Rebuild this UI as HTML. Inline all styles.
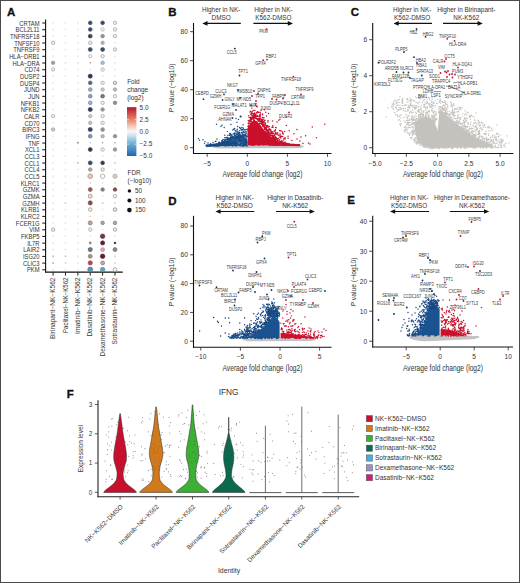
<!DOCTYPE html>
<html><head><meta charset="utf-8"><style>
html,body{margin:0;padding:0;background:#fff;}
body{width:520px;height:583px;overflow:hidden;}
svg{display:block;font-family:"Liberation Sans",sans-serif;}
</style></head><body>
<svg width="520" height="583" viewBox="0 0 520 583">
<rect x="0" y="0" width="520" height="583" fill="#fff"/>
<text x="7" y="16.3" font-size="11.5" fill="#111" font-weight="bold" stroke="#111" stroke-width="0.3">A</text>
<text x="39.6" y="25.65" font-size="6.3" text-anchor="end" fill="#333" textLength="20.29" lengthAdjust="spacingAndGlyphs">CRTAM</text>
<line x1="42.3" y1="23" x2="45.6" y2="23" stroke="#222" stroke-width="1.1"/>
<text x="39.6" y="32.32" font-size="6.3" text-anchor="end" fill="#333" textLength="24" lengthAdjust="spacingAndGlyphs">BCL2L11</text>
<line x1="42.3" y1="29.67" x2="45.6" y2="29.67" stroke="#222" stroke-width="1.1"/>
<text x="39.6" y="38.99" font-size="6.3" text-anchor="end" fill="#333" textLength="29.62" lengthAdjust="spacingAndGlyphs">TNFRSF18</text>
<line x1="42.3" y1="36.34" x2="45.6" y2="36.34" stroke="#222" stroke-width="1.1"/>
<text x="39.6" y="45.66" font-size="6.3" text-anchor="end" fill="#333" textLength="25.39" lengthAdjust="spacingAndGlyphs">TNFSF10</text>
<line x1="42.3" y1="43.01" x2="45.6" y2="43.01" stroke="#222" stroke-width="1.1"/>
<text x="39.6" y="52.33" font-size="6.3" text-anchor="end" fill="#333" textLength="26.36" lengthAdjust="spacingAndGlyphs">TNFRSF9</text>
<line x1="42.3" y1="49.68" x2="45.6" y2="49.68" stroke="#222" stroke-width="1.1"/>
<text x="39.6" y="59" font-size="6.3" text-anchor="end" fill="#333" textLength="30.45" lengthAdjust="spacingAndGlyphs">HLA−DRB1</text>
<line x1="42.3" y1="56.35" x2="45.6" y2="56.35" stroke="#222" stroke-width="1.1"/>
<text x="39.6" y="65.67" font-size="6.3" text-anchor="end" fill="#333" textLength="27.19" lengthAdjust="spacingAndGlyphs">HLA−DRA</text>
<line x1="42.3" y1="63.02" x2="45.6" y2="63.02" stroke="#222" stroke-width="1.1"/>
<text x="39.6" y="72.34" font-size="6.3" text-anchor="end" fill="#333" textLength="14.98" lengthAdjust="spacingAndGlyphs">CD74</text>
<line x1="42.3" y1="69.69" x2="45.6" y2="69.69" stroke="#222" stroke-width="1.1"/>
<text x="39.6" y="79.01" font-size="6.3" text-anchor="end" fill="#333" textLength="19.54" lengthAdjust="spacingAndGlyphs">DUSP2</text>
<line x1="42.3" y1="76.36" x2="45.6" y2="76.36" stroke="#222" stroke-width="1.1"/>
<text x="39.6" y="85.68" font-size="6.3" text-anchor="end" fill="#333" textLength="19.54" lengthAdjust="spacingAndGlyphs">DUSP4</text>
<line x1="42.3" y1="83.03" x2="45.6" y2="83.03" stroke="#222" stroke-width="1.1"/>
<text x="39.6" y="92.35" font-size="6.3" text-anchor="end" fill="#333" textLength="15.62" lengthAdjust="spacingAndGlyphs">JUND</text>
<line x1="42.3" y1="89.7" x2="45.6" y2="89.7" stroke="#222" stroke-width="1.1"/>
<text x="39.6" y="99.02" font-size="6.3" text-anchor="end" fill="#333" textLength="11.39" lengthAdjust="spacingAndGlyphs">JUN</text>
<line x1="42.3" y1="96.37" x2="45.6" y2="96.37" stroke="#222" stroke-width="1.1"/>
<text x="39.6" y="105.69" font-size="6.3" text-anchor="end" fill="#333" textLength="18.88" lengthAdjust="spacingAndGlyphs">NFKB1</text>
<line x1="42.3" y1="103.04" x2="45.6" y2="103.04" stroke="#222" stroke-width="1.1"/>
<text x="39.6" y="112.36" font-size="6.3" text-anchor="end" fill="#333" textLength="18.88" lengthAdjust="spacingAndGlyphs">NFKB2</text>
<line x1="42.3" y1="109.71" x2="45.6" y2="109.71" stroke="#222" stroke-width="1.1"/>
<text x="39.6" y="119.03" font-size="6.3" text-anchor="end" fill="#333" textLength="15.63" lengthAdjust="spacingAndGlyphs">CALR</text>
<line x1="42.3" y1="116.38" x2="45.6" y2="116.38" stroke="#222" stroke-width="1.1"/>
<text x="39.6" y="125.7" font-size="6.3" text-anchor="end" fill="#333" textLength="14.98" lengthAdjust="spacingAndGlyphs">CD70</text>
<line x1="42.3" y1="123.05" x2="45.6" y2="123.05" stroke="#222" stroke-width="1.1"/>
<text x="39.6" y="132.37" font-size="6.3" text-anchor="end" fill="#333" textLength="17.26" lengthAdjust="spacingAndGlyphs">BIRC3</text>
<line x1="42.3" y1="129.72" x2="45.6" y2="129.72" stroke="#222" stroke-width="1.1"/>
<text x="39.6" y="139.04" font-size="6.3" text-anchor="end" fill="#333" textLength="13.99" lengthAdjust="spacingAndGlyphs">IFNG</text>
<line x1="42.3" y1="136.39" x2="45.6" y2="136.39" stroke="#222" stroke-width="1.1"/>
<text x="39.6" y="145.71" font-size="6.3" text-anchor="end" fill="#333" textLength="11.39" lengthAdjust="spacingAndGlyphs">TNF</text>
<line x1="42.3" y1="143.06" x2="45.6" y2="143.06" stroke="#222" stroke-width="1.1"/>
<text x="39.6" y="152.38" font-size="6.3" text-anchor="end" fill="#333" textLength="14.66" lengthAdjust="spacingAndGlyphs">XCL1</text>
<line x1="42.3" y1="149.73" x2="45.6" y2="149.73" stroke="#222" stroke-width="1.1"/>
<text x="39.6" y="159.05" font-size="6.3" text-anchor="end" fill="#333" textLength="14.98" lengthAdjust="spacingAndGlyphs">CCL3</text>
<line x1="42.3" y1="156.4" x2="45.6" y2="156.4" stroke="#222" stroke-width="1.1"/>
<text x="39.6" y="165.72" font-size="6.3" text-anchor="end" fill="#333" textLength="14.98" lengthAdjust="spacingAndGlyphs">CCL1</text>
<line x1="42.3" y1="163.07" x2="45.6" y2="163.07" stroke="#222" stroke-width="1.1"/>
<text x="39.6" y="172.39" font-size="6.3" text-anchor="end" fill="#333" textLength="14.98" lengthAdjust="spacingAndGlyphs">CCL4</text>
<line x1="42.3" y1="169.74" x2="45.6" y2="169.74" stroke="#222" stroke-width="1.1"/>
<text x="39.6" y="179.06" font-size="6.3" text-anchor="end" fill="#333" textLength="14.98" lengthAdjust="spacingAndGlyphs">CCL5</text>
<line x1="42.3" y1="176.41" x2="45.6" y2="176.41" stroke="#222" stroke-width="1.1"/>
<text x="39.6" y="185.73" font-size="6.3" text-anchor="end" fill="#333" textLength="18.89" lengthAdjust="spacingAndGlyphs">KLRC1</text>
<line x1="42.3" y1="183.08" x2="45.6" y2="183.08" stroke="#222" stroke-width="1.1"/>
<text x="39.6" y="192.4" font-size="6.3" text-anchor="end" fill="#333" textLength="16.92" lengthAdjust="spacingAndGlyphs">GZMK</text>
<line x1="42.3" y1="189.75" x2="45.6" y2="189.75" stroke="#222" stroke-width="1.1"/>
<text x="39.6" y="199.07" font-size="6.3" text-anchor="end" fill="#333" textLength="16.92" lengthAdjust="spacingAndGlyphs">GZMA</text>
<line x1="42.3" y1="196.42" x2="45.6" y2="196.42" stroke="#222" stroke-width="1.1"/>
<text x="39.6" y="205.74" font-size="6.3" text-anchor="end" fill="#333" textLength="17.25" lengthAdjust="spacingAndGlyphs">GZMH</text>
<line x1="42.3" y1="203.09" x2="45.6" y2="203.09" stroke="#222" stroke-width="1.1"/>
<text x="39.6" y="212.41" font-size="6.3" text-anchor="end" fill="#333" textLength="18.56" lengthAdjust="spacingAndGlyphs">KLRB1</text>
<line x1="42.3" y1="209.76" x2="45.6" y2="209.76" stroke="#222" stroke-width="1.1"/>
<text x="39.6" y="219.08" font-size="6.3" text-anchor="end" fill="#333" textLength="18.89" lengthAdjust="spacingAndGlyphs">KLRC2</text>
<line x1="42.3" y1="216.43" x2="45.6" y2="216.43" stroke="#222" stroke-width="1.1"/>
<text x="39.6" y="225.75" font-size="6.3" text-anchor="end" fill="#333" textLength="23.76" lengthAdjust="spacingAndGlyphs">FCER1G</text>
<line x1="42.3" y1="223.1" x2="45.6" y2="223.1" stroke="#222" stroke-width="1.1"/>
<text x="39.6" y="232.42" font-size="6.3" text-anchor="end" fill="#333" textLength="10.42" lengthAdjust="spacingAndGlyphs">VIM</text>
<line x1="42.3" y1="229.77" x2="45.6" y2="229.77" stroke="#222" stroke-width="1.1"/>
<text x="39.6" y="239.09" font-size="6.3" text-anchor="end" fill="#333" textLength="18.56" lengthAdjust="spacingAndGlyphs">FKBP5</text>
<line x1="42.3" y1="236.44" x2="45.6" y2="236.44" stroke="#222" stroke-width="1.1"/>
<text x="39.6" y="245.76" font-size="6.3" text-anchor="end" fill="#333" textLength="12.38" lengthAdjust="spacingAndGlyphs">IL7R</text>
<line x1="42.3" y1="243.11" x2="45.6" y2="243.11" stroke="#222" stroke-width="1.1"/>
<text x="39.6" y="252.43" font-size="6.3" text-anchor="end" fill="#333" textLength="16.28" lengthAdjust="spacingAndGlyphs">LAIR2</text>
<line x1="42.3" y1="249.78" x2="45.6" y2="249.78" stroke="#222" stroke-width="1.1"/>
<text x="39.6" y="259.1" font-size="6.3" text-anchor="end" fill="#333" textLength="16.61" lengthAdjust="spacingAndGlyphs">ISG20</text>
<line x1="42.3" y1="256.45" x2="45.6" y2="256.45" stroke="#222" stroke-width="1.1"/>
<text x="39.6" y="265.77" font-size="6.3" text-anchor="end" fill="#333" textLength="16.61" lengthAdjust="spacingAndGlyphs">CLIC3</text>
<line x1="42.3" y1="263.12" x2="45.6" y2="263.12" stroke="#222" stroke-width="1.1"/>
<text x="39.6" y="272.44" font-size="6.3" text-anchor="end" fill="#333" textLength="12.7" lengthAdjust="spacingAndGlyphs">PKM</text>
<line x1="42.3" y1="269.79" x2="45.6" y2="269.79" stroke="#222" stroke-width="1.1"/>
<line x1="45.6" y1="19.5" x2="45.6" y2="272.6" stroke="#111" stroke-width="1.1"/>
<line x1="45.1" y1="272.1" x2="122.8" y2="272.1" stroke="#111" stroke-width="1.1"/>
<line x1="53.1" y1="272.1" x2="53.1" y2="275.6" stroke="#222" stroke-width="1"/>
<text x="0" y="0" font-size="6.3" fill="#333" text-anchor="end" textLength="61.4" lengthAdjust="spacingAndGlyphs" transform="translate(55.3 277.6) rotate(-90)">Birinapant−NK−K562</text>
<line x1="65.48" y1="272.1" x2="65.48" y2="275.6" stroke="#222" stroke-width="1"/>
<text x="0" y="0" font-size="6.3" fill="#333" text-anchor="end" textLength="55.4" lengthAdjust="spacingAndGlyphs" transform="translate(67.68 277.6) rotate(-90)">Paclitaxel−NK−K562</text>
<line x1="77.86" y1="272.1" x2="77.86" y2="275.6" stroke="#222" stroke-width="1"/>
<text x="0" y="0" font-size="6.3" fill="#333" text-anchor="end" textLength="56.4" lengthAdjust="spacingAndGlyphs" transform="translate(80.06 277.6) rotate(-90)">Imatinib−NK−K562</text>
<line x1="90.24" y1="272.1" x2="90.24" y2="275.6" stroke="#222" stroke-width="1"/>
<text x="0" y="0" font-size="6.3" fill="#333" text-anchor="end" textLength="59" lengthAdjust="spacingAndGlyphs" transform="translate(92.44 277.6) rotate(-90)">Dasatinib−NK−K562</text>
<line x1="102.62" y1="272.1" x2="102.62" y2="275.6" stroke="#222" stroke-width="1"/>
<text x="0" y="0" font-size="6.3" fill="#333" text-anchor="end" textLength="78.9" lengthAdjust="spacingAndGlyphs" transform="translate(104.82 277.6) rotate(-90)">Dexamethasone−NK−K562</text>
<line x1="115" y1="272.1" x2="115" y2="275.6" stroke="#222" stroke-width="1"/>
<text x="0" y="0" font-size="6.3" fill="#333" text-anchor="end" textLength="66.8" lengthAdjust="spacingAndGlyphs" transform="translate(117.2 277.6) rotate(-90)">Sotrastaurin−NK−K562</text>
<circle cx="53.1" cy="22.8" r="1" fill="#e9e9e9"/>
<circle cx="65.48" cy="22.8" r="1" fill="#e9e9e9"/>
<circle cx="77.86" cy="22.8" r="1" fill="#e9e9e9"/>
<circle cx="90.24" cy="22.8" r="1.87" fill="#34506f" stroke="#556" stroke-width="0.7"/>
<circle cx="102.62" cy="22.8" r="1.87" fill="#30496a" stroke="#556" stroke-width="0.7"/>
<circle cx="115" cy="22.8" r="1.69" fill="#f2f2f2" stroke="#999" stroke-width="0.7"/>
<circle cx="53.1" cy="29.47" r="1" fill="#e9e9e9"/>
<circle cx="65.48" cy="29.47" r="1" fill="#e9e9e9"/>
<circle cx="77.86" cy="29.47" r="1" fill="#e9e9e9"/>
<circle cx="90.24" cy="29.47" r="1.87" fill="#34506f" stroke="#556" stroke-width="0.7"/>
<circle cx="102.62" cy="29.47" r="1.69" fill="#f4eeee" stroke="#aaa" stroke-width="0.7"/>
<circle cx="115" cy="29.47" r="1.69" fill="#f2f2f2" stroke="#999" stroke-width="0.7"/>
<circle cx="53.1" cy="36.14" r="1" fill="#e9e9e9"/>
<circle cx="65.48" cy="36.14" r="1" fill="#e9e9e9"/>
<circle cx="77.86" cy="36.14" r="1" fill="#e9e9e9"/>
<circle cx="90.24" cy="36.14" r="1.96" fill="#2f4560" stroke="#555" stroke-width="0.7"/>
<circle cx="102.62" cy="36.14" r="1.78" fill="#8f959c" stroke="#888" stroke-width="0.7"/>
<circle cx="115" cy="36.14" r="1.69" fill="#f2f2f2" stroke="#999" stroke-width="0.7"/>
<circle cx="53.1" cy="42.81" r="1.69" fill="#f2f2f2" stroke="#999" stroke-width="0.7"/>
<circle cx="65.48" cy="42.81" r="1" fill="#e9e9e9"/>
<circle cx="77.86" cy="42.81" r="1" fill="#e9e9e9"/>
<circle cx="90.24" cy="42.81" r="1.69" fill="#f2f2f2" stroke="#8a94a0" stroke-width="0.7"/>
<circle cx="102.62" cy="42.81" r="1.69" fill="#b0b4b8" stroke="#999" stroke-width="0.7"/>
<circle cx="115" cy="42.81" r="1" fill="#e9e9e9"/>
<circle cx="53.1" cy="49.48" r="1" fill="#e9e9e9"/>
<circle cx="65.48" cy="49.48" r="1" fill="#e9e9e9"/>
<circle cx="77.86" cy="49.48" r="1" fill="#e9e9e9"/>
<circle cx="90.24" cy="49.48" r="1.96" fill="#34506f" stroke="#556" stroke-width="0.7"/>
<circle cx="102.62" cy="49.48" r="1.96" fill="#2f4b6e" stroke="#556" stroke-width="0.7"/>
<circle cx="115" cy="49.48" r="1.69" fill="#f2f2f2" stroke="#8a9aa8" stroke-width="0.7"/>
<circle cx="53.1" cy="56.15" r="0.9" fill="#f0dcd8"/>
<circle cx="65.48" cy="56.15" r="1" fill="#e9e9e9"/>
<circle cx="77.86" cy="56.15" r="1" fill="#e9e9e9"/>
<circle cx="90.24" cy="56.15" r="1.69" fill="#f2f2f2" stroke="#aab0b8" stroke-width="0.7"/>
<circle cx="102.62" cy="56.15" r="1.69" fill="#f2f2f2" stroke="#999" stroke-width="0.7"/>
<circle cx="115" cy="56.15" r="1" fill="#e9e9e9"/>
<circle cx="53.1" cy="62.82" r="1.78" fill="#a69a92" stroke="#999" stroke-width="0.7"/>
<circle cx="65.48" cy="62.82" r="0.9" fill="#f0d8d8"/>
<circle cx="77.86" cy="62.82" r="0.9" fill="#f0d8d8"/>
<circle cx="90.24" cy="62.82" r="0.7" fill="#d06060"/>
<circle cx="102.62" cy="62.82" r="1.78" fill="#a8c0d6" stroke="#8a9aaa" stroke-width="0.7"/>
<circle cx="115" cy="62.82" r="0.9" fill="#f0dcd8"/>
<circle cx="53.1" cy="69.49" r="1.6" fill="#f2f2f2" stroke="#999" stroke-width="0.7"/>
<circle cx="65.48" cy="69.49" r="1" fill="#e9e9e9"/>
<circle cx="77.86" cy="69.49" r="1" fill="#e9e9e9"/>
<circle cx="90.24" cy="69.49" r="0.9" fill="#e4e4f0"/>
<circle cx="102.62" cy="69.49" r="1.69" fill="#f2f2f2" stroke="#999" stroke-width="0.7"/>
<circle cx="115" cy="69.49" r="1" fill="#e9e9e9"/>
<circle cx="53.1" cy="76.16" r="1" fill="#e9e9e9"/>
<circle cx="65.48" cy="76.16" r="1" fill="#e9e9e9"/>
<circle cx="77.86" cy="76.16" r="1" fill="#e9e9e9"/>
<circle cx="90.24" cy="76.16" r="2.05" fill="#26395a" stroke="#445" stroke-width="0.7"/>
<circle cx="102.62" cy="76.16" r="1" fill="#e9e9e9"/>
<circle cx="115" cy="76.16" r="1" fill="#e9e9e9"/>
<circle cx="53.1" cy="82.83" r="1" fill="#e9e9e9"/>
<circle cx="65.48" cy="82.83" r="1" fill="#e9e9e9"/>
<circle cx="77.86" cy="82.83" r="1" fill="#e9e9e9"/>
<circle cx="90.24" cy="82.83" r="1.87" fill="#4f6886" stroke="#667" stroke-width="0.7"/>
<circle cx="102.62" cy="82.83" r="1.69" fill="#f2f2f2" stroke="#999" stroke-width="0.7"/>
<circle cx="115" cy="82.83" r="1.69" fill="#dcdcdc" stroke="#888" stroke-width="0.7"/>
<circle cx="53.1" cy="89.5" r="1" fill="#e9e9e9"/>
<circle cx="65.48" cy="89.5" r="1" fill="#e9e9e9"/>
<circle cx="77.86" cy="89.5" r="1" fill="#e9e9e9"/>
<circle cx="90.24" cy="89.5" r="1.87" fill="#9aabbd" stroke="#7a8a9a" stroke-width="0.7"/>
<circle cx="102.62" cy="89.5" r="1.69" fill="#c8ccd0" stroke="#999" stroke-width="0.7"/>
<circle cx="115" cy="89.5" r="1.69" fill="#c0c4c8" stroke="#8a8a8a" stroke-width="0.7"/>
<circle cx="53.1" cy="96.17" r="1" fill="#e9e9e9"/>
<circle cx="65.48" cy="96.17" r="1" fill="#e9e9e9"/>
<circle cx="77.86" cy="96.17" r="1" fill="#e9e9e9"/>
<circle cx="90.24" cy="96.17" r="1.87" fill="#8ea1b5" stroke="#778" stroke-width="0.7"/>
<circle cx="102.62" cy="96.17" r="1.87" fill="#6f7a86" stroke="#666" stroke-width="0.7"/>
<circle cx="115" cy="96.17" r="1.69" fill="#f2f2f2" stroke="#999" stroke-width="0.7"/>
<circle cx="53.1" cy="102.84" r="1" fill="#e9e9e9"/>
<circle cx="65.48" cy="102.84" r="1" fill="#e9e9e9"/>
<circle cx="77.86" cy="102.84" r="1" fill="#e9e9e9"/>
<circle cx="90.24" cy="102.84" r="1.87" fill="#a0b0c0" stroke="#7a8a9a" stroke-width="0.7"/>
<circle cx="102.62" cy="102.84" r="1.69" fill="#f2f2f2" stroke="#999" stroke-width="0.7"/>
<circle cx="115" cy="102.84" r="1.78" fill="#8495a8" stroke="#778" stroke-width="0.7"/>
<circle cx="53.1" cy="109.51" r="1" fill="#e9e9e9"/>
<circle cx="65.48" cy="109.51" r="1" fill="#e9e9e9"/>
<circle cx="77.86" cy="109.51" r="1" fill="#e9e9e9"/>
<circle cx="90.24" cy="109.51" r="2.05" fill="#2a3f60" stroke="#445" stroke-width="0.7"/>
<circle cx="102.62" cy="109.51" r="1.78" fill="#8b9aab" stroke="#889" stroke-width="0.7"/>
<circle cx="115" cy="109.51" r="1" fill="#e9e9e9"/>
<circle cx="53.1" cy="116.18" r="1.6" fill="#f2f2f2" stroke="#999" stroke-width="0.7"/>
<circle cx="65.48" cy="116.18" r="1" fill="#e9e9e9"/>
<circle cx="77.86" cy="116.18" r="1" fill="#e9e9e9"/>
<circle cx="90.24" cy="116.18" r="1.69" fill="#c8ccd0" stroke="#999" stroke-width="0.7"/>
<circle cx="102.62" cy="116.18" r="1.69" fill="#f2f2f2" stroke="#999" stroke-width="0.7"/>
<circle cx="115" cy="116.18" r="0.9" fill="#f3e2da"/>
<circle cx="53.1" cy="122.85" r="1" fill="#e9e9e9"/>
<circle cx="65.48" cy="122.85" r="1" fill="#e9e9e9"/>
<circle cx="77.86" cy="122.85" r="1" fill="#e9e9e9"/>
<circle cx="90.24" cy="122.85" r="1.69" fill="#c4c8cc" stroke="#999" stroke-width="0.7"/>
<circle cx="102.62" cy="122.85" r="1.69" fill="#f2f2f2" stroke="#999" stroke-width="0.7"/>
<circle cx="115" cy="122.85" r="0.9" fill="#f3e2da"/>
<circle cx="53.1" cy="129.52" r="1.69" fill="#d8cfcc" stroke="#9a8a84" stroke-width="0.7"/>
<circle cx="65.48" cy="129.52" r="0.9" fill="#f3dcdc"/>
<circle cx="77.86" cy="129.52" r="0.9" fill="#e2eee2"/>
<circle cx="90.24" cy="129.52" r="2.05" fill="#2c4a6c" stroke="#445" stroke-width="0.7"/>
<circle cx="102.62" cy="129.52" r="1.87" fill="#8e949a" stroke="#888" stroke-width="0.7"/>
<circle cx="115" cy="129.52" r="1" fill="#e9e9e9"/>
<circle cx="53.1" cy="136.19" r="1" fill="#e9e9e9"/>
<circle cx="65.48" cy="136.19" r="1" fill="#e9e9e9"/>
<circle cx="77.86" cy="136.19" r="1" fill="#e9e9e9"/>
<circle cx="90.24" cy="136.19" r="1.87" fill="#7f95ad" stroke="#778" stroke-width="0.7"/>
<circle cx="102.62" cy="136.19" r="1.69" fill="#b4b8bc" stroke="#999" stroke-width="0.7"/>
<circle cx="115" cy="136.19" r="1.78" fill="#8696a8" stroke="#889" stroke-width="0.7"/>
<circle cx="53.1" cy="142.86" r="1" fill="#e9e9e9"/>
<circle cx="65.48" cy="142.86" r="0.9" fill="#f0dcdc"/>
<circle cx="77.86" cy="142.86" r="1" fill="#7a96a8"/>
<circle cx="90.24" cy="142.86" r="0.8" fill="#b0c0e0"/>
<circle cx="102.62" cy="142.86" r="0.8" fill="#9aa4b0"/>
<circle cx="115" cy="142.86" r="0.8" fill="#9aa4b0"/>
<circle cx="53.1" cy="149.53" r="1" fill="#e9e9e9"/>
<circle cx="65.48" cy="149.53" r="1" fill="#e9e9e9"/>
<circle cx="77.86" cy="149.53" r="1" fill="#e9e9e9"/>
<circle cx="90.24" cy="149.53" r="1.96" fill="#2e3b58" stroke="#445" stroke-width="0.7"/>
<circle cx="102.62" cy="149.53" r="1.69" fill="#f2f2f2" stroke="#999" stroke-width="0.7"/>
<circle cx="115" cy="149.53" r="1.78" fill="#9aa0a6" stroke="#888" stroke-width="0.7"/>
<circle cx="53.1" cy="156.2" r="1" fill="#e9e9e9"/>
<circle cx="65.48" cy="156.2" r="1" fill="#e9e9e9"/>
<circle cx="77.86" cy="156.2" r="1" fill="#e9e9e9"/>
<circle cx="90.24" cy="156.2" r="0.9" fill="#e4e8f4"/>
<circle cx="102.62" cy="156.2" r="1" fill="#e9e9e9"/>
<circle cx="115" cy="156.2" r="1" fill="#e9e9e9"/>
<circle cx="53.1" cy="162.87" r="1" fill="#e9e9e9"/>
<circle cx="65.48" cy="162.87" r="1" fill="#e9e9e9"/>
<circle cx="77.86" cy="162.87" r="1.1" fill="#c4c4c4"/>
<circle cx="90.24" cy="162.87" r="1.96" fill="#2d4c70" stroke="#445" stroke-width="0.7"/>
<circle cx="102.62" cy="162.87" r="1.87" fill="#2a3c58" stroke="#445" stroke-width="0.7"/>
<circle cx="115" cy="162.87" r="1.1" fill="#d4d8dc"/>
<circle cx="53.1" cy="169.54" r="1" fill="#e9e9e9"/>
<circle cx="65.48" cy="169.54" r="1" fill="#e9e9e9"/>
<circle cx="77.86" cy="169.54" r="1" fill="#e9e9e9"/>
<circle cx="90.24" cy="169.54" r="1.78" fill="#b0a6a2" stroke="#8a8480" stroke-width="0.7"/>
<circle cx="102.62" cy="169.54" r="1.69" fill="#f2f2f2" stroke="#888" stroke-width="0.7"/>
<circle cx="115" cy="169.54" r="1" fill="#e9e9e9"/>
<circle cx="53.1" cy="176.21" r="1" fill="#e9e9e9"/>
<circle cx="65.48" cy="176.21" r="1" fill="#e9e9e9"/>
<circle cx="77.86" cy="176.21" r="1" fill="#e9e9e9"/>
<circle cx="90.24" cy="176.21" r="2.4" fill="#e8c4bc" stroke="#a8908a" stroke-width="0.7"/>
<circle cx="102.62" cy="176.21" r="2.23" fill="#fafafa" stroke="#999" stroke-width="0.7"/>
<circle cx="115" cy="176.21" r="2.05" fill="#e6cac4" stroke="#a8948e" stroke-width="0.7"/>
<circle cx="53.1" cy="182.88" r="1" fill="#e9e9e9"/>
<circle cx="65.48" cy="182.88" r="1" fill="#e9e9e9"/>
<circle cx="77.86" cy="182.88" r="1" fill="#e9e9e9"/>
<circle cx="90.24" cy="182.88" r="0.8" fill="#e8c8b8"/>
<circle cx="102.62" cy="182.88" r="0.8" fill="#ddd"/>
<circle cx="115" cy="182.88" r="1" fill="#e9e9e9"/>
<circle cx="53.1" cy="189.55" r="1" fill="#e9e9e9"/>
<circle cx="65.48" cy="189.55" r="1" fill="#e9e9e9"/>
<circle cx="77.86" cy="189.55" r="1" fill="#e9e9e9"/>
<circle cx="90.24" cy="189.55" r="1.96" fill="#9c5a50" stroke="#7a5a56" stroke-width="0.7"/>
<circle cx="102.62" cy="189.55" r="1.78" fill="#8c7c7a" stroke="#777" stroke-width="0.7"/>
<circle cx="115" cy="189.55" r="1.78" fill="#8c4a48" stroke="#6a4a48" stroke-width="0.7"/>
<circle cx="53.1" cy="196.22" r="1" fill="#e9e9e9"/>
<circle cx="65.48" cy="196.22" r="1" fill="#e9e9e9"/>
<circle cx="77.86" cy="196.22" r="1" fill="#e9e9e9"/>
<circle cx="90.24" cy="196.22" r="1.96" fill="#f2e2dc" stroke="#9a7a72" stroke-width="0.7"/>
<circle cx="102.62" cy="196.22" r="0.9" fill="#f4e4e4"/>
<circle cx="115" cy="196.22" r="1.78" fill="#f4f2f2" stroke="#999" stroke-width="0.7"/>
<circle cx="53.1" cy="202.89" r="1" fill="#e9e9e9"/>
<circle cx="65.48" cy="202.89" r="0.9" fill="#ccc"/>
<circle cx="77.86" cy="202.89" r="1" fill="#e9e9e9"/>
<circle cx="90.24" cy="202.89" r="2.05" fill="#8a5048" stroke="#6a4a48" stroke-width="0.7"/>
<circle cx="102.62" cy="202.89" r="1" fill="#ccc"/>
<circle cx="115" cy="202.89" r="1" fill="#ddd"/>
<circle cx="53.1" cy="209.56" r="1" fill="#e9e9e9"/>
<circle cx="65.48" cy="209.56" r="1" fill="#e9e9e9"/>
<circle cx="77.86" cy="209.56" r="1" fill="#e9e9e9"/>
<circle cx="90.24" cy="209.56" r="1.78" fill="#f4ece8" stroke="#9a8a84" stroke-width="0.7"/>
<circle cx="102.62" cy="209.56" r="1" fill="#e9e9e9"/>
<circle cx="115" cy="209.56" r="1.78" fill="#f0e8e4" stroke="#8a7a74" stroke-width="0.7"/>
<circle cx="53.1" cy="216.23" r="1" fill="#e9e9e9"/>
<circle cx="65.48" cy="216.23" r="1" fill="#e9e9e9"/>
<circle cx="77.86" cy="216.23" r="1" fill="#e9e9e9"/>
<circle cx="90.24" cy="216.23" r="0.8" fill="#e8b8a8"/>
<circle cx="102.62" cy="216.23" r="0.9" fill="#e4ecec"/>
<circle cx="115" cy="216.23" r="0.8" fill="#e4ecf4"/>
<circle cx="53.1" cy="222.9" r="1" fill="#e9e9e9"/>
<circle cx="65.48" cy="222.9" r="1" fill="#e9e9e9"/>
<circle cx="77.86" cy="222.9" r="1" fill="#e9e9e9"/>
<circle cx="90.24" cy="222.9" r="2.05" fill="#c8a090" stroke="#9a7a70" stroke-width="0.7"/>
<circle cx="102.62" cy="222.9" r="1.78" fill="#b0a09a" stroke="#8a7a74" stroke-width="0.7"/>
<circle cx="115" cy="222.9" r="1.78" fill="#b4a49e" stroke="#8a7a74" stroke-width="0.7"/>
<circle cx="53.1" cy="229.57" r="1.69" fill="#f2f2f2" stroke="#888" stroke-width="0.7"/>
<circle cx="65.48" cy="229.57" r="1" fill="#e9e9e9"/>
<circle cx="77.86" cy="229.57" r="1" fill="#e9e9e9"/>
<circle cx="90.24" cy="229.57" r="1.69" fill="#f2f2f2" stroke="#999" stroke-width="0.7"/>
<circle cx="102.62" cy="229.57" r="1" fill="#e9e9e9"/>
<circle cx="115" cy="229.57" r="1.69" fill="#f2f2f2" stroke="#888" stroke-width="0.7"/>
<circle cx="53.1" cy="236.24" r="1" fill="#e9e9e9"/>
<circle cx="65.48" cy="236.24" r="1" fill="#e9e9e9"/>
<circle cx="77.86" cy="236.24" r="1" fill="#e9e9e9"/>
<circle cx="90.24" cy="236.24" r="1" fill="#e9e9e9"/>
<circle cx="102.62" cy="236.24" r="2.23" fill="#7c3444" stroke="#5a3a40" stroke-width="0.7"/>
<circle cx="115" cy="236.24" r="1" fill="#e9e9e9"/>
<circle cx="53.1" cy="242.91" r="1" fill="#e9e9e9"/>
<circle cx="65.48" cy="242.91" r="1" fill="#e9e9e9"/>
<circle cx="77.86" cy="242.91" r="1" fill="#e9e9e9"/>
<circle cx="90.24" cy="242.91" r="1.3" fill="#a87a68"/>
<circle cx="102.62" cy="242.91" r="2.05" fill="#6c1a30" stroke="#4a2a30" stroke-width="0.7"/>
<circle cx="115" cy="242.91" r="1.2" fill="#5a3030"/>
<circle cx="53.1" cy="249.58" r="1" fill="#e9e9e9"/>
<circle cx="65.48" cy="249.58" r="1" fill="#e9e9e9"/>
<circle cx="77.86" cy="249.58" r="1" fill="#e9e9e9"/>
<circle cx="90.24" cy="249.58" r="2.05" fill="#5f7f9f" stroke="#556" stroke-width="0.7"/>
<circle cx="102.62" cy="249.58" r="1.87" fill="#e8aab0" stroke="#a88088" stroke-width="0.7"/>
<circle cx="115" cy="249.58" r="1.96" fill="#7890a8" stroke="#667" stroke-width="0.7"/>
<circle cx="53.1" cy="256.25" r="1" fill="#b0c4d4"/>
<circle cx="65.48" cy="256.25" r="1" fill="#e8b8b8"/>
<circle cx="77.86" cy="256.25" r="0.9" fill="#f4dcdc"/>
<circle cx="90.24" cy="256.25" r="1.96" fill="#b0907e" stroke="#8a7a70" stroke-width="0.7"/>
<circle cx="102.62" cy="256.25" r="2.23" fill="#6a1a2c" stroke="#4a2a30" stroke-width="0.7"/>
<circle cx="115" cy="256.25" r="1.1" fill="#ead4c4"/>
<circle cx="53.1" cy="262.92" r="1" fill="#c8b0a0"/>
<circle cx="65.48" cy="262.92" r="0.9" fill="#c4d4e4"/>
<circle cx="77.86" cy="262.92" r="0.9" fill="#f4dcdc"/>
<circle cx="90.24" cy="262.92" r="2.14" fill="#b04a5a" stroke="#8a4a54" stroke-width="0.7"/>
<circle cx="102.62" cy="262.92" r="1.96" fill="#c4a4a4" stroke="#8a7a7a" stroke-width="0.7"/>
<circle cx="115" cy="262.92" r="1" fill="#ead4c4"/>
<circle cx="53.1" cy="269.59" r="1" fill="#e9e9e9"/>
<circle cx="65.48" cy="269.59" r="1" fill="#e9e9e9"/>
<circle cx="77.86" cy="269.59" r="1" fill="#e9e9e9"/>
<circle cx="90.24" cy="269.59" r="2.49" fill="#5a92b2" stroke="#557a90" stroke-width="0.7"/>
<circle cx="102.62" cy="269.59" r="2.23" fill="#64a4b4" stroke="#5a8a98" stroke-width="0.7"/>
<circle cx="115" cy="269.59" r="1.96" fill="#f4f6f8" stroke="#8a96a0" stroke-width="0.7"/>
<text x="127.2" y="83.9" font-size="6.4" fill="#333">Fold</text>
<text x="127.2" y="92.1" font-size="6.4" fill="#333">change</text>
<text x="127.2" y="100.1" font-size="6.4" fill="#333">(log2)</text>
<defs><linearGradient id="rdbu" x1="0" y1="0" x2="0" y2="1">
<stop offset="0" stop-color="#b2182b"/><stop offset="0.25" stop-color="#e7826a"/>
<stop offset="0.42" stop-color="#f7d8c8"/><stop offset="0.5" stop-color="#f7f7f7"/>
<stop offset="0.58" stop-color="#cfe3ef"/><stop offset="0.75" stop-color="#6aaed6"/>
<stop offset="1" stop-color="#2166ac"/></linearGradient></defs>
<rect x="127" y="107.2" width="9.4" height="48.8" fill="url(#rdbu)"/>
<text x="139.6" y="109.7" font-size="6.4" fill="#333">5.0</text>
<line x1="127" y1="119.7" x2="129" y2="119.7" stroke="#fff" stroke-width="0.6"/>
<line x1="134.4" y1="119.7" x2="136.4" y2="119.7" stroke="#fff" stroke-width="0.6"/>
<text x="139.6" y="121.9" font-size="6.4" fill="#333">2.5</text>
<text x="139.6" y="133.9" font-size="6.4" fill="#333">0.0</text>
<line x1="127" y1="144.2" x2="129" y2="144.2" stroke="#fff" stroke-width="0.6"/>
<line x1="134.4" y1="144.2" x2="136.4" y2="144.2" stroke="#fff" stroke-width="0.6"/>
<text x="139.6" y="146.4" font-size="6.4" fill="#333">−2.5</text>
<text x="139.6" y="158" font-size="6.4" fill="#333">−5.0</text>
<text x="127.6" y="175.1" font-size="6.4" fill="#333">FDR</text>
<text x="127.6" y="182.9" font-size="6.4" fill="#333">(−log10)</text>
<circle cx="129.4" cy="190.9" r="1.7" fill="#111"/>
<text x="135" y="193.1" font-size="6.4" fill="#333">50</text>
<circle cx="129.4" cy="200.5" r="2" fill="#111"/>
<text x="135" y="202.7" font-size="6.4" fill="#333">100</text>
<circle cx="129.4" cy="210.1" r="2.3" fill="#111"/>
<text x="135" y="212.3" font-size="6.4" fill="#333">150</text>
<text x="168.3" y="15.6" font-size="11.5" fill="#111" font-weight="bold" stroke="#111" stroke-width="0.3">B</text>
<text x="221.2" y="11.9" font-size="6.4" text-anchor="middle" fill="#333">Higher in NK-</text>
<text x="221.2" y="20" font-size="6.4" text-anchor="middle" fill="#333">DMSO</text>
<text x="273.4" y="11.9" font-size="6.4" text-anchor="middle" fill="#333">Higher in NK-</text>
<text x="273.4" y="20" font-size="6.4" text-anchor="middle" fill="#333">K562-DMSO</text>
<path d="M240.8 23.4H206.3" stroke="#111" stroke-width="1.1"/>
<path d="M202.3 23.4L207.5 21.1L207.5 25.7Z" fill="#111"/>
<path d="M253.4 23.4H289" stroke="#111" stroke-width="1.1"/>
<path d="M293 23.4L287.8 21.1L287.8 25.7Z" fill="#111"/>
<line x1="193.5" y1="23" x2="193.5" y2="154" stroke="#111" stroke-width="1.1"/>
<line x1="193" y1="153.5" x2="331.5" y2="153.5" stroke="#111" stroke-width="1.1"/>
<line x1="190" y1="147.7" x2="193.5" y2="147.7" stroke="#222" stroke-width="0.8"/>
<text x="187.9" y="150.1" font-size="6.6" text-anchor="end" fill="#333">0</text>
<line x1="190" y1="118.7" x2="193.5" y2="118.7" stroke="#222" stroke-width="0.8"/>
<text x="187.9" y="121.1" font-size="6.6" text-anchor="end" fill="#333">20</text>
<line x1="190" y1="89.7" x2="193.5" y2="89.7" stroke="#222" stroke-width="0.8"/>
<text x="187.9" y="92.1" font-size="6.6" text-anchor="end" fill="#333">40</text>
<line x1="190" y1="60.7" x2="193.5" y2="60.7" stroke="#222" stroke-width="0.8"/>
<text x="187.9" y="63.1" font-size="6.6" text-anchor="end" fill="#333">60</text>
<line x1="190" y1="31.7" x2="193.5" y2="31.7" stroke="#222" stroke-width="0.8"/>
<text x="187.9" y="34.1" font-size="6.6" text-anchor="end" fill="#333">80</text>
<line x1="207.2" y1="153.5" x2="207.2" y2="156.8" stroke="#222" stroke-width="0.8"/>
<text x="207.2" y="165.5" font-size="6.6" text-anchor="middle" fill="#333">−5</text>
<line x1="247.3" y1="153.5" x2="247.3" y2="156.8" stroke="#222" stroke-width="0.8"/>
<text x="247.3" y="165.5" font-size="6.6" text-anchor="middle" fill="#333">0</text>
<line x1="287.4" y1="153.5" x2="287.4" y2="156.8" stroke="#222" stroke-width="0.8"/>
<text x="287.4" y="165.5" font-size="6.6" text-anchor="middle" fill="#333">5</text>
<line x1="327.5" y1="153.5" x2="327.5" y2="156.8" stroke="#222" stroke-width="0.8"/>
<text x="327.5" y="165.5" font-size="6.6" text-anchor="middle" fill="#333">10</text>
<text x="262.5" y="177.3" font-size="8.7" text-anchor="middle" fill="#333" textLength="80" lengthAdjust="spacingAndGlyphs">Average fold change (log2)</text>
<text font-size="7.6" fill="#333" text-anchor="middle" transform="translate(174.3 88) rotate(-90)" textLength="49" lengthAdjust="spacingAndGlyphs"><tspan font-style="italic">P</tspan> value (−log10)</text>
<text x="350.8" y="16.3" font-size="11.5" fill="#111" font-weight="bold" stroke="#111" stroke-width="0.3">C</text>
<text x="412.2" y="11.9" font-size="6.4" text-anchor="middle" fill="#333">Higher in NK-</text>
<text x="412.2" y="20" font-size="6.4" text-anchor="middle" fill="#333">K562-DMSO</text>
<text x="466.3" y="11.9" font-size="6.4" text-anchor="middle" fill="#333">Higher in Birinapant-</text>
<text x="466.3" y="20" font-size="6.4" text-anchor="middle" fill="#333">NK-K562</text>
<path d="M432 23.4H397.5" stroke="#111" stroke-width="1.1"/>
<path d="M393.5 23.4L398.7 21.1L398.7 25.7Z" fill="#111"/>
<path d="M443 23.4H478.8" stroke="#111" stroke-width="1.1"/>
<path d="M482.8 23.4L477.6 21.1L477.6 25.7Z" fill="#111"/>
<line x1="372.7" y1="23" x2="372.7" y2="154" stroke="#111" stroke-width="1.1"/>
<line x1="372.2" y1="153.5" x2="513.3" y2="153.5" stroke="#111" stroke-width="1.1"/>
<line x1="369.2" y1="147.7" x2="372.7" y2="147.7" stroke="#222" stroke-width="0.8"/>
<text x="367.1" y="150.1" font-size="6.6" text-anchor="end" fill="#333">0</text>
<line x1="369.2" y1="111.7" x2="372.7" y2="111.7" stroke="#222" stroke-width="0.8"/>
<text x="367.1" y="114.1" font-size="6.6" text-anchor="end" fill="#333">2</text>
<line x1="369.2" y1="75.7" x2="372.7" y2="75.7" stroke="#222" stroke-width="0.8"/>
<text x="367.1" y="78.1" font-size="6.6" text-anchor="end" fill="#333">4</text>
<line x1="369.2" y1="39.7" x2="372.7" y2="39.7" stroke="#222" stroke-width="0.8"/>
<text x="367.1" y="42.1" font-size="6.6" text-anchor="end" fill="#333">6</text>
<line x1="375.1" y1="153.5" x2="375.1" y2="156.8" stroke="#222" stroke-width="0.8"/>
<text x="375.1" y="165.5" font-size="6.6" text-anchor="middle" fill="#333">−5.0</text>
<line x1="406.35" y1="153.5" x2="406.35" y2="156.8" stroke="#222" stroke-width="0.8"/>
<text x="406.35" y="165.5" font-size="6.6" text-anchor="middle" fill="#333">−2.5</text>
<line x1="437.6" y1="153.5" x2="437.6" y2="156.8" stroke="#222" stroke-width="0.8"/>
<text x="437.6" y="165.5" font-size="6.6" text-anchor="middle" fill="#333">0.0</text>
<line x1="468.85" y1="153.5" x2="468.85" y2="156.8" stroke="#222" stroke-width="0.8"/>
<text x="468.85" y="165.5" font-size="6.6" text-anchor="middle" fill="#333">2.5</text>
<line x1="500.1" y1="153.5" x2="500.1" y2="156.8" stroke="#222" stroke-width="0.8"/>
<text x="500.1" y="165.5" font-size="6.6" text-anchor="middle" fill="#333">5.0</text>
<text x="443" y="177.3" font-size="8.7" text-anchor="middle" fill="#333" textLength="80" lengthAdjust="spacingAndGlyphs">Average fold change (log2)</text>
<text font-size="7.6" fill="#333" text-anchor="middle" transform="translate(356.1 88) rotate(-90)" textLength="49" lengthAdjust="spacingAndGlyphs"><tspan font-style="italic">P</tspan> value (−log10)</text>
<text x="168.2" y="204.5" font-size="11.5" fill="#111" font-weight="bold" stroke="#111" stroke-width="0.3">D</text>
<text x="234.6" y="200.3" font-size="6.4" text-anchor="middle" fill="#333">Higher in NK-</text>
<text x="234.6" y="208.4" font-size="6.4" text-anchor="middle" fill="#333">K562-DMSO</text>
<text x="295.2" y="200.3" font-size="6.4" text-anchor="middle" fill="#333">Higher in Dasatinib-</text>
<text x="295.2" y="208.4" font-size="6.4" text-anchor="middle" fill="#333">NK-K562</text>
<path d="M254.3 211.5H219.4" stroke="#111" stroke-width="1.1"/>
<path d="M215.4 211.5L220.6 209.2L220.6 213.8Z" fill="#111"/>
<path d="M276 211.5H310.9" stroke="#111" stroke-width="1.1"/>
<path d="M314.9 211.5L309.7 209.2L309.7 213.8Z" fill="#111"/>
<line x1="193.5" y1="215.8" x2="193.5" y2="347.8" stroke="#111" stroke-width="1.1"/>
<line x1="193" y1="347.3" x2="331.5" y2="347.3" stroke="#111" stroke-width="1.1"/>
<line x1="190" y1="341.2" x2="193.5" y2="341.2" stroke="#222" stroke-width="0.8"/>
<text x="187.9" y="343.6" font-size="6.6" text-anchor="end" fill="#333">0</text>
<line x1="190" y1="312.4" x2="193.5" y2="312.4" stroke="#222" stroke-width="0.8"/>
<text x="187.9" y="314.8" font-size="6.6" text-anchor="end" fill="#333">20</text>
<line x1="190" y1="283.6" x2="193.5" y2="283.6" stroke="#222" stroke-width="0.8"/>
<text x="187.9" y="286" font-size="6.6" text-anchor="end" fill="#333">40</text>
<line x1="190" y1="254.8" x2="193.5" y2="254.8" stroke="#222" stroke-width="0.8"/>
<text x="187.9" y="257.2" font-size="6.6" text-anchor="end" fill="#333">60</text>
<line x1="190" y1="226" x2="193.5" y2="226" stroke="#222" stroke-width="0.8"/>
<text x="187.9" y="228.4" font-size="6.6" text-anchor="end" fill="#333">80</text>
<line x1="200.8" y1="347.3" x2="200.8" y2="350.6" stroke="#222" stroke-width="0.8"/>
<text x="200.8" y="359.3" font-size="6.6" text-anchor="middle" fill="#333">−10</text>
<line x1="240.4" y1="347.3" x2="240.4" y2="350.6" stroke="#222" stroke-width="0.8"/>
<text x="240.4" y="359.3" font-size="6.6" text-anchor="middle" fill="#333">−5</text>
<line x1="280" y1="347.3" x2="280" y2="350.6" stroke="#222" stroke-width="0.8"/>
<text x="280" y="359.3" font-size="6.6" text-anchor="middle" fill="#333">0</text>
<line x1="319.6" y1="347.3" x2="319.6" y2="350.6" stroke="#222" stroke-width="0.8"/>
<text x="319.6" y="359.3" font-size="6.6" text-anchor="middle" fill="#333">5</text>
<text x="262.5" y="371" font-size="8.7" text-anchor="middle" fill="#333" textLength="80" lengthAdjust="spacingAndGlyphs">Average fold change (log2)</text>
<text font-size="7.6" fill="#333" text-anchor="middle" transform="translate(174.3 282) rotate(-90)" textLength="49" lengthAdjust="spacingAndGlyphs"><tspan font-style="italic">P</tspan> value (−log10)</text>
<text x="347.2" y="204.3" font-size="11.5" fill="#111" font-weight="bold" stroke="#111" stroke-width="0.3">E</text>
<text x="409.2" y="200.3" font-size="6.4" text-anchor="middle" fill="#333">Higher in NK-</text>
<text x="409.2" y="208.4" font-size="6.4" text-anchor="middle" fill="#333">K562-DMSO</text>
<text x="472" y="200.3" font-size="6.4" text-anchor="middle" fill="#333">Higher in Dexamethasone-</text>
<text x="472" y="208.4" font-size="6.4" text-anchor="middle" fill="#333">NK-K562</text>
<path d="M429 211.5H394" stroke="#111" stroke-width="1.1"/>
<path d="M390 211.5L395.2 209.2L395.2 213.8Z" fill="#111"/>
<path d="M449.8 211.5H485.2" stroke="#111" stroke-width="1.1"/>
<path d="M489.2 211.5L484 209.2L484 213.8Z" fill="#111"/>
<line x1="372.7" y1="215.8" x2="372.7" y2="347.5" stroke="#111" stroke-width="1.1"/>
<line x1="372.2" y1="347" x2="513" y2="347" stroke="#111" stroke-width="1.1"/>
<line x1="369.2" y1="341.2" x2="372.7" y2="341.2" stroke="#222" stroke-width="0.8"/>
<text x="367.1" y="343.6" font-size="6.6" text-anchor="end" fill="#333">0</text>
<line x1="369.2" y1="311.2" x2="372.7" y2="311.2" stroke="#222" stroke-width="0.8"/>
<text x="367.1" y="313.6" font-size="6.6" text-anchor="end" fill="#333">10</text>
<line x1="369.2" y1="281.2" x2="372.7" y2="281.2" stroke="#222" stroke-width="0.8"/>
<text x="367.1" y="283.6" font-size="6.6" text-anchor="end" fill="#333">20</text>
<line x1="369.2" y1="251.2" x2="372.7" y2="251.2" stroke="#222" stroke-width="0.8"/>
<text x="367.1" y="253.6" font-size="6.6" text-anchor="end" fill="#333">30</text>
<line x1="369.2" y1="221.2" x2="372.7" y2="221.2" stroke="#222" stroke-width="0.8"/>
<text x="367.1" y="223.6" font-size="6.6" text-anchor="end" fill="#333">40</text>
<line x1="406.2" y1="347" x2="406.2" y2="350.3" stroke="#222" stroke-width="0.8"/>
<text x="406.2" y="359" font-size="6.6" text-anchor="middle" fill="#333">−5</text>
<line x1="440.2" y1="347" x2="440.2" y2="350.3" stroke="#222" stroke-width="0.8"/>
<text x="440.2" y="359" font-size="6.6" text-anchor="middle" fill="#333">0</text>
<line x1="474.2" y1="347" x2="474.2" y2="350.3" stroke="#222" stroke-width="0.8"/>
<text x="474.2" y="359" font-size="6.6" text-anchor="middle" fill="#333">5</text>
<line x1="508.2" y1="347" x2="508.2" y2="350.3" stroke="#222" stroke-width="0.8"/>
<text x="508.2" y="359" font-size="6.6" text-anchor="middle" fill="#333">10</text>
<text x="443" y="371" font-size="8.7" text-anchor="middle" fill="#333" textLength="80" lengthAdjust="spacingAndGlyphs">Average fold change (log2)</text>
<text font-size="7.6" fill="#333" text-anchor="middle" transform="translate(356.1 282) rotate(-90)" textLength="49" lengthAdjust="spacingAndGlyphs"><tspan font-style="italic">P</tspan> value (−log10)</text>
<path d="M212 146.2 C230 145.4 280 145.2 302 145.6 C306 146.2 304 147.8 298 148.2 L222 148.4 C214 148.2 210 147 212 146.2Z" fill="#c3c5c8"/>
<path d="M207 146 L206 147.2 L212 146.5 L218 145.5 L222 144 L226 141.5 L230 139 L234 137 L238 135.5 L241 134.5 L244 135.5 L246.5 138 L247.2 139 L247.2 146 Z" fill="#1b5290" opacity="0.8"/>
<path d="M224.64 143.51h0M244.08 139.36h0M226.92 143.08h0M213.61 145.14h0M231.95 143.93h0M209.88 145.13h0M209.74 145.76h0M234.57 135.26h0M246.47 145.65h0M232.94 141.97h0M212.49 144.44h0M227.77 138.85h0M213.84 144.63h0M207.24 145.49h0M224.15 145.16h0M227.39 143.35h0M226.59 143.68h0M224.84 141.83h0M247.1 145.96h0M240.62 142.09h0M218.99 143.79h0M217.91 143.69h0M237.57 138.6h0M240.88 137.74h0M245.47 144.32h0M206.02 145.37h0M243.5 139.29h0M246.39 139.91h0M209.01 145.57h0M238.07 136.85h0M209.59 145.19h0M245.72 143.39h0M210.86 144.97h0M210.16 144.79h0M238.84 135.49h0M229.04 141.36h0M213.86 145.51h0M211.4 145.49h0M210.8 145.21h0M214.77 144.57h0M246 143.94h0M218.53 145.69h0M214.68 144.82h0M241.2 141.19h0M210.13 145.99h0M214.79 144.54h0M237.83 137.65h0M218.21 143.61h0M209.71 145.49h0M216.01 145.14h0M221.31 143.95h0M245.52 140.33h0M229.67 144.83h0M213.53 144.52h0M243.43 143.69h0M216.28 144.21h0M236.46 145.29h0M214.1 145.91h0M242.35 140.83h0M223.36 141.65h0M207.59 145.96h0M215.82 145.37h0M216.59 145.6h0M230.57 139.44h0M213.23 145.52h0M208.83 145.13h0M229.05 144.76h0M231.31 139.05h0M243.8 136h0M206.68 145.36h0M224.36 140.85h0M213.26 144.92h0M229.57 138.42h0M220.92 145.61h0M246.4 142.53h0M234.48 141.35h0M211.78 144.58h0M206.74 145.92h0M234.88 145.58h0M206.88 145.67h0M225.87 144.27h0M219.14 146h0M209.1 145.47h0M236.36 144.81h0M236.37 142.48h0M238.68 144.92h0M220.5 144.92h0M243.11 144.35h0M223.19 145.01h0M241.58 140.31h0M231.75 139.9h0M230.01 142.48h0M209.3 145.57h0M246.92 144.87h0M236 138.81h0M236.28 141.03h0M224.15 145.14h0M209.45 145.7h0M207.23 145.62h0M225.82 141.09h0M234.77 140.32h0M231.32 145.23h0M216.54 143.77h0M218.4 145.15h0M214.35 144.43h0M243.32 141.67h0M224.21 145.42h0M219.47 144.98h0M214.18 144.94h0M239.21 144.89h0M242.27 137.95h0M230.02 139.84h0M211.61 145.27h0M240.49 143.98h0M235.3 145.43h0M217.4 144.01h0M224.57 141.94h0M214.82 144.85h0M231.78 140.99h0M218.99 145.54h0M246.46 140.5h0M209.08 144.88h0M241.96 133.37h0M235.2 141.08h0M218.73 145.42h0M206.79 145.23h0M224.74 140.43h0M240.18 135.91h0M211.8 144.59h0M231.92 140.49h0M231.95 142.56h0M239.26 145.46h0M234.2 137.13h0M225.58 140.88h0M206.44 145.55h0M235.42 136.53h0M217.22 144.45h0M234.73 140.59h0M231.32 143.65h0M222.21 145.14h0M243.34 134.39h0M244.42 142.65h0M211.35 145.22h0M231.77 145.11h0M221.52 144.35h0M242.23 143.34h0M244.9 139.78h0M232.83 137.72h0M235.74 143.88h0M232.43 143.12h0M214.79 145.8h0M246.4 145.77h0M228.12 144.36h0M219.2 145.73h0M241.26 137.26h0M209.41 145.33h0M228.67 144.11h0M226.08 139.63h0M239.34 133.88h0M238.95 135.4h0M219.8 145.33h0M211.79 144.74h0M227.28 143.98h0M240.61 141.85h0M244.96 140.15h0M245.11 135.59h0M215.12 145.04h0M217.95 145.32h0M232.32 141.15h0M240.76 140.1h0M218.84 144.26h0M240.82 144.66h0M214.58 145.71h0M245.9 140.96h0M229.61 139h0M228.08 142.12h0M230.94 136.8h0M245.94 140.89h0M222.5 145.14h0M229.19 141.68h0M234.47 135.56h0M228.2 141.39h0M245.42 145.15h0M217.09 144.76h0M211.23 145.2h0M239.61 144.7h0M225.63 141.72h0M213.89 145.31h0M244.12 135.22h0M238.11 133.75h0M214 144.58h0M234.31 138.47h0M220.64 144.67h0M210.32 145.65h0M211.06 145.32h0M216.32 144.22h0M227.85 141.69h0M221.48 143.77h0M227.81 139.59h0M214.42 145.3h0M232.3 141.22h0M241.07 140.77h0M241.3 135.72h0M236.52 143.74h0M243.19 137.26h0M218.98 145.78h0M214.99 146h0M242.57 134.76h0M215.86 145.41h0M216.69 143.94h0M240.29 138.33h0M238.55 134.92h0M222.59 144.62h0M206.73 145.29h0M234.11 145.02h0M245.9 136.62h0M226.83 144.3h0M226.71 143.82h0M213.79 144.33h0M210.37 144.74h0M228.73 142.02h0M229.43 138.62h0M213.6 144.59h0M240.62 145.87h0M244.19 134.86h0M208.55 145.95h0M225.04 144.61h0M219.47 144.37h0M227.23 141.86h0M230.76 136.75h0M234.88 144.24h0M213.47 145.05h0M236.46 138.91h0M214.04 144.46h0M227.12 138.91h0M242.8 143.44h0M235.03 144.41h0M231.93 140.07h0M230.7 141.36h0M246.49 144.05h0M216.64 145.8h0M236.67 143.34h0M239.56 138.26h0M242.94 144.46h0M234.63 143.39h0M237.53 138.68h0M235.77 135.16h0M220.08 144.26h0M206.44 145.45h0M232.31 142.18h0M215.56 145.88h0M233.44 138.9h0M233.18 141.44h0M227.96 141.28h0M247.2 142.78h0M234.89 143.3h0M246.38 136.11h0M231.35 143.47h0M216.57 144.65h0M208.08 145.16h0M221.48 142.57h0M216.34 145.79h0M228.66 141.98h0M245.85 141.4h0M247 142.64h0M239.35 134.04h0M230.62 143.76h0M207.86 145.93h0M212.59 145.16h0M212.97 145.16h0M231.18 136.97h0M244.95 139.31h0M227.7 142.96h0M221.06 143.39h0M232.99 141.39h0M217.68 145.31h0M218.2 143.46h0M216.09 143.91h0M212.45 145.61h0M222.07 145.59h0M236.83 134.54h0M246.74 145.46h0M209.03 145.89h0M223.7 143.36h0M246.09 138.13h0M227.56 145.53h0M235.78 139.8h0M246.33 144.14h0M230.87 137.65h0M231.72 140.63h0M214.39 144.2h0M227.76 139.35h0M224.25 144.21h0M224.77 141.77h0M229.99 140.78h0M238.05 140.13h0M247.1 145.57h0M236.25 136.98h0M210.69 145.86h0M238.31 141.27h0M220.8 143.41h0M234.22 141.18h0M230.38 142.63h0M237.04 136.16h0M216.26 145.96h0M243.73 144.47h0M207.63 145.07h0M217.16 144.64h0M231.68 137.17h0M228.32 138.63h0M209.56 145.61h0M228.69 142.98h0M221.38 144.04h0M214.68 144.72h0M236.69 144.06h0M209.06 144.98h0M239.34 141.13h0M237.67 136.26h0M223.48 142.34h0M239.37 137.82h0M232.93 145.89h0M219.41 144.63h0M236.74 145.05h0M223.62 142.84h0M210 145.84h0M209.23 144.92h0M229.25 141.61h0M234.24 138.23h0M237.95 134.47h0M214.79 145.34h0M209.37 145.17h0M235.87 142.42h0M217.66 143.91h0M220.74 145.03h0M221.1 142.77h0M235.22 141.06h0M243.84 145.25h0M243.63 138.91h0M239.09 137.06h0M219.09 144.25h0M244.51 144.74h0M216.23 144.59h0M221.06 143.68h0M222.3 143.44h0M214.03 145.2h0M238.84 140.13h0M240.46 140.18h0M213.28 145.59h0M242.29 136.61h0M206.92 145.56h0M228.42 142.53h0M245.82 142.27h0M239.14 133.95h0M228.53 144.29h0M209.46 144.89h0M236.37 144.8h0M209.49 145.56h0M211.93 145.62h0M232.74 138.18h0M215.08 145.53h0M227.49 144.25h0M222.25 143.25h0M245.89 142.52h0M226.34 142.89h0M235.7 142.6h0M243.7 138.57h0M240.04 141.61h0M241.16 143.39h0M240.35 144.52h0M245.46 142.03h0M227.58 143.83h0M239.05 138.57h0M223.32 141.88h0M236.54 145.89h0M221.47 142.84h0M214.42 144.91h0M218.03 145.92h0M208.44 145.25h0M210.73 145.52h0M237.97 135.75h0M208.57 145.4h0M230.06 145.18h0M207.5 145.13h0M213.6 144.62h0M215.7 145.4h0M230.51 138.82h0M213.62 144.73h0M213.11 145.59h0M218.84 144.73h0M239.67 139.2h0M216.73 145.74h0M243.67 137.7h0M228.55 145.65h0M225.88 140.99h0M208.05 145.95h0M239.02 138.1h0M227.74 142.33h0M217.31 145.98h0M233.09 137.96h0M206.45 145.55h0M221.31 145.24h0M235.39 141.46h0M212.48 144.67h0M219.26 143.8h0M241.81 139.6h0M232.24 145.93h0M216.98 144.92h0M212.21 145.65h0M206.06 145.86h0M240.86 143.61h0M209.4 145.13h0M235.52 135.55h0M225.78 142.62h0M245.37 141.4h0M241.32 136.67h0M238.52 138.61h0M243.77 134.57h0M240.04 135.57h0M228.39 142.21h0M212.49 145.73h0M218.83 144.06h0M209.13 145.19h0M225.25 144.28h0M220.82 144.89h0M210.36 145.21h0M225.02 145.81h0M240.19 141.42h0M206.51 145.46h0M235.25 137.25h0M229.24 141.38h0M206.43 145.99h0M238.94 135.84h0M231.38 139.12h0M221.49 144.25h0M218.29 144.27h0M222.16 144.63h0M216.57 144.19h0M236.14 138.09h0M244.94 140.94h0M235.82 138.19h0M240.07 134.03h0M211.8 144.66h0M233.92 142.8h0M213.41 144.96h0M240.48 140.57h0M209.71 145.05h0M212.47 144.62h0M222.76 141.85h0M243.93 138.82h0M227.08 143.47h0M237.59 143.79h0M221.9 143.35h0M222.98 141.46h0M222.51 144.7h0M246.46 143.89h0M233.2 141.85h0M206.76 145.41h0M220.1 144.85h0M210.38 145.18h0M226.99 144.5h0M240 140.88h0M212.52 145.63h0M243.2 140.23h0M220.53 144.28h0M211.84 145.58h0M246.66 141.27h0M235.47 144.1h0M214.12 145.9h0M231.84 138.04h0M209.43 145.09h0M229.75 143.32h0M219.56 145.78h0M220.88 144.08h0M211.11 145.96h0M211.59 145.86h0M228.39 142.49h0M229.09 139.8h0M243.46 145.9h0M239.68 140.8h0M211.05 145.76h0M217.89 145.74h0M215.92 145.08h0M240.23 135.22h0M228.57 138.51h0M207.32 145.22h0M246.66 145.41h0M233.12 138.69h0M233.65 143.16h0M221.72 144.41h0M239.12 133.34h0M214.22 145.01h0M211.89 145.09h0M229.46 138.84h0M227.41 140.56h0M229.4 140.24h0M232.44 136.17h0M233.64 136.74h0M245.52 141.61h0M225.36 142.41h0M231.7 142.94h0M237.23 142.97h0M226.01 145.96h0M240.54 144.07h0M222.85 143.43h0M229.32 145.19h0M227.67 142.42h0M223.81 145.51h0M219.21 143.21h0M235.89 144.83h0M236.16 141.25h0M236.98 137.58h0M230.45 137.42h0M211.13 145.23h0M226.71 141.81h0M208.14 145.68h0M227.68 140.26h0M218.62 144.35h0M215.72 144.03h0M243.55 145.58h0M233.43 144.57h0M223.36 145.06h0M215.14 145.49h0M229.35 145.17h0M210.06 145.74h0M211.1 145.35h0M245.18 134.69h0M216.05 144.48h0M219.38 143.17h0M242.88 143.62h0M222.37 143.28h0M230.12 137.35h0M207.28 145.9h0M218.68 144.62h0M244.48 145.73h0M225.47 141.1h0M218.17 145.8h0M242.95 135.66h0M240.52 137.38h0M225.47 140.89h0M242.24 145.94h0M214.32 145.31h0M213.89 145.78h0M208.06 145.07h0M235.9 137.95h0M243.09 144.33h0M235.38 136.04h0M234.67 145.3h0M224.34 140.97h0M215.2 144.59h0M235.27 136.78h0M213.46 144.67h0M233.38 143.76h0M221.35 144.73h0M242.44 140.66h0M215.43 144.55h0M244.18 141.9h0M217.41 145.14h0M209.71 145.98h0M224.14 143.48h0M227.87 138.68h0M230.71 139.31h0M216.34 145.56h0M209.59 145.13h0M237.13 136.82h0M217.5 144.91h0M213.68 145.82h0M246.69 136.6h0M230.5 133.91h0M235.28 130.76h0M239.84 130.42h0M241.9 130.23h0M245.4 129.61h0M239.51 127.52h0M230.47 133.59h0M237.59 126.44h0M219.94 142.71h0M230.37 134.77h0M232.77 130.12h0M221.85 140.75h0M234.5 133.74h0M233.43 129.27h0M241.42 132.42h0M227.55 137.68h0M246.03 133.17h0M238.58 132.34h0M243.37 131.54h0M216.52 124.31h0M239.19 132.19h0M244.77 132.83h0M246.38 135.74h0M236.92 130.78h0M243.25 131.5h0M241.82 127.45h0M219.41 142.13h0M229.43 135.28h0M246.78 129.45h0M225.97 139.45h0M237.6 132.08h0M237.87 133.48h0M224.63 140.05h0M243.12 128.05h0M231.14 134.68h0M221.86 141.48h0M233.65 133.87h0M227.99 137.74h0M237.32 129.23h0M235.98 133.45h0M227.38 131.61h0M225.38 139.74h0M246.19 131.81h0M244.33 129.74h0M242.66 129.55h0M226.95 137.21h0M223.23 139.43h0M229.68 133.37h0M221.91 140.57h0M227.94 135.23h0M237.15 129.6h0M226.02 137.67h0M233.33 133.95h0M222.36 140.28h0M243.43 132.25h0M236.05 132.02h0M245.1 131.14h0M234.49 132.94h0M243.03 124.76h0M215.26 141.48h0M224.18 127.44h0M218.95 142.24h0M236.45 134.08h0M231.95 135.07h0M230.29 134.08h0M234.6 128.55h0M245.97 133.98h0M243.25 128.84h0M236.95 122.27h0M241.2 129.17h0M230.19 135.29h0M231.62 135.19h0M224.72 137.77h0M218.16 143.19h0M239.48 132.39h0M242.59 132.84h0M240.28 128.33h0M224.79 135.27h0M241.81 129.84h0M234.56 129.14h0M198.5 138.6h0M199.5 140.2h0M203 139.8h0M205 141.8h0M208 143h0M210.5 143.8h0M204.5 143.6h0M213 142.5h0M216 141.2h0M217 139h0M221 126.5h0M222 125.2h0M231 124.4h0M241 116.5h0M238.5 119.5h0M236 118.5h0" stroke="#174a84" stroke-width="1.45" stroke-linecap="round"/>
<path d="M247.6 145.6 L247.6 130 L249 126 L251 122.5 L254 120 L257 121.5 L260.4 125 L264.2 130.5 L270 136 L277.7 141.5 L287.3 144.3 L297 145.3 L297 145.6 Z" fill="#d0112b"/>
<path d="M254.16 128.07h0M282.67 142.64h0M257.28 119.66h0M278.28 145.09h0M298.45 145.18h0M283.63 143.52h0M280.69 142.8h0M296.51 145.39h0M250.15 138.69h0M253.8 118.87h0M262.59 140.2h0M299.67 145.28h0M264.9 129.61h0M276.03 141.96h0M267.17 135.74h0M289.55 145.15h0M262.47 133.51h0M279.97 144.33h0M299 145.28h0M283.97 143.99h0M289.53 144.07h0M256.77 121.73h0M296.52 145.04h0M273.19 137.66h0M264.56 129.17h0M277.25 140.49h0M280.37 142.19h0M259.52 133.15h0M266.77 134.76h0M250.28 123.27h0M294.37 144.84h0M251.71 124.46h0M272.93 145.37h0M258.2 142.07h0M272.97 140.16h0M289.89 144.49h0M250.62 134.51h0M282.02 143.96h0M262.12 144.17h0M292.9 145.39h0M270.82 143.64h0M285.59 143.32h0M249 127.61h0M253.82 119.75h0M266.41 141.77h0M263.84 136.93h0M248.15 130.42h0M297.87 145.09h0M275.23 144.02h0M289.12 144.97h0M268.52 142.91h0M290.97 145.09h0M299.26 145.24h0M297.4 145.18h0M284.56 143.23h0M295.27 144.75h0M277.82 141.26h0M267.95 137.07h0M282.03 144.68h0M266.71 140.18h0M266.15 134.6h0M295.03 144.92h0M252.53 127.82h0M286.46 143.66h0M286.54 144.41h0M283.24 142.62h0M253.15 122.22h0M265.96 136.76h0M248.09 136.04h0M268.74 136.96h0M275.75 145.07h0M258.33 142.42h0M264.41 141.3h0M253.28 145.06h0M270.14 144.99h0M259.11 131.13h0M284.6 143.03h0M261.92 138.82h0M297.26 145.15h0M257.21 128.58h0M299.45 145.27h0M280.86 142.76h0M281.34 142.19h0M279.89 144.88h0M292.47 144.99h0M274.05 141.88h0M253.58 140.93h0M283.75 143.65h0M282.47 143.27h0M267.76 135.08h0M279.07 143.31h0M274.6 137.91h0M280.47 142.97h0M278.69 143.36h0M296.42 144.98h0M272.16 145.33h0M286.27 143.84h0M286.21 145.38h0M268.67 143.74h0M254.24 145.12h0M273.33 138.74h0M291.63 144.97h0M296.74 145.32h0M289.4 144.63h0M299.67 145.28h0M293.19 145.11h0M260.74 141.12h0M271.39 140.69h0M292.95 144.58h0M262.25 138.32h0M251.45 134.12h0M288.85 144.55h0M260.27 140.83h0M292.4 145.15h0M276.38 144.8h0M289.35 144.06h0M266.77 132.47h0M249.53 130.79h0M292.92 145.23h0M253.75 122.77h0M267.96 143.41h0M279.93 144.95h0M251.37 145.09h0M258.43 136.19h0M293.53 145.15h0M257.93 136.98h0M270.17 134.5h0M265.39 134.63h0M280.6 142.27h0M279.2 143.92h0M257.07 122.44h0M283.95 143.74h0M254.37 120.9h0M296.91 145.24h0M266.34 133.5h0M299.73 145.36h0M286.18 143.92h0M263.86 135.09h0M255.26 135.34h0M269.86 143.36h0M269.03 138.8h0M274.14 144.93h0M265.75 140.84h0M259.92 135.63h0M262.53 142.92h0M262.61 142.59h0M283.06 143.52h0M296.53 145.11h0M286.55 144.53h0M271.1 135.69h0M269.56 137.04h0M270.7 144.91h0M262.95 139.66h0M282.82 142.73h0M269.16 134.97h0M294.52 144.81h0M269.64 137.79h0M290.6 145.19h0M278.55 143.09h0M252.81 142.64h0M252.23 128.77h0M267.22 141.54h0M282.67 143.04h0M294.65 145.36h0M248.82 137.74h0M272.19 139.3h0M271.96 138.75h0M282.75 144h0M298.45 145.39h0M299.61 145.32h0M291.02 144.94h0M284.33 145.39h0M251.09 131.96h0M268.63 141.08h0M259.03 145.15h0M258.57 129.84h0M255.09 128.84h0M286.47 143.38h0M256.34 136.02h0M280.25 144.25h0M260.88 141.25h0M285.9 144.86h0M253.87 130.64h0M248.43 142.63h0M297.09 145.36h0M248.87 131.76h0M275.68 142.17h0M253.43 139.64h0M263.4 136.47h0M254.13 133.37h0M254.4 120.15h0M274.44 139.85h0M288.34 144.09h0M269.29 134.15h0M259 132.12h0M276.85 142.13h0M292.18 144.37h0M292.15 144.43h0M298.44 145.28h0M268.9 140.64h0M292.87 145.36h0M269.26 133.6h0M255.66 140.48h0M286.08 144.73h0M255.8 132.74h0M249.1 126.21h0M263.36 144.79h0M281.3 144.78h0M250.01 131.87h0M251.71 126.47h0M253.46 143.18h0M264.83 137.08h0M281.87 144.96h0M297.19 145.24h0M273.85 144.6h0M268.27 136.36h0M286.34 143.73h0M266.88 137.26h0M272.59 139.47h0M270.16 139.31h0M250.2 141.54h0M250.83 133.78h0M276.29 141.52h0M259.27 123.84h0M267.09 135.76h0M272.96 138.5h0M286.87 144.35h0M248.07 134.28h0M298.23 145.13h0M278.69 145.2h0M266.76 139.62h0M266.93 135.46h0M279.52 143.46h0M264.11 136.84h0M274.65 143.5h0M250.38 123.8h0M260.8 129.28h0M289.29 144.49h0M292.67 144.76h0M262.57 139.2h0M252.08 144.99h0M291.17 144.53h0M264.23 142.35h0M288.91 144.81h0M250.57 139.69h0M250.11 136.64h0M276.53 144.94h0M281.07 141.32h0M296.56 145.28h0M277.98 140.13h0M286.21 144.06h0M283.21 145.34h0M295.64 144.84h0M288.55 144.44h0M286.98 144.15h0M271.06 139.54h0M253.78 126.57h0M286.1 143.23h0M253.67 140.82h0M282.51 143.75h0M253.53 121.21h0M263.85 144.6h0M276.95 144.94h0M258.66 131.01h0M275.7 144.29h0M254.06 141.88h0M272.35 136.27h0M270.23 138.54h0M282.94 145.15h0M273.47 142.73h0M267.93 142.47h0M253.11 138.44h0M256.33 134.33h0M258.19 128.99h0M256.19 127.97h0M278.59 142.96h0M267.96 139.78h0M291.74 144.62h0M278.19 142.69h0M298.98 145.26h0M284.15 143.06h0M261.29 139.65h0M277.73 141.4h0M250.96 141.05h0M267.38 141.5h0M270.28 141.2h0M276.92 145.25h0M295.26 145.04h0M273.11 138.59h0M287.06 143.62h0M263.66 142.7h0M249.44 138.72h0M277.37 142.87h0M265.05 131.77h0M297.42 145.32h0M289.82 144.04h0M288.69 144.08h0M258.04 133.65h0M279.56 141.25h0M287.68 144.63h0M294.73 145.34h0M283.72 143.36h0M297.43 145.3h0M262.84 142.7h0M285.69 143.57h0M260.66 123.55h0M275.75 140.27h0M262.96 131.35h0M254.49 131.15h0M261.89 130.79h0M262.15 135.57h0M293.39 144.59h0M292.64 145.24h0M279.53 143.24h0M286.06 144.3h0M282.18 145.1h0M288.22 144.1h0M250.45 143.88h0M266.6 142.31h0M259.83 132.64h0M267.01 141.57h0M297.05 145.2h0M277.26 141.67h0M259.77 144.23h0M253.38 143.78h0M282.03 141.85h0M294.85 144.74h0M277.23 140.33h0M299.41 145.29h0M293.3 144.49h0M282.52 142h0M249.15 136.1h0M299.1 145.34h0M292.42 145.16h0M274.91 138.48h0M275.21 139.47h0M275.2 140.7h0M273.75 138.68h0M284.54 143.71h0M273.06 137.21h0M273.12 141.48h0M298.56 145.29h0M254.67 126.11h0M265.19 140.65h0M296.8 145.39h0M297.38 145.37h0M292.59 145.33h0M248.66 134.98h0M278.55 143.8h0M279.71 143.59h0M296.5 144.96h0M274.81 145.09h0M249.27 125.97h0M293.14 145.36h0M248.86 125.07h0M291.08 144.99h0M274.84 142.23h0M287.29 145.03h0M247.64 129.09h0M289.21 145.36h0M291.27 144.64h0M265.18 134.99h0M248.38 140.89h0M261.34 136.59h0M275.17 140.54h0M282.96 143.5h0M259.88 142.65h0M256.81 122.88h0M260.88 133.95h0M288.66 144.27h0M260.08 137.44h0M261.24 135.18h0M260.96 142.71h0M257.27 125.36h0M263.4 133.25h0M285.67 144.59h0M289.01 144.65h0M251.72 139.34h0M260.41 127.66h0M269.31 145.28h0M267.03 136.31h0M295.34 145.39h0M267.89 133.92h0M288.98 145.04h0M265.32 142.09h0M267.48 135.65h0M278.69 144.1h0M272.53 143.71h0M248.33 135.64h0M267.53 132.66h0M295.52 144.86h0M258.37 142.36h0M297.93 145.38h0M265.52 144.32h0M255.03 137.58h0M297.15 145.09h0M254.71 136.54h0M293.84 145.16h0M297.34 145.2h0M267.11 133.05h0M261.91 144.15h0M251.35 124.81h0M265.81 130.84h0M263.68 130.95h0M254.03 132.21h0M275.91 142.48h0M287.54 144.52h0M297.23 145.05h0M259.28 123.32h0M263.81 141.21h0M296.03 145.13h0M256 127.39h0M277.39 141.42h0M289.14 145.36h0M271.69 141.46h0M291.93 144.77h0M257.6 143.96h0M298.84 145.19h0M287.57 144.29h0M250.32 125.55h0M256.67 138.4h0M258.69 121.32h0M259.11 140.56h0M273.76 142.49h0M271.97 137.46h0M248.4 131.71h0M249.78 128.57h0M280.02 142.53h0M272.38 141.86h0M264.22 134.54h0M293.92 145.03h0M269.45 140h0M271.72 138.79h0M295.48 144.91h0M296.64 145.33h0M293.82 144.65h0M274.26 145.28h0M262.73 129.52h0M285.51 143.45h0M278.18 141h0M297.25 145.13h0M252.68 137.09h0M265.79 138.64h0M273.65 144.75h0M274.54 140.57h0M247.69 136.51h0M261.7 136.58h0M280.71 143.09h0M252.31 132.23h0M272.85 142.15h0M298.43 145.22h0M270.8 135.7h0M289.52 144.21h0M291.04 145.13h0M260.94 143.27h0M274.01 140.71h0M276.69 145.07h0M273.27 140.88h0M262.83 142.38h0M273.96 140h0M257.9 125.45h0M291.31 145.15h0M298.88 145.38h0M283.5 144.73h0M284.89 144.87h0M289.59 144.13h0M290.29 144.4h0M260.39 143.57h0M248.8 135.23h0M265.58 142.16h0M279.59 144.98h0M296.46 145.23h0M250.98 137.13h0M253.33 144.91h0M293.26 144.73h0M257.34 137.44h0M287.32 145.37h0M280.24 141.49h0M285.68 143.06h0M293.07 145.17h0M288.75 145.19h0M277.42 145.08h0M281.09 143.28h0M267.75 136.73h0M248.8 127.93h0M289.29 144.17h0M281.85 144.53h0M283.99 143.9h0M264.16 133.06h0M257.42 136.26h0M283.56 145.21h0M264.92 144.22h0M295.36 144.94h0M297.49 145.27h0M298.04 145.33h0M265.06 133.83h0M274.98 141.59h0M249.45 142.35h0M275.66 141.74h0M286.62 143.79h0M258.04 134.81h0M260.25 130.02h0M251.27 121.55h0M266.22 138.34h0M297.32 145.27h0M269.31 138.36h0M259.93 133.19h0M297.85 145.12h0M270.29 141.95h0M287.55 144.57h0M281.2 145.15h0M294.89 144.86h0M275.96 145.38h0M275.25 139.53h0M287.74 143.67h0M255.48 133.21h0M261.88 139.67h0M285.68 143.71h0M287.79 144.76h0M284.59 143.83h0M270.26 135.57h0M272.48 144.98h0M294.15 144.61h0M251.32 126.97h0M283.99 143.65h0M254.3 129.46h0M250.32 121.14h0M250.74 120.89h0M251.64 117.33h0M253.28 110.57h0M254 116.51h0M268.56 126.86h0M259.3 118.4h0M283.58 139.99h0M250.99 113.63h0M254.82 116.34h0M261.72 121.71h0M272.76 132.35h0M269 129.49h0M267.01 129.48h0M274.87 135.99h0M256.9 118.59h0M261.22 119.2h0M258.92 119.58h0M259.14 120.67h0M266.21 125.41h0M250.36 121.37h0M277.16 139.41h0M251.13 120.28h0M261.63 119.83h0M264.12 127.01h0M266 128.89h0M261.05 122.2h0M253.65 115.32h0M259.2 119.96h0M257.56 112.38h0M251.72 105.62h0M248.67 122.97h0M279.98 137.52h0M279.58 139.69h0M251.64 118.24h0M253.07 117.22h0M255.03 117.89h0M256.18 105.9h0M264.07 121.25h0M257.22 115.42h0M260 112.28h0M281.72 140.64h0M259.86 114.66h0M272.67 133.5h0M250.44 105.22h0M266.56 130.18h0M257.02 116.25h0M259.94 117.05h0M251.91 119.46h0M257.47 112.08h0M250.58 120.59h0M256.12 118.44h0M252.33 111.68h0M249.87 121.13h0M257.55 118.7h0M256.43 116.83h0M255.48 115.4h0M249.99 121.41h0M264.79 120.33h0M254.6 112.88h0M262.23 119.94h0M254.58 117.53h0M257.57 111.84h0M257.49 118.65h0M248.05 126.69h0M264.41 109.7h0M279.88 135.76h0M259.62 116.73h0M269.05 131.24h0M255.6 104.68h0M258.15 119.54h0M249.77 121.85h0M250.91 120.51h0M253.65 117.75h0M259.47 120.98h0M251.19 119.76h0M265.22 125.05h0M271.42 132.68h0M261.17 121.02h0M273.52 136.29h0M262.5 123.09h0M250.32 121.36h0M255.46 114.54h0M262.75 117.52h0M258.66 112.13h0M272.15 135.23h0M251.22 119.32h0M264.76 122.99h0M253.46 113.82h0M250.26 119.26h0M258.42 120.24h0M273.2 133.45h0M260.44 121.23h0M256.42 113.01h0M264.84 124.36h0M253.91 116.85h0M266.45 116.01h0M278.28 135.36h0M266.72 129.15h0M263.77 121.43h0M266.92 130.56h0M252.2 113.61h0M265.64 129.01h0M262.54 124.66h0M284.46 138.39h0M257.58 119.3h0M248.76 121.04h0M263.97 125.96h0M254.3 117.27h0M275.86 138.23h0M268.53 113.46h0M255.9 116.32h0M252.62 118.69h0M263.48 124.89h0M248.06 126.3h0M258.16 119.08h0M254.88 114.89h0M277.08 122.12h0M255.94 103.39h0M256.91 112.14h0M254.02 116.46h0M271.69 133.73h0M260.06 117.24h0M266.51 126.15h0M276.34 138.79h0M267.35 131.46h0M251.97 108.12h0M263.84 126.45h0M254.85 110.62h0M267.08 130.89h0M259.54 115.51h0M252.17 117.81h0M263.14 125.13h0M258.03 119.6h0M263.13 119.56h0M273.49 135.49h0M262.62 114.66h0M251.56 114.68h0M265.02 129.05h0M250.54 118.14h0M262.55 121.49h0M264.79 127.18h0M261.5 122.97h0M262.9 126.4h0M272.03 127.29h0M266.01 127.3h0M249.2 117.49h0M250.6 117.36h0M250.48 119.53h0M276.15 133.23h0M248.35 120.56h0M261.76 119.83h0M284.57 131.58h0M274.39 134.9h0M264.91 120.53h0M270.28 129.95h0M253.49 115.9h0M260.22 118.38h0M248.97 123.15h0M250.09 120.99h0M261.17 110.24h0M261.56 120.14h0M255.34 117.22h0M251.71 112.56h0M251.07 117.76h0M271.11 132.64h0M253.43 116.04h0M260.24 121.53h0M264.96 124.89h0M250.7 111.34h0M270.98 131.13h0M267.84 130.5h0M267.74 127.29h0M252.86 116.63h0M254.22 115.41h0M248.71 115.79h0M262.58 123.05h0M261.3 123.81h0M265.47 122.99h0M285.05 142.12h0M255.89 114.53h0M267.24 127.06h0M260.98 122.15h0M277.09 139.12h0M270.31 129.62h0M249.96 111.95h0M266.34 130.6h0M251.12 120.18h0M259.66 121.26h0M249.43 121.07h0M274.62 137.56h0M250.52 120.29h0M275.05 136.17h0M262.76 117.82h0M265.68 128.2h0M258.19 116.46h0M280.9 138.11h0M250.81 114.24h0M260.2 116.2h0M248.18 123.26h0M257.95 118.71h0M275.66 133.73h0M268.83 132.54h0M258.43 120.02h0M252.18 115.6h0M271.82 131.46h0M254.84 114.32h0M263.2 124.27h0M265.27 123.77h0M262.48 117.82h0M261.58 124.24h0M273.29 133.31h0M251.27 119.89h0M250.75 117.56h0M268.4 130.17h0M251.14 120.02h0M269.25 126.43h0M275.67 137.18h0M250.4 119.29h0M250.33 119.57h0M258.24 120.23h0M255.69 114.91h0M260.32 112.9h0M260.86 121.92h0M253.67 114.06h0M260.09 116.37h0M255.1 116.77h0M260.35 114.67h0M249.39 121.05h0M259.8 119.73h0M270.8 129.69h0M275.62 127.54h0M264.56 126.57h0M268.09 131.74h0M277.71 132.8h0M280.01 136.26h0M280.37 136.61h0M282.66 132.56h0M280.49 130.78h0M270.65 130.73h0M273.54 136.74h0M280.12 135.32h0M282.01 140.91h0M276.43 134.03h0M272.74 120.91h0M267.32 130.26h0M264.66 128.91h0M275.45 133.99h0M266.91 127.09h0M288.09 138.2h0M276.14 127.83h0M279.98 119.17h0M279.97 135.28h0M288.02 136.3h0M276.63 137.98h0M268.95 129.33h0M280.04 134.08h0M286.13 116.71h0M278.39 138.2h0M283.38 134.01h0M275.15 132.05h0M277.69 134.23h0M262.47 113.91h0M270.27 133.05h0M262.59 125.96h0M263.61 122.87h0M269.2 128.84h0M265.3 124.96h0M268.01 120.79h0M270.2 133.68h0M269.24 128.53h0M282.63 133.63h0M291.87 104.84h0M275.66 137.09h0M264.55 128.08h0M263.04 121.26h0M267.88 121.92h0M275.39 130.3h0M275.35 129.74h0M269.45 132.89h0M265.85 128.69h0M278.84 120.31h0M285.06 139.11h0M265.73 112.17h0M282.63 136.59h0M272.69 125.86h0M262.2 120.43h0M266.41 128.63h0M274.1 130.92h0M274.92 134.03h0M265.15 127.39h0M266.68 130.06h0M268.65 132.69h0M273.04 127.22h0M281.89 131.34h0M264.02 117.67h0M285.02 137.7h0M277.76 139.53h0M267.64 125.53h0M275.81 132.77h0M312.3 126.9h0M324.8 124.2h0M316.5 137.7h0M308.5 142.9h0M305.6 135.8h0M297 129.4h0M294 133.8h0M286.3 125.6h0M279.6 130.4h0M281.5 136.2h0M297 139h0M299.8 141h0M289.2 130.8h0M303 143.5h0M292 140.5h0M284 138.5h0M301 137h0M310 144h0" stroke="#c80f2c" stroke-width="1.5" stroke-linecap="round"/>
<circle cx="234.8" cy="48.6" r="0.9" fill="#222"/>
<circle cx="239.5" cy="75.5" r="0.9" fill="#222"/>
<circle cx="266.6" cy="29.1" r="0.9" fill="#c01030"/>
<circle cx="267" cy="59.6" r="0.9" fill="#c01030"/>
<circle cx="263.2" cy="60.2" r="0.9" fill="#c01030"/>
<circle cx="293.4" cy="76.6" r="0.9" fill="#c01030"/>
<circle cx="301" cy="94.5" r="0.9" fill="#c01030"/>
<circle cx="289" cy="112.5" r="0.9" fill="#c01030"/>
<circle cx="203.5" cy="99.2" r="0.9" fill="#1f3f6f"/>
<circle cx="224" cy="94.4" r="0.9" fill="#1f3f6f"/>
<circle cx="222.5" cy="100" r="0.9" fill="#1f3f6f"/>
<circle cx="238" cy="90.5" r="0.9" fill="#1f3f6f"/>
<circle cx="240" cy="98" r="0.9" fill="#1f3f6f"/>
<circle cx="233" cy="104" r="0.9" fill="#1f3f6f"/>
<circle cx="236" cy="110" r="0.9" fill="#1f3f6f"/>
<circle cx="240.5" cy="116.5" r="0.9" fill="#1f3f6f"/>
<circle cx="232.5" cy="118" r="0.9" fill="#1f3f6f"/>
<circle cx="252" cy="96" r="0.9" fill="#c01030"/>
<circle cx="256" cy="101" r="0.9" fill="#c01030"/>
<circle cx="257" cy="106.5" r="0.9" fill="#c01030"/>
<circle cx="272" cy="99" r="0.9" fill="#c01030"/>
<circle cx="283" cy="98.5" r="0.9" fill="#c01030"/>
<circle cx="285" cy="95" r="0.9" fill="#c01030"/>
<circle cx="276.5" cy="99.5" r="0.9" fill="#c01030"/>
<circle cx="258" cy="93.5" r="0.9" fill="#c01030"/>
<circle cx="254" cy="91" r="0.9" fill="#c01030"/>
<text x="231.7" y="53.6" font-size="4.5" text-anchor="middle" fill="#3a3a3a" textLength="10.12" lengthAdjust="spacingAndGlyphs">CCL5</text>
<text x="243" y="73.4" font-size="4.5" text-anchor="middle" fill="#3a3a3a" textLength="9.68" lengthAdjust="spacingAndGlyphs">TPT1</text>
<text x="263.5" y="33.4" font-size="4.5" text-anchor="middle" fill="#3a3a3a" textLength="8.58" lengthAdjust="spacingAndGlyphs">PKM</text>
<text x="270.9" y="57.9" font-size="4.5" text-anchor="middle" fill="#3a3a3a" textLength="10.12" lengthAdjust="spacingAndGlyphs">RBPJ</text>
<text x="260.5" y="64.9" font-size="4.5" text-anchor="middle" fill="#3a3a3a" textLength="10.57" lengthAdjust="spacingAndGlyphs">GPX4</text>
<text x="291" y="81.3" font-size="4.5" text-anchor="middle" fill="#3a3a3a" textLength="20.02" lengthAdjust="spacingAndGlyphs">TNFRSF18</text>
<text x="232.4" y="86.7" font-size="4.5" text-anchor="middle" fill="#3a3a3a" textLength="10.78" lengthAdjust="spacingAndGlyphs">NKG7</text>
<text x="244.5" y="92.5" font-size="4.5" text-anchor="middle" fill="#3a3a3a" textLength="15.4" lengthAdjust="spacingAndGlyphs">TMSB10</text>
<text x="264.1" y="92.1" font-size="4.5" text-anchor="middle" fill="#3a3a3a" textLength="13.42" lengthAdjust="spacingAndGlyphs">DNPH1</text>
<text x="304.5" y="91.1" font-size="4.5" text-anchor="middle" fill="#3a3a3a" textLength="17.82" lengthAdjust="spacingAndGlyphs">TNFRSF9</text>
<text x="202.1" y="94.8" font-size="4.5" text-anchor="middle" fill="#3a3a3a" textLength="13.64" lengthAdjust="spacingAndGlyphs">CEBPD</text>
<text x="220.9" y="93" font-size="4.5" text-anchor="middle" fill="#3a3a3a" textLength="11.22" lengthAdjust="spacingAndGlyphs">CLIC3</text>
<text x="215.5" y="98.1" font-size="4.5" text-anchor="middle" fill="#3a3a3a" textLength="11.66" lengthAdjust="spacingAndGlyphs">GZMH</text>
<text x="229.7" y="100.8" font-size="4.5" text-anchor="middle" fill="#3a3a3a" textLength="10.49" lengthAdjust="spacingAndGlyphs">GNLY</text>
<text x="243.8" y="100.6" font-size="4.5" text-anchor="middle" fill="#3a3a3a" textLength="14.74" lengthAdjust="spacingAndGlyphs">MT-ND5</text>
<text x="260.1" y="97.5" font-size="4.5" text-anchor="middle" fill="#3a3a3a" textLength="9.9" lengthAdjust="spacingAndGlyphs">TPP1</text>
<text x="278.3" y="97.9" font-size="4.5" text-anchor="middle" fill="#3a3a3a" textLength="12.33" lengthAdjust="spacingAndGlyphs">FABP5</text>
<text x="297.8" y="99.2" font-size="4.5" text-anchor="middle" fill="#3a3a3a" textLength="13.71" lengthAdjust="spacingAndGlyphs">CRTAM</text>
<text x="222.3" y="108.6" font-size="4.5" text-anchor="middle" fill="#3a3a3a" textLength="16.06" lengthAdjust="spacingAndGlyphs">FCER1G</text>
<text x="239.1" y="106.9" font-size="4.5" text-anchor="middle" fill="#3a3a3a" textLength="15.11" lengthAdjust="spacingAndGlyphs">MALAT1</text>
<text x="252.5" y="106.9" font-size="4.5" text-anchor="middle" fill="#3a3a3a" textLength="6.82" lengthAdjust="spacingAndGlyphs">MIF</text>
<text x="276.2" y="104.9" font-size="4.5" text-anchor="middle" fill="#3a3a3a" textLength="13.2" lengthAdjust="spacingAndGlyphs">DUSP4</text>
<text x="291.7" y="105.1" font-size="4.5" text-anchor="middle" fill="#3a3a3a" textLength="16.22" lengthAdjust="spacingAndGlyphs">BCL2L11</text>
<text x="265.5" y="109.6" font-size="4.5" text-anchor="middle" fill="#3a3a3a" textLength="10.56" lengthAdjust="spacingAndGlyphs">JUND</text>
<text x="228.3" y="115.9" font-size="4.5" text-anchor="middle" fill="#3a3a3a" textLength="11.44" lengthAdjust="spacingAndGlyphs">GZMA</text>
<text x="225" y="121" font-size="4.5" text-anchor="middle" fill="#3a3a3a" textLength="13.64" lengthAdjust="spacingAndGlyphs">AHNAK</text>
<text x="285.7" y="118.3" font-size="4.5" text-anchor="middle" fill="#3a3a3a" textLength="13.2" lengthAdjust="spacingAndGlyphs">DUSP2</text>
<path d="M431 148 L424 146.5 L419 142.5 L416 136 L414.5 128 L415 122 L418 119 L422 117.5 L426 117 L430 118 L434 120 L435.8 126 L437.3 131 L438.3 124 L439.2 111 L441 110 L445 113.8 L450 117.9 L455 121.9 L460 126 L465 130 L470 134 L475 136.7 L480 139.4 L485 141.4 L490 144 L493 147.6 Z" fill="#c5c1bd"/>
<path d="M415.08 119.57h0M466.94 111.98h0M402.49 100.32h0M452.55 148.36h0M433.49 105.44h0M401.21 123.56h0M423.84 117.12h0M413.02 131.78h0M423.41 112.26h0M424.66 146.82h0M419.15 110.02h0M421.53 114.56h0M504.19 144.24h0M427.57 102.24h0M478.48 123.89h0M466.99 118.23h0M472.64 131.1h0M408.9 127.53h0M458.39 122.78h0M460.56 123.71h0M429.97 147.81h0M423.84 146.99h0M497.67 147.36h0M463.57 122.63h0M409.78 106.74h0M448.97 114.32h0M448.09 148.11h0M407.82 124.71h0M464.04 128.55h0M429 103.3h0M428.65 111.21h0M402.76 98.33h0M478.52 138.55h0M502.58 141.75h0M423.7 105.87h0M414.04 133.9h0M400.07 105.46h0M418.25 102.54h0M435.82 125.89h0M439.05 100.95h0M420.46 115.96h0M409.75 134.39h0M490.46 137.13h0M411.63 123.97h0M412.07 123.44h0M456.49 122.14h0M478.79 132.4h0M438.72 112.18h0M405.7 114.1h0M472.16 128.77h0M421.23 107.79h0M464.32 126.93h0M478.43 134.06h0M466.2 130.73h0M431.39 115.4h0M410.75 137.33h0M424.42 99.76h0M443.74 110.46h0M452.86 112.96h0M498.86 147.47h0M466.8 126.59h0M396.77 102.03h0M421.5 145.14h0M474.55 119.97h0M433.19 148.23h0M413.97 119.26h0M404.18 130.19h0M457.86 122.5h0M423.63 114.49h0M484.34 141.01h0M426.71 112.87h0M452.64 105.3h0M391.91 106.51h0M435.58 114.04h0M406.49 130.35h0M419.01 96.7h0M408.9 125.75h0M412.18 106.8h0M434.01 112.34h0M396.85 103.4h0M429.67 111.45h0M425.64 116.61h0M457.24 121.91h0M404.14 117.48h0M479.1 136.69h0M419.05 117.55h0M449.96 113.86h0M405.32 104.96h0M432.15 99.09h0M487.41 142.52h0M406.97 131.84h0M428.76 117.07h0M485.62 147.83h0M464.5 147.99h0M417.54 111.07h0M445.56 113.99h0M450.74 117.44h0M410.93 138.68h0M445.59 103.39h0M453.06 148.28h0M415.36 120.94h0M408.33 122.54h0M462.16 126.14h0M466.12 127.44h0M454.96 115.66h0M407.76 129.21h0M478.65 137.01h0M501.11 139.17h0M470.41 119.42h0M466.81 115.07h0M454.05 105.22h0M441.74 109.12h0M466.97 130.83h0M458 111.91h0M496.18 143.53h0M428.43 97.48h0M404.88 132.08h0M469.81 128.47h0M450.5 117.51h0M478.68 121.93h0M405.66 108.53h0M407.27 122.96h0M410.08 132.72h0M491.64 128.22h0M424.1 146.8h0M423.41 96.7h0M469.16 131.77h0M393.5 103.37h0M473.51 131.52h0M426.48 101.34h0M482.55 139.13h0M434.41 121.06h0M465.97 113.71h0M430.73 107.13h0M488.2 138.8h0M406.79 99.23h0M424.02 104.53h0M418.48 109.35h0M447.83 114.62h0M449.96 116.11h0M473.29 131.54h0M416.74 141.44h0M478 138.22h0M449.75 111.59h0M397.71 115.04h0M414.63 122.54h0M433.12 103.43h0M399.21 99.49h0M440.01 99.26h0M399.31 116.58h0M501.42 140.06h0M491.55 128.23h0M412.46 135.45h0M484.39 138.6h0M444.92 105.92h0M492.41 137.19h0M406.32 125.05h0M408.21 122.23h0M432.84 106.04h0M403.53 110.68h0M453.64 116.15h0M471.42 115.32h0M452.07 119.39h0M405.21 111.26h0M428.45 115.06h0M433.78 114.09h0M498.8 136.75h0M427.73 108.36h0M396.08 107.28h0M468.9 129.56h0M484.74 133.79h0M416.81 144.03h0M473.43 131.65h0M418.29 110.57h0M429.8 117.89h0M435.03 119.39h0M414.58 139.89h0M486.82 147.75h0M475.91 133.01h0M472.52 133.38h0M408.64 116.17h0M465.24 128.79h0M406.77 120.38h0M481.08 128.02h0M411.62 118.18h0M462.79 113.62h0M406.74 123.92h0M400.7 125.47h0M484.95 124.72h0M436.69 119.68h0M442.55 148.05h0M426.85 117.15h0M452.29 114.08h0M428.52 115.73h0M405.13 122.25h0M418.62 114.68h0M452.66 114.88h0M443.5 102.4h0M401 118.04h0M499.31 141.31h0M434.81 115.09h0M442.65 110h0M479.58 131.75h0M490.36 141.89h0M412.86 129.93h0M413.18 126.75h0M422.65 116.38h0M415.97 142.91h0M453.72 115.19h0M434.09 119.96h0M462.94 126.34h0M462.22 116.07h0M410.1 105.94h0M422.79 115.86h0M428.88 147.97h0M470.15 117.15h0M426.95 116.19h0M429.44 111.91h0M454.91 118.63h0M422.52 113.65h0M415.02 108.48h0M496.46 139.36h0M498.16 136.36h0M410.12 122.64h0M419.54 143.65h0M459.56 121.26h0M411.82 119.5h0M412.57 116.72h0M433.55 118.24h0M445.92 114.17h0M404.4 127.62h0M450.01 116.92h0M432.68 116.77h0M456.76 120.74h0M449.92 114.31h0M463.65 127.94h0M412.91 133.89h0M431.57 101.24h0M429.62 97.64h0M431.86 104.38h0M453.82 114.36h0M457.81 116.86h0M454.97 112.28h0M419.61 114.72h0M434.21 115.34h0M481.89 122.67h0M402.45 105.78h0M464.36 117.73h0M405.24 130.1h0M441.59 106.87h0M422.45 102.54h0M443.78 110.09h0M483.5 139.16h0M432.7 111.2h0M485.02 133.45h0M468.39 130.25h0M479.22 130.85h0M477.1 128.97h0M415.08 117.39h0M399.32 109.36h0M435.31 122.25h0M447.5 113.49h0M409.68 107.91h0M412.07 132.94h0M418.48 98.27h0M472.04 131.96h0M498.38 140.05h0M439.58 148.45h0M481.71 136.52h0M495.92 147.23h0M400.38 109.08h0M476.81 129.38h0M397.71 109.57h0M470.96 128.2h0M412.23 133.23h0M480.04 128.39h0M479.44 126.1h0M449.67 114.52h0M416.24 107.97h0M446.43 114.74h0M445.8 102.01h0M469.63 116.99h0M416.89 142.49h0M410.71 111.9h0M440.54 106.71h0M423.88 99.38h0M473.84 134.27h0M441.23 108.66h0M431.24 107.3h0M465.5 148.09h0M466.78 129.65h0M412.29 127.04h0M479.39 122.39h0M490.89 147.94h0M450.35 116.72h0M409.55 113.02h0M501.32 146.82h0M492.4 145.37h0M498.2 134.31h0M452.71 148.02h0M487.42 139.77h0M493.16 140.38h0M451.7 106.2h0M463.83 120.72h0M479.56 133.74h0M423.98 116.71h0M497.05 140.82h0M491.88 145.72h0M405.13 126.74h0M420.79 113.03h0M492.7 135.24h0M469.63 133.42h0M491.84 141.07h0M477.09 124.07h0M465.87 121.11h0M432.4 116.4h0M470.3 116.56h0M411.53 131.15h0M428.98 115.01h0M450.94 112.69h0M402.75 98.91h0M407.07 111.16h0M437.74 148.02h0M440.39 110.17h0M463.83 128.26h0M477.34 129.75h0M482.69 137.95h0M466.88 126.4h0M419.78 98.32h0M442.95 108.25h0M438.95 148.31h0M412.71 123.84h0M412.67 118.85h0M436.57 128.22h0M475.3 129.71h0M464.64 122.96h0M461.72 123.91h0M477.87 134.45h0M501 144.04h0M400.07 115.43h0M436.49 118.64h0M418.82 143.82h0M486.14 134.23h0M415.16 108.92h0M453.64 115.84h0M497.55 142.87h0M464.3 121.62h0M480.4 127.98h0M457.82 112.12h0M495.22 138.2h0M411.25 112.6h0M406.32 104.97h0M432.4 108.44h0M416.81 143.55h0M451.5 117.33h0M398.1 104.92h0M437.47 99.48h0M465.9 118.07h0M500.63 145.13h0M452.32 109.77h0M474.02 127.99h0M457.41 116.74h0M472.46 135.25h0M486.85 142.19h0M416 142.47h0M409.72 120.32h0M458.15 121.7h0M464.66 125.67h0M417.5 140.63h0M453.57 118.06h0M407.61 122.51h0M493.97 141.73h0M408.86 110.65h0M397.7 116.29h0M491.19 147.63h0M408.25 123.48h0M429.62 106.86h0M468.21 112.7h0M411.33 137.84h0M490.84 140.88h0M456.9 111.8h0M499.73 142.77h0M482.73 129.2h0M425.66 115.04h0M422.91 146.03h0M426.12 114.85h0M408.69 107.8h0M423.98 107.2h0M473.96 122.67h0M396.26 102.5h0M483.07 123.45h0M410.06 105.79h0M467.96 131.42h0M416.33 102.5h0M489.76 127.37h0M447.41 106.44h0M401.3 108.81h0M482.23 139.83h0M474.75 147.77h0M434.86 119.46h0M418.08 106.61h0M475.69 134.68h0M451.36 103.27h0M480.62 147.92h0M457.82 118.37h0M479.63 136.24h0M398.74 110.33h0M471.77 130.7h0M460.7 108h0M440.93 107.3h0M446.08 148.32h0M453.72 112.5h0M413.67 132.79h0M404.31 130.65h0M395.91 114.63h0M451.53 104.39h0M419.37 101.84h0M401.42 109.46h0M421.29 110.46h0M457.34 108.69h0M430.22 104.03h0M407.19 101.83h0M445.82 110.53h0M419.3 112.36h0M415.17 140.3h0M418.15 141.15h0M443.71 112.32h0M417.56 139.47h0M501.31 146.09h0M442.01 108.97h0M424.98 104.58h0M434.01 103.05h0M432.8 148.51h0M415.24 120.76h0M450.89 105.84h0M436.42 118.64h0M478.51 120.68h0M416.11 115.5h0M446.21 109.96h0M420.83 107.08h0M473.3 135.77h0M471.39 128.28h0M475.5 122.5h0M474.4 117.02h0M462.6 123.42h0M470.93 133.24h0M451.83 148.32h0M474.7 134.98h0M414.16 107.69h0M399.1 102.48h0M409.44 106.81h0M414.37 100.49h0M449.5 115.15h0M408.96 107.11h0M418.14 107.17h0M479.3 125.13h0M453.93 113.56h0M486.01 134.58h0M412.57 109.87h0M425.66 112.96h0M392.91 108h0M414.32 134.15h0M415.72 137.56h0M487.87 126.69h0M467.63 127.04h0M420.45 97.77h0M446.09 112.17h0M462.5 124.1h0M462.28 127h0M493.37 142.91h0M414.48 131.92h0M453.74 104.91h0M400.21 124.48h0M495.43 146.15h0M494.3 136.99h0M448.88 115.51h0M421.38 114.01h0M429.45 148.29h0M458.36 111.5h0M481.11 135.83h0M423 100.92h0M465.41 125.96h0M466.22 147.93h0M415.52 96.83h0M428.81 104.73h0M393.2 109.46h0M437.31 148.08h0M394.91 100.92h0M436.59 113.16h0M394.83 112.38h0M426.49 110.86h0M411.5 124.31h0M475.96 136.23h0M457.5 118.6h0M435.44 100.64h0M393.4 105.97h0M456.07 118.51h0M423.48 97.18h0M395.61 114.48h0M464.92 118.69h0M469.95 115.95h0M496.09 138.04h0M471.12 133.06h0M428.94 117.22h0M412.93 126.62h0M457.19 123.67h0M479.16 138.09h0M476.26 126.24h0M502 147.08h0M398.88 120.27h0M398.91 107.56h0M418.34 141.65h0M440.47 109.87h0M468.03 123.65h0M410.96 111.7h0M488.94 143.03h0M407.72 132.97h0M435.27 105.55h0M459.83 109.28h0M401.84 100.03h0M498.08 136.56h0M401.32 114.85h0M472.88 125.38h0M421.35 114.01h0M444.2 108.42h0M435.74 111.68h0M421.2 144.45h0M418.55 143.09h0M446.58 109.38h0M486.04 139.36h0M436.52 115.09h0M407.7 118.26h0M435.32 121.02h0M404.14 120.35h0M461.6 126.65h0M431.68 102.22h0M492.55 142.18h0M469.48 133h0M418.01 103.78h0M416.35 138.82h0M432.43 115.84h0M400.45 121.18h0M451.05 113.85h0M455.07 108.66h0M457.04 120.5h0M500.59 145.53h0M405.47 121.86h0M466.03 126.73h0M408.1 101.83h0M468.4 124.85h0M458.88 109.7h0M444.45 148.14h0M473.87 123.61h0M439.11 111.32h0M501.39 142.89h0M426.84 107.46h0M421.1 117.08h0M397.24 111.15h0M438.58 112.45h0M475.26 147.98h0M407.91 107.18h0M414.75 124.55h0M493.44 147.63h0M444.89 112.97h0M410.23 100.56h0M446.03 108.4h0M475.66 126.87h0M456.17 121.58h0M444.27 100.58h0M413.88 120.58h0M414.61 119.31h0M413.09 117.13h0M457.26 148.19h0M500.38 139.16h0M429.09 110.46h0M465.86 126.39h0M425.45 106.87h0M413.59 122.62h0M443.27 105.34h0M416.74 138.87h0M430.01 105.82h0M474.91 135.95h0M435.18 117.55h0M414.67 124.84h0M409.89 124.73h0M468.83 131.79h0M470.28 128.93h0M439.07 112.42h0M486.11 141.06h0M423.11 115.49h0M452.77 109.95h0M482.63 147.83h0M397.38 100.35h0M488.67 135.22h0M410.81 125.61h0M414.93 108.39h0M494.92 146.92h0M414.7 141.88h0M427.04 147.63h0M471.65 131.59h0M420.52 117.4h0M417.76 142.76h0M411.35 100.16h0M495.47 139.93h0M461.18 148.21h0M504.08 145.35h0M415.81 112.27h0M418.27 118.78h0M411.64 121.8h0M429.71 97.89h0M411.95 137.36h0M432.13 98.53h0M404.3 105.39h0M410.94 119.19h0M413.08 106.91h0M473.68 134.58h0M421.25 105.1h0M452.47 110.84h0M417.3 140.66h0M486.34 137.44h0M454.16 110.93h0M488.61 139.63h0M438.89 111.04h0M439.56 102.28h0M416.58 105.75h0M494.86 143.36h0M396.98 103.2h0M427.48 103.3h0M413.09 128.19h0M501.08 144.36h0M447.84 106.24h0M485.56 127.34h0M416.08 142.25h0M423.68 112.01h0M395.43 107.65h0M454.12 116.08h0M492.16 137.04h0M460.22 124.61h0M452.34 111.47h0M407.84 99.56h0M410.26 104.69h0M505.32 146.81h0M410.61 104.87h0M445.17 108h0M466.59 120.76h0M400.33 107.62h0M454.34 108.33h0M411.98 127.26h0M402.91 108.46h0M433.74 117.86h0M419.84 145.51h0M411.1 103.07h0M413.3 112.25h0M423.29 111.47h0M473.82 148.01h0M410.05 101.37h0M479.5 136.84h0M479.59 130.39h0M436.3 103.18h0M494.49 143.11h0M430.19 106.58h0M429.68 104.87h0M460.72 117.79h0M456.27 109.1h0M443.75 105.31h0M476.46 130.14h0M416.96 118.13h0M392.06 104h0M460.83 147.92h0M488.71 126.34h0M455.7 118.64h0M496.35 138.56h0M404.88 105.36h0M491.52 139.99h0M445.99 112.47h0M438.94 112.38h0M484.82 134.17h0M467.01 118.5h0M474.04 135.46h0M487.94 139.26h0M451.77 117.76h0M434.54 120.86h0M428.84 116.61h0M434.57 117.72h0M471.38 132.84h0M501.5 141.3h0M396.61 108.63h0M415.48 134.15h0M418.51 111.7h0M491.57 145.23h0M433.05 101.61h0M486.74 139.62h0M492.82 130.02h0M497.42 133.43h0M407.01 115.96h0M463.2 125.61h0M401.84 102.21h0M409.92 99.83h0M439.21 109.04h0M415.95 119.14h0M458.75 122.59h0M411.51 105.38h0M415.77 106.07h0M481.83 130.04h0M458.83 123.1h0M465.92 127.3h0M436.04 118.84h0M426.4 112.38h0M455.24 115.33h0M452.26 112.18h0M425.98 107.69h0M446.78 109.48h0M416.71 118.95h0M446.63 112.62h0M479.12 133.19h0M478.57 133.98h0M431.47 117.14h0M457.6 116.8h0M462.56 125.85h0M431.53 148.55h0M394.39 112.33h0M432.95 105.68h0M409.38 135.2h0M411.1 111.23h0M488.94 142.23h0M394.84 104.28h0M439.02 106.88h0M476.05 136.1h0M412.25 132.01h0M422.39 114.71h0M494.65 135.07h0M488.02 140.81h0M486.52 133.82h0M440.87 100.21h0M451.28 148.19h0M463.19 120.25h0M407.7 110.55h0M432.54 116.13h0M434.13 118.01h0M407.61 119.8h0M420.52 99.02h0M484.74 138.48h0M502.46 140.8h0M500.49 142.21h0M495.93 136.57h0M491.13 143.83h0M426.48 103.54h0M393.1 104.79h0M405.09 122.11h0M425.51 115.88h0M414.58 109h0M434.77 107.32h0M413.38 139.85h0M432.91 112.73h0M464.5 110.59h0M415.84 102.19h0M409.51 119.06h0M437.6 103.68h0M460.51 118.96h0M460.68 122.92h0M410.52 103.17h0M480.15 123.11h0M414.9 138.71h0M479.13 134.63h0M486.05 131.55h0M413.42 132.91h0M464.38 124.12h0M467.36 130.61h0M425.35 107.35h0M412.26 113.32h0M456.55 121.3h0M409.08 122.66h0M413.14 122.63h0M439.51 106.61h0M457.87 115.11h0M435 148.29h0M450.94 112.55h0M427.54 113.79h0M402.61 101.07h0M406.03 129.22h0M410.2 127.72h0M459.34 117.57h0M420.09 116.28h0M469.72 115.47h0M408.65 120.36h0M407.5 98.55h0M460.34 108.93h0M418.82 106.59h0M457.78 116.79h0M444.83 110.34h0M419.13 116.04h0M434.26 111h0M410.07 134.47h0M431.89 109.48h0M445.05 104.4h0M488.72 133.86h0M474.97 120.38h0M442.93 105.55h0M459.02 121h0M457.91 107.33h0M469.32 129.19h0M414.35 105.51h0M478.1 120.23h0M459.35 123.29h0M438.82 108.6h0M476.42 127.84h0M445.71 111.51h0M491.89 143.99h0M416.77 118.9h0M425.09 102.77h0M405.93 128.76h0M418.23 97.84h0M406.1 127.29h0M471.82 115.51h0M414.31 138.8h0M455.03 109.53h0M483.12 137.01h0M408.98 127.55h0M416.35 142.6h0M420.25 109.18h0M407.43 120.63h0M469.33 132.67h0M412 133.01h0M414.02 123.61h0M478.11 131.71h0M496.57 134.04h0M425.31 147.3h0M440.73 101.33h0M478.51 132.94h0M475.97 134.8h0M413.57 119.8h0M417.02 138.59h0M462.04 126.46h0M413.97 120.73h0M481.29 137.2h0M412.99 130.54h0M407.77 109.23h0M442.34 101.78h0M465.91 129.24h0M479.55 122.59h0M431.59 106.42h0M481.65 122.03h0M431.96 105.45h0M425.72 109.54h0M498.64 144.95h0M464.02 123.11h0M484.55 140.57h0M418.78 97.25h0M477.5 127.87h0M469.62 132.1h0M440.76 103.27h0M424.56 105.11h0M457.48 123.67h0M470.66 122.73h0M412.83 105.17h0M460.31 107.1h0M421.28 112.09h0M496.76 140.67h0M408.35 105.35h0M442.63 107.76h0M458.79 117.93h0M418.18 116.3h0M497.21 147.52h0M473.8 126.42h0M439.21 106.95h0M490.93 144.42h0M429.97 106.1h0M452.38 107.18h0M416.39 142.28h0M407.86 127.6h0M402.7 102.96h0M433.02 118.69h0M422.19 116.71h0M487.95 127.62h0M490.79 144.36h0M424.51 107.19h0M491 130.77h0M451.09 101.83h0M403.52 108.16h0M412.71 119.7h0M468.06 122.39h0M432.36 117.87h0M412.42 130.62h0M493.36 139.36h0M412.91 119.9h0M399.83 123.99h0M472.45 134.89h0M459.62 107.35h0M444.77 102.21h0M500.99 147.33h0M411.01 100.65h0M503.04 140.07h0M484.67 140.55h0M444.89 112.49h0M459.61 119.1h0M411.74 99.48h0M486.53 140.07h0M484.37 125.95h0M441.62 108.91h0M412.47 116.95h0M475.04 131.2h0M412.32 120.41h0M469.43 115.71h0M486.36 137.94h0M397.9 105.05h0M434 102.67h0M464.59 114.66h0M453.91 103.69h0M497.31 133.16h0M492.24 147.82h0M447.29 104.43h0M414.15 116.02h0M427.54 112.29h0M474.72 134.89h0M420.54 114.29h0M414.03 118.93h0M471.84 131.98h0M442.57 102.3h0M482.98 125.54h0M483.26 148.04h0M396.85 105.34h0M414.62 140.92h0M473.22 147.98h0M442.75 107.12h0M492.82 146.43h0M415.44 106.89h0M446.25 113.67h0M447.74 107.77h0M416.36 113.24h0M420.67 96.35h0M418.33 141.19h0M484.85 133.16h0M399.25 119.36h0M402.56 103.41h0M427.4 107.04h0M440.36 109.87h0M423.89 110.63h0M480.93 139.3h0M470.22 124.54h0M489.27 127.96h0M486.25 131.17h0M483.34 127.23h0M446.6 104.16h0M434.94 116.48h0M452.83 112.34h0M406.81 117.25h0M411.88 132.95h0M433.51 116.26h0M457.62 148.15h0M393.6 101.76h0M498.63 145.38h0M431.6 105.11h0M435.08 120.59h0M476.48 123.57h0M398.65 99.78h0M435.18 117.76h0M479.85 133.4h0M480.76 124.99h0M490.32 139.39h0M464.84 126.45h0M415.34 133.8h0M391.71 107.06h0M465.22 121.92h0M416.72 97.7h0M472.48 128.4h0M483.96 133.69h0M447.92 111.35h0M413.33 123.76h0M458.95 114.64h0M472.06 131.92h0M449.6 114.83h0M469.39 126.62h0M472.26 116.3h0M445.8 113.62h0M411.76 116.03h0M455.08 121.74h0M413.46 100.93h0M414.23 130.91h0M444.85 106.75h0M450.68 101.94h0M490.84 141.1h0M465.25 119.51h0M431.66 110.75h0M419.02 111.39h0M475.58 125.97h0M420.87 109.08h0M489.27 143.34h0M504.03 146.19h0M443.92 109.49h0M427.42 99.42h0M408.85 115.44h0M414.58 129.94h0M485.96 138.98h0M408.86 106.99h0M424.58 147.18h0M413.92 124.63h0M429.91 99.68h0M490.07 139.17h0M408.79 133.36h0M410.14 104.57h0" stroke="#c5c1bd" stroke-width="1.35" stroke-linecap="round"/>
<path d="M497 125h0M506 143.5h0M500 135h0M489 131h0M480 126h0M476 113h0M470 116h0M462 108h0M448 98h0M434 97h0M420 95.5h0M410 98h0M400 97h0M395 100h0M388 108h0M386 117h0M495 145h0M503 140h0M509 143h0M507 136h0" stroke="#c5c1bd" stroke-width="1.35" stroke-linecap="round"/>
<circle cx="416.5" cy="29" r="0.9" fill="#1c2c4c"/>
<circle cx="425.5" cy="36.8" r="0.9" fill="#1c2c4c"/>
<circle cx="404" cy="52" r="0.9" fill="#1c2c4c"/>
<circle cx="414" cy="57.2" r="0.9" fill="#1c2c4c"/>
<circle cx="417" cy="63" r="0.9" fill="#1c2c4c"/>
<circle cx="378.5" cy="62.7" r="0.9" fill="#1c2c4c"/>
<circle cx="396.5" cy="72" r="0.9" fill="#1c2c4c"/>
<circle cx="408.5" cy="72.5" r="0.9" fill="#1c2c4c"/>
<circle cx="403.5" cy="72.5" r="0.9" fill="#1c2c4c"/>
<circle cx="421.8" cy="75.5" r="0.9" fill="#1c2c4c"/>
<circle cx="410" cy="78" r="0.9" fill="#1c2c4c"/>
<circle cx="447.2" cy="38.8" r="0.9" fill="#c01030"/>
<circle cx="454.5" cy="40.9" r="0.9" fill="#c01030"/>
<circle cx="446" cy="59" r="0.9" fill="#c01030"/>
<circle cx="444.5" cy="61.5" r="0.9" fill="#c01030"/>
<circle cx="458" cy="67.5" r="0.9" fill="#c01030"/>
<circle cx="440.5" cy="73" r="0.9" fill="#c01030"/>
<circle cx="445" cy="71.5" r="0.9" fill="#c01030"/>
<circle cx="446.5" cy="72.5" r="0.9" fill="#c01030"/>
<circle cx="448" cy="71" r="0.9" fill="#c01030"/>
<circle cx="452" cy="74" r="0.9" fill="#c01030"/>
<circle cx="455" cy="74.5" r="0.9" fill="#c01030"/>
<circle cx="452.5" cy="77.5" r="0.9" fill="#c01030"/>
<circle cx="447" cy="77" r="0.9" fill="#c01030"/>
<circle cx="449.5" cy="74.5" r="0.9" fill="#c01030"/>
<path d="M449 86 L465 93 M453 83 L458 82 M434 91.5 L441 91.5 M446 86 L449 86.5" stroke="#333" stroke-width="0.5" fill="none"/>
<text x="413.4" y="34" font-size="4.5" text-anchor="middle" fill="#3a3a3a" textLength="7.92" lengthAdjust="spacingAndGlyphs">HBZ</text>
<text x="428.2" y="35.8" font-size="4.5" text-anchor="middle" fill="#3a3a3a" textLength="10.78" lengthAdjust="spacingAndGlyphs">HBG2</text>
<text x="447.5" y="37.6" font-size="4.5" text-anchor="middle" fill="#3a3a3a" textLength="17.16" lengthAdjust="spacingAndGlyphs">TNFSF10</text>
<text x="457.6" y="46.1" font-size="4.5" text-anchor="middle" fill="#3a3a3a" textLength="17.38" lengthAdjust="spacingAndGlyphs">HLA-DRA</text>
<text x="401.3" y="50.8" font-size="4.5" text-anchor="middle" fill="#3a3a3a" textLength="12.33" lengthAdjust="spacingAndGlyphs">PLPP5</text>
<text x="420.8" y="61.9" font-size="4.5" text-anchor="middle" fill="#3a3a3a" textLength="10.34" lengthAdjust="spacingAndGlyphs">HBA2</text>
<text x="421.5" y="67" font-size="4.5" text-anchor="middle" fill="#3a3a3a" textLength="10.34" lengthAdjust="spacingAndGlyphs">HBA1</text>
<text x="387.1" y="64.3" font-size="4.5" text-anchor="middle" fill="#3a3a3a" textLength="17.61" lengthAdjust="spacingAndGlyphs">POLR2F2</text>
<text x="391.8" y="70.3" font-size="4.5" text-anchor="middle" fill="#3a3a3a" textLength="14.3" lengthAdjust="spacingAndGlyphs">ARID5B</text>
<text x="406.6" y="69.9" font-size="4.5" text-anchor="middle" fill="#3a3a3a" textLength="12.98" lengthAdjust="spacingAndGlyphs">NLRC3</text>
<text x="424.8" y="73" font-size="4.5" text-anchor="middle" fill="#3a3a3a" textLength="16.51" lengthAdjust="spacingAndGlyphs">SPATA13</text>
<text x="400.6" y="77.7" font-size="4.5" text-anchor="middle" fill="#3a3a3a" textLength="17.39" lengthAdjust="spacingAndGlyphs">FAM122B</text>
<text x="417.3" y="82.4" font-size="4.5" text-anchor="middle" fill="#3a3a3a" textLength="13.13" lengthAdjust="spacingAndGlyphs">TAGAP</text>
<text x="395.2" y="81.8" font-size="4.5" text-anchor="middle" fill="#3a3a3a" textLength="14.23" lengthAdjust="spacingAndGlyphs">FLT3LG</text>
<text x="382.4" y="85.8" font-size="4.5" text-anchor="middle" fill="#3a3a3a" textLength="16.07" lengthAdjust="spacingAndGlyphs">KIR3DL2</text>
<text x="419.6" y="88.5" font-size="4.5" text-anchor="middle" fill="#3a3a3a" textLength="13.42" lengthAdjust="spacingAndGlyphs">PTPRC</text>
<text x="449.5" y="57.8" font-size="4.5" text-anchor="middle" fill="#3a3a3a" textLength="10.34" lengthAdjust="spacingAndGlyphs">CCT5</text>
<text x="438.1" y="62.9" font-size="4.5" text-anchor="middle" fill="#3a3a3a" textLength="10.56" lengthAdjust="spacingAndGlyphs">CALR</text>
<text x="462.3" y="65.6" font-size="4.5" text-anchor="middle" fill="#3a3a3a" textLength="19.81" lengthAdjust="spacingAndGlyphs">HLA-DQA1</text>
<text x="441.4" y="68.6" font-size="4.5" text-anchor="middle" fill="#3a3a3a" textLength="7.04" lengthAdjust="spacingAndGlyphs">VIM</text>
<text x="457.6" y="73" font-size="4.5" text-anchor="middle" fill="#3a3a3a" textLength="11" lengthAdjust="spacingAndGlyphs">PUM3</text>
<text x="434.5" y="77.7" font-size="4.5" text-anchor="middle" fill="#3a3a3a" textLength="10.78" lengthAdjust="spacingAndGlyphs">SOD1</text>
<text x="465" y="79.1" font-size="4.5" text-anchor="middle" fill="#3a3a3a" textLength="15.4" lengthAdjust="spacingAndGlyphs">YTHDF2</text>
<text x="467.7" y="84.5" font-size="4.5" text-anchor="middle" fill="#3a3a3a" textLength="19.37" lengthAdjust="spacingAndGlyphs">HLA-DPB1</text>
<text x="435.8" y="88.5" font-size="4.5" text-anchor="middle" fill="#3a3a3a" textLength="19.07" lengthAdjust="spacingAndGlyphs">HLA-DPA1</text>
<text x="454.2" y="89" font-size="4.5" text-anchor="middle" fill="#3a3a3a" textLength="12.55" lengthAdjust="spacingAndGlyphs">BAZ1A</text>
<text x="471.2" y="94.7" font-size="4.5" text-anchor="middle" fill="#3a3a3a" textLength="19.59" lengthAdjust="spacingAndGlyphs">HLA-DRB1</text>
<text x="428.1" y="93.1" font-size="4.5" text-anchor="middle" fill="#3a3a3a" textLength="10.56" lengthAdjust="spacingAndGlyphs">LDHB</text>
<text x="422.7" y="97.8" font-size="4.5" text-anchor="middle" fill="#3a3a3a" textLength="9.24" lengthAdjust="spacingAndGlyphs">BMI1</text>
<text x="435.8" y="97" font-size="4.5" text-anchor="middle" fill="#3a3a3a" textLength="9.69" lengthAdjust="spacingAndGlyphs">LSP1</text>
<text x="453.5" y="97.8" font-size="4.5" text-anchor="middle" fill="#3a3a3a" textLength="17.6" lengthAdjust="spacingAndGlyphs">SYNCRIP</text>
<text x="441.2" y="82.8" font-size="4.5" text-anchor="middle" fill="#3a3a3a" textLength="18.26" lengthAdjust="spacingAndGlyphs">TRAPPC4</text>
<path d="M244 338.3 C260 337.6 295 337.6 312 338.2 C318 338.8 317 340.6 310 340.9 L250 341.2 C243 341 241 339 244 338.3Z" fill="#c4c3c4"/>
<path d="M236 338 L244 337.3 L252 335.2 L258 331.3 L264 326.5 L268 322.5 L271 318.5 L274 316.5 L277 318 L279.6 322 L279.6 338 Z" fill="#1b5290"/>
<path d="M270.07 317.66h0M231.67 337.54h0M231.81 337.54h0M254.28 329.32h0M246.13 336.53h0M245.26 334.43h0M253.89 329.76h0M254.19 329.76h0M267.67 319.85h0M241.21 336.94h0M257.17 326.39h0M277.98 311.36h0M245.14 338.09h0M271.89 317.88h0M246.61 335.82h0M272.81 315.78h0M255.33 325.94h0M243.97 334.59h0M241.55 336.81h0M233.71 335.38h0M237.58 336.32h0M248.51 330.86h0M270.94 312.04h0M270.37 316.56h0M264.28 325h0M266.26 324h0M271.78 302h0M253.7 323.32h0M250.35 331.13h0M268.05 303.92h0M254.11 333.81h0M275.97 313.9h0M260.13 323.44h0M271.93 311.37h0M239.1 338.12h0M277.65 315.94h0M268.93 316.06h0M244.8 338.08h0M262.64 315.39h0M242.58 338.32h0M253.67 330.79h0M247.24 325.86h0M269.01 315.07h0M267.78 322.21h0M268.51 310.97h0M261.86 312.61h0M254.74 326.43h0M267.77 317.68h0M276.18 316.22h0M263.01 324.64h0M269.21 318.42h0M275.59 307.07h0M276.08 316.39h0M277.02 310.34h0M235.35 337.43h0M261.24 327.15h0M269.52 310.75h0M233.14 338.4h0M269.7 312.19h0M261.69 321.85h0M249.55 332.47h0M257.52 321.94h0M256.07 316.49h0M276.26 314h0M268.15 305.19h0M270.86 316.82h0M267.83 319.44h0M250.75 330.07h0M231.49 336.73h0M229.74 337.79h0M242.89 333.11h0M250.97 330.69h0M257.84 330.92h0M232.39 336.1h0M257.55 326.34h0M257.24 314.39h0M271.41 316.19h0M235.97 335.36h0M265.94 321.7h0M234.3 337.75h0M277.78 338.22h0M247.5 329.13h0M249.78 326.14h0M267.67 304.39h0M269.7 320.19h0M261.43 325.58h0M258.6 318.77h0M247.67 325.49h0M253.95 327.51h0M261.54 326.1h0M235.07 336.29h0M240.36 333.12h0M263.81 307.87h0M271.77 303.77h0M232.27 335.71h0M235.85 337.28h0M249.4 333.58h0M257.15 338.09h0M258.55 338.41h0M248.91 335.67h0M233.89 337.67h0M271.28 315.24h0M265.7 321.03h0M268.78 318.78h0M244.01 338.26h0M277.32 311.01h0M237.51 335.59h0M233.26 335.42h0M255.98 324.23h0M241.72 336.96h0M254.73 338.23h0M274.12 305.67h0M249.9 325.75h0M260.41 326.72h0M248 331.81h0M260.68 326.1h0M239.52 334.54h0M269.79 319.41h0M230.35 338.04h0M262.77 323.69h0M268.01 317.26h0M269.76 319.42h0M245.73 336.09h0M268.64 298.77h0M279.54 314.83h0M268.05 305.52h0M239.48 334.22h0M266.52 322.78h0M236.25 335.24h0M246.59 338.03h0M271.15 309.57h0M259.07 338.46h0M271.63 338.1h0M278.97 312.48h0M250.9 330.9h0M233.16 338.16h0M252.53 334.09h0M277.8 318.03h0M265.43 338.08h0M272.76 303.39h0M249.42 331.84h0M238.52 336.9h0M246.68 334.82h0M277.95 338.19h0M256.88 324.13h0M263.44 311.65h0M247.72 330.63h0M255.13 332.08h0M260.56 338.05h0M264.82 315.82h0M255.82 323.68h0M253.97 333.25h0M235.16 337.33h0M262.57 327.01h0M262.08 327.07h0M248.59 330.07h0M269.59 311.5h0M277.58 315.71h0M268.86 314.91h0M279.45 313.86h0M253.86 332.36h0M265.04 322.58h0M239.79 338.01h0M258.56 326.27h0M255.35 330.6h0M245.09 336.03h0M258.6 329.81h0M266.38 308.59h0M235.11 336.05h0M231.56 338.36h0M239.89 331.87h0M257.67 327.32h0M233.44 334.6h0M244.83 334.93h0M242.29 336.76h0M243.31 336.45h0M266.5 322.83h0M254.53 332.13h0M244.43 329.32h0M257.66 325.9h0M257.33 331.26h0M261.71 327.5h0M268.77 317.95h0M265.26 324.69h0M261.95 338.4h0M272.43 312.58h0M235.1 335.89h0M272.88 315.3h0M277.01 317.18h0M254.93 331.83h0M258.09 330.39h0M258.37 317.53h0M244.77 330.12h0M236.13 338.02h0M251.98 331.54h0M256.13 331.92h0M265.68 315.13h0M257.04 330.81h0M239.66 334.43h0M256.65 325.04h0M267.04 322.66h0M236.7 336.11h0M268.42 308.75h0M255.16 329.28h0M238.46 337.11h0M251.05 320.73h0M272.53 313.44h0M268.36 320.06h0M243.81 334.5h0M246.8 328.9h0M274.02 316.4h0M258.76 325.32h0M272.19 338.18h0M254.35 322.91h0M246.17 331.42h0M271.44 315.62h0M264.12 306.75h0M253.51 327.47h0M257.96 327.76h0M275.27 316.84h0M265.56 316.99h0M267.6 319.93h0M267.52 320.27h0M247.61 338.19h0M258.43 326.76h0M275.56 315.1h0M255.08 328.07h0M245.46 335.58h0M232.25 337.55h0M262.42 307.1h0M276.65 308.92h0M268.14 322.19h0M237.71 333.02h0M244.25 334.2h0M245.19 338.21h0M265.31 324.26h0M255.55 320.6h0M255.57 331.05h0M266.66 322.85h0M261.08 326.45h0M262.41 312.37h0M261.25 313.71h0M256.16 328.52h0M251.52 334.03h0M275.51 313.75h0M263.58 317.24h0M258.47 330.76h0M253.93 331.6h0M242.82 331.69h0M260.87 338.44h0M266.44 321.52h0M254.88 333.09h0M247.68 335.43h0M257.81 327.78h0M241.25 334.49h0M259.54 329.9h0M273.34 316.53h0M246.99 331.23h0M256.58 318.98h0M278.29 315.41h0M236.76 335.01h0M265.95 321.4h0M233.45 336.01h0M268.61 321.02h0M251.82 331.69h0M248.87 334.57h0M262.39 338.24h0M271.23 312.43h0M245.79 331.56h0M248.58 334.45h0M275.71 311.56h0M260.97 319.88h0M237.94 335.23h0M259.81 326.65h0M254.47 327.76h0M253.94 327.78h0M274.66 313.54h0M233.61 335.65h0M268.61 315.55h0M262.99 304.37h0M258.39 338.07h0M266.22 318.98h0M266.74 307.98h0M234.54 336.29h0M279.24 315.98h0M230.01 337.06h0M274.1 313.95h0M249.46 330.5h0M261.39 325.46h0M235.24 334.49h0M260.38 314.67h0M270.98 313.62h0M250.47 333.39h0M237.26 336.04h0M264.66 323.79h0M268.44 320.21h0M243.32 337.15h0M247.37 334.6h0M246.31 327.64h0M253.47 332.66h0M256.64 329.85h0M277.74 316.58h0M257.62 330.75h0M277.26 318.04h0M246.53 336.54h0M261.06 326.42h0M271.46 315.69h0M244.02 333.25h0M253.54 331.7h0M244.57 335.67h0M258.42 313.3h0M256.69 331.92h0M255.67 338.24h0M274.63 315.85h0M272.51 317.08h0M251.39 324.37h0M237.93 335.51h0M268.8 338.02h0M276.47 312.19h0M237.37 337.44h0M242.35 333.81h0M240.93 336.32h0M247.01 334.64h0M258.3 330.22h0M247.16 334.77h0M235.5 337.36h0M247.86 328.49h0M246.78 333.25h0M261.48 338.48h0M271.47 316.13h0M276.07 315h0M274.92 313.32h0M239.04 335.27h0M235.47 333.57h0M246.46 329.91h0M251.55 334.88h0M277.79 314.05h0M250.32 335.07h0M265.07 320.08h0M254.98 332.23h0M273.76 298.96h0M247.34 332.82h0M267.59 319.63h0M270.52 313.84h0M272.84 303.52h0M263.83 305.81h0M272.57 313.61h0M276.87 314.31h0M271.43 338.3h0M248.13 333.6h0M240.57 338.16h0M252.88 332.18h0M261.68 322.54h0M249.24 333.79h0M251.92 332.3h0M266.43 312.97h0M245.28 330.87h0M265.94 324.08h0M259.89 322.22h0M243.94 336.39h0M265.94 322.76h0M265.6 323.67h0M252.89 332.26h0M272.68 305.59h0M264.07 322.5h0M272.56 316.87h0M232.48 337.2h0M232.64 337.62h0M271.8 312.14h0M267.52 318.88h0M235.18 334.23h0M259.63 321.66h0M251.14 333.83h0M237.72 337.34h0M228.44 336.57h0M263.22 324.26h0M276.93 313.93h0M265.95 307.06h0M256.2 322.93h0M275.29 307.46h0M266.51 308.66h0M254.19 332.76h0M257.38 319.17h0M269.2 338.39h0M267.84 320.53h0M260.4 308.48h0M250.35 327.66h0M243.66 335.63h0M233.6 336.24h0M262.19 324.82h0M260.81 322.28h0M276.51 338.4h0M252.18 334.9h0M257.71 327.83h0M263.03 326.67h0M269.5 317.53h0M255.31 332.97h0M264.12 323.82h0M270.47 305.97h0M277.13 310.39h0M268.46 299.65h0M252.13 328.57h0M264.96 338.41h0M249.88 327.56h0M254.12 332.17h0M269.16 313h0M247.72 327.24h0M264.01 305.44h0M264.73 318.32h0M267.39 338.12h0M257.4 331.42h0M249.61 323.85h0M271.92 316.36h0M267.08 312.84h0M241.67 330.61h0M245.47 332.96h0M237.66 336.28h0M241.72 333.12h0M251.13 338.01h0M237 337.9h0M268.04 310.48h0M272.64 305.52h0M275.79 315.94h0M273.94 314.01h0M274.68 311.2h0M261.02 315.94h0M273.36 315.84h0M273.35 313.19h0M273.32 312.93h0M272.78 306.46h0M275.59 309.74h0M272.92 312.7h0M271.15 311.82h0M270.03 314.01h0M278.61 306.73h0M270.26 312.58h0M269.84 311.83h0M266.15 311.24h0M272.7 309.76h0M270.08 314.48h0M277.22 315.9h0M272.32 312.21h0M269.35 309.18h0M276.76 313.7h0M279.23 312.89h0M268.56 311.65h0M276.41 312.03h0M275.04 307.75h0M273.44 312.48h0M271.46 314.35h0M267.31 307.39h0M270.04 310.32h0M270.46 312.34h0M277.07 315h0M268.33 309.79h0M273.86 307.27h0M268.53 315.06h0M269.53 310.7h0M268.74 307.47h0M271.37 309.55h0M277.41 315.01h0M279.09 306.45h0M270.99 313.44h0M275.45 309.02h0M277.15 306.88h0M270.31 312.98h0M272.25 308.24h0M276.42 310.91h0M277.12 314.93h0M277.93 312.94h0M278.27 313.45h0M269.75 314.24h0M275.97 315.95h0M276.31 314.01h0M273.92 313.73h0M274.61 314.13h0M274.68 307.27h0M273.12 310.28h0M278.31 308h0M269.1 309.63h0M274.62 314.42h0M274.5 307.06h0M271.18 311.09h0M273.91 315.84h0M271.81 310.58h0M272.23 307.59h0M271.47 307.53h0M273.3 310.73h0M276.49 308.69h0M266.52 304.3h0M271.17 310.49h0M271.45 308.88h0M265.58 309.97h0M267.07 311.98h0M276.56 313.27h0M272.69 311.37h0M274.01 310.89h0M269.68 315.46h0M271.36 314.44h0M275.52 315.59h0M273.81 307.92h0M271.33 313.43h0M273.68 312.07h0M276.27 309h0M266.19 308.6h0M268.04 313.21h0M269.41 308.68h0M274.07 307.52h0M273.59 308.54h0M277.74 315.56h0M274.55 302.74h0M274.61 312.59h0M271.35 315.33h0M270.19 313.99h0M269.45 304.47h0M271.34 307.67h0M268.67 310.16h0M276.49 314.13h0M267.72 312.21h0M272.51 302.86h0M272.38 307.37h0M273.78 304.95h0M268.33 314.65h0M271.19 315.55h0M271.03 315.63h0M275.08 312.67h0M270.45 312.85h0M273.17 313.66h0M275.33 315.86h0M267.15 309.46h0M262.97 311.06h0M267.62 314.31h0M275.85 310.38h0M267.75 306.95h0M269.38 311.34h0M274.65 310.66h0M277.71 315h0M271.14 312.01h0M267.55 315.36h0M268.81 310.53h0M272.16 315.61h0M276.65 312.86h0M272.68 314.57h0M276.18 314.06h0M272.79 314.67h0M274.37 315.05h0M274.66 313.28h0M270.26 311.18h0M277.58 311.65h0M275.1 311.38h0M274.83 310.62h0M268.84 313.41h0M270.26 314.82h0M273.62 310.53h0M271.32 315.86h0M275.35 309.83h0M270.42 313.76h0M272.34 316h0M273.01 309.47h0M277.72 313.91h0M269.93 314.47h0M273.41 314.21h0M277.77 308.65h0M270.34 311.4h0M274.19 313.59h0M270.58 308h0M268.31 311.33h0M270.12 309.9h0M268.08 314.31h0M267.62 311.73h0M275.97 313.33h0M273.63 312.99h0M273.82 307.93h0M269.91 312.3h0M265.58 314.73h0M232 335.5h0M234 334h0M236 333.5h0M238 334.5h0M240 333h0M242 332h0M243 334h0M245 331h0M247 329.5h0M249 328h0M251 330h0M246 327h0M250 325h0" stroke="#174a84" stroke-width="1.45" stroke-linecap="round"/>
<path d="M199.6 330.9h0M213.7 317.5h0M217.5 321.3h0M221.5 326h0M220.6 336h0M225.2 317.9h0M228.7 317.9h0M229.6 322.8h0M225.2 332.9h0M229 334h0M239.8 323h0M244.6 317.9h0M239.8 329.4h0M244.6 324.8h0M253.8 313.8h0M218.3 322.5h0" stroke="#1a3c68" stroke-width="1.5" stroke-linecap="round"/>
<path d="M280.6 338 L280.6 333 L284 333 L288 333.5 L292 334 L297 334.8 L302 335.5 L307 336.3 L312 337 L318 337.5 L322 338 Z" fill="#d0112b"/>
<path d="M283.4 324.04h0M314.56 334.99h0M318.42 335.75h0M298.89 334.77h0M295.43 334.46h0M288.82 331.7h0M314.25 336.37h0M321.7 335.72h0M294.62 330.66h0M292.96 325.64h0M324.11 336.37h0M311.12 336.81h0M291.55 331.45h0M284.88 338.03h0M313.52 334.42h0M307.03 338.04h0M290.79 332.53h0M304.48 335.46h0M294.72 323.98h0M310.17 336.09h0M298 338.08h0M287.21 320.33h0M309.1 327.92h0M304.04 335.76h0M289.53 329.46h0M290.88 326.3h0M288.36 333.11h0M294.91 331.61h0M322.55 336.61h0M285.9 321.19h0M288.32 329.73h0M310.74 331.96h0M311.95 338.48h0M288.84 319.69h0M292.08 330.46h0M287.05 314.21h0M305.51 334.37h0M316.36 336.79h0M295.36 329.35h0M310.52 334.28h0M296.94 331.11h0M280.81 323.1h0M300.42 338.15h0M304.48 335.52h0M317.23 336.5h0M281.58 328.09h0M298.29 338h0M289.64 332.13h0M302.25 328.18h0M318.83 335.02h0M284.47 325.91h0M282.28 338.12h0M298.13 334.78h0M302.64 329.94h0M310.13 331.29h0M298.55 326.56h0M310.49 338.24h0M304.29 332.56h0M316.35 336.96h0M314.28 332.83h0M281.33 328.95h0M281.25 329.56h0M283.18 332.95h0M282.39 331.34h0M310.48 336.46h0M309.22 336.3h0M295.76 323.83h0M291.87 333.87h0M299.4 338.32h0M321.89 335.15h0M287.96 332.59h0M306.16 338.45h0M303.09 329.03h0M291.69 333.31h0M287.81 321.79h0M294.21 319.87h0M306.25 333.03h0M293.41 319.65h0M303.89 331.98h0M299.67 329.81h0M298.19 331.67h0M295.2 338.36h0M309.79 335.68h0M308.58 333.55h0M293 320.39h0M313.58 333.87h0M304.77 334.99h0M320.91 335.86h0M295.53 331.44h0M290.08 322.49h0M281.42 329.57h0M313.8 335.78h0M290.48 330.16h0M293.22 333.61h0M317.11 336.44h0M282.83 318.07h0M292.12 326.05h0M300.11 335.16h0M320.66 337.77h0M285.31 325.97h0M308.15 335.12h0M317.14 337.21h0M292.87 321.21h0M296.53 338.44h0M287.04 332.06h0M302.6 334.64h0M320.59 335.59h0M301.11 323.79h0M295.67 338.05h0M285.55 338.42h0M303.65 335.33h0M288.02 338.16h0M291.43 315.87h0M290.52 317.98h0M307.87 331.04h0M317.29 338.43h0M286.07 326.07h0M299.25 332.72h0M308.06 335.47h0M315.17 338.38h0M291.96 328.77h0M315.01 331.59h0M288.37 326.74h0M294.19 329.91h0M318.98 332.62h0M286.73 330.1h0M286.96 333.12h0M299.89 334.73h0M286.23 326.14h0M309.86 335.98h0M296.25 338.22h0M283.58 331.51h0M287.6 332.11h0M288.99 332.8h0M302.46 332.36h0M306.33 334.83h0M283.31 323.84h0M313.3 338.31h0M304.45 328.83h0M289.67 323.84h0M310.92 330.6h0M301.76 335.28h0M283.74 332.95h0M289.47 338.05h0M282.43 328.98h0M284.09 323.37h0M290.01 332.5h0M297.79 327.6h0M294.75 338.03h0M310.03 338.17h0M283 311h0M287 311.5h0M291 309.5h0M293 311h0M290 313h0M286 304.5h0M300 304.5h0M305 317h0M311 329h0M318 331h0M322 332h0M324 329h0M326 330.5h0" stroke="#c80f2c" stroke-width="1.45" stroke-linecap="round"/>
<circle cx="294.3" cy="221.7" r="0.9" fill="#c01030"/>
<circle cx="262.3" cy="236.2" r="0.9" fill="#1c2c4c"/>
<circle cx="257.5" cy="242.5" r="0.9" fill="#1c2c4c"/>
<circle cx="288.5" cy="257.5" r="0.9" fill="#c01030"/>
<circle cx="264.5" cy="258.5" r="0.9" fill="#1c2c4c"/>
<circle cx="256.5" cy="272" r="0.9" fill="#1c2c4c"/>
<circle cx="233" cy="270.5" r="0.9" fill="#1c2c4c"/>
<circle cx="307.5" cy="279.5" r="0.9" fill="#c01030"/>
<circle cx="294" cy="287" r="0.9" fill="#c01030"/>
<circle cx="325" cy="291" r="0.9" fill="#1c2c4c"/>
<circle cx="199.5" cy="285.5" r="0.9" fill="#1c2c4c"/>
<circle cx="216.5" cy="287.2" r="0.9" fill="#1c2c4c"/>
<circle cx="238.5" cy="292.5" r="0.9" fill="#1c2c4c"/>
<circle cx="235" cy="299.5" r="0.9" fill="#1c2c4c"/>
<circle cx="234.5" cy="305.5" r="0.9" fill="#1c2c4c"/>
<circle cx="253" cy="287" r="0.9" fill="#1c2c4c"/>
<circle cx="255" cy="292" r="0.9" fill="#1c2c4c"/>
<circle cx="271.5" cy="290" r="0.9" fill="#1c2c4c"/>
<circle cx="267" cy="294.5" r="0.9" fill="#1c2c4c"/>
<circle cx="288" cy="291" r="0.9" fill="#c01030"/>
<circle cx="291" cy="296" r="0.9" fill="#c01030"/>
<circle cx="286" cy="300" r="0.9" fill="#c01030"/>
<circle cx="303" cy="300" r="0.9" fill="#c01030"/>
<circle cx="313" cy="303" r="0.9" fill="#c01030"/>
<text x="291.7" y="227.7" font-size="4.5" text-anchor="middle" fill="#3a3a3a" textLength="10.12" lengthAdjust="spacingAndGlyphs">CCL5</text>
<text x="266.3" y="235.1" font-size="4.5" text-anchor="middle" fill="#3a3a3a" textLength="8.58" lengthAdjust="spacingAndGlyphs">PKM</text>
<text x="260.6" y="241.1" font-size="4.5" text-anchor="middle" fill="#3a3a3a" textLength="10.12" lengthAdjust="spacingAndGlyphs">RBPJ</text>
<text x="291.7" y="255.8" font-size="4.5" text-anchor="middle" fill="#3a3a3a" textLength="9.68" lengthAdjust="spacingAndGlyphs">TPT1</text>
<text x="261.4" y="264" font-size="4.5" text-anchor="middle" fill="#3a3a3a" textLength="10.57" lengthAdjust="spacingAndGlyphs">GPX4</text>
<text x="236.4" y="268.8" font-size="4.5" text-anchor="middle" fill="#3a3a3a" textLength="20.02" lengthAdjust="spacingAndGlyphs">TNFRSF18</text>
<text x="254.9" y="276.7" font-size="4.5" text-anchor="middle" fill="#3a3a3a" textLength="13.42" lengthAdjust="spacingAndGlyphs">DNPH1</text>
<text x="310.5" y="277.9" font-size="4.5" text-anchor="middle" fill="#3a3a3a" textLength="11.22" lengthAdjust="spacingAndGlyphs">CLIC3</text>
<text x="299" y="286" font-size="4.5" text-anchor="middle" fill="#3a3a3a" textLength="14.45" lengthAdjust="spacingAndGlyphs">PLAAT4</text>
<text x="252.5" y="286" font-size="4.5" text-anchor="middle" fill="#3a3a3a" textLength="13.2" lengthAdjust="spacingAndGlyphs">DUSP4</text>
<text x="267.2" y="287.2" font-size="4.5" text-anchor="middle" fill="#3a3a3a" textLength="14.74" lengthAdjust="spacingAndGlyphs">MT-ND5</text>
<text x="282.7" y="292.6" font-size="4.5" text-anchor="middle" fill="#3a3a3a" textLength="10.78" lengthAdjust="spacingAndGlyphs">NKG7</text>
<text x="299" y="292.6" font-size="4.5" text-anchor="middle" fill="#3a3a3a" textLength="16.06" lengthAdjust="spacingAndGlyphs">FCER1G</text>
<text x="315.4" y="291.8" font-size="4.5" text-anchor="middle" fill="#3a3a3a" textLength="13.64" lengthAdjust="spacingAndGlyphs">CEBPD</text>
<text x="287.5" y="297.9" font-size="4.5" text-anchor="middle" fill="#3a3a3a" textLength="11.44" lengthAdjust="spacingAndGlyphs">GZMA</text>
<text x="263.9" y="299.9" font-size="4.5" text-anchor="middle" fill="#3a3a3a" textLength="10.56" lengthAdjust="spacingAndGlyphs">JUND</text>
<text x="203" y="283.9" font-size="4.5" text-anchor="middle" fill="#3a3a3a" textLength="17.82" lengthAdjust="spacingAndGlyphs">TNFRSF9</text>
<text x="221" y="292" font-size="4.5" text-anchor="middle" fill="#3a3a3a" textLength="13.71" lengthAdjust="spacingAndGlyphs">CRTAM</text>
<text x="229.1" y="297.3" font-size="4.5" text-anchor="middle" fill="#3a3a3a" textLength="16.22" lengthAdjust="spacingAndGlyphs">BCL2L11</text>
<text x="230" y="302.6" font-size="4.5" text-anchor="middle" fill="#3a3a3a" textLength="11.66" lengthAdjust="spacingAndGlyphs">BIRC3</text>
<text x="235.7" y="310.8" font-size="4.5" text-anchor="middle" fill="#3a3a3a" textLength="13.2" lengthAdjust="spacingAndGlyphs">DUSP2</text>
<text x="245.5" y="292" font-size="4.5" text-anchor="middle" fill="#3a3a3a" textLength="12.33" lengthAdjust="spacingAndGlyphs">FABP5</text>
<text x="281.5" y="310.1" font-size="4.5" text-anchor="middle" fill="#3a3a3a" textLength="10.49" lengthAdjust="spacingAndGlyphs">GNLY</text>
<text x="298" y="306.2" font-size="4.5" text-anchor="middle" fill="#3a3a3a" textLength="16.28" lengthAdjust="spacingAndGlyphs">TYROBP</text>
<text x="313.3" y="308.1" font-size="4.5" text-anchor="middle" fill="#3a3a3a" textLength="11.66" lengthAdjust="spacingAndGlyphs">GZMH</text>
<path d="M410 336 C430 335.2 462 335.2 478 336 C481 336.8 479 338.5 472 339.2 L425 341.2 C413 341 407 338 410 336Z" fill="#c4c3c4"/>
<path d="M411 335.5 L416 333.5 L420 331 L423 327 L425.5 320 L427 313 L429 308 L432 305.5 L435 305.5 L437.5 307 L439.6 309 L439.6 335.5 Z" fill="#1b5290"/>
<path d="M426.71 312.69h0M419.73 312.19h0M413.03 333.91h0M429.28 304.79h0M425.53 317.03h0M414.03 331.42h0M436.57 335.52h0M426.6 307.54h0M409.35 334.09h0M425.37 314.75h0M424.73 321.32h0M420.44 324.17h0M430.55 302.08h0M413.34 334.56h0M423.76 316.64h0M417.34 330.31h0M420.21 315.77h0M424.48 307.14h0M420.68 328h0M422.43 324.3h0M414.67 334h0M417.18 326.57h0M438.7 301.2h0M430.52 303.13h0M419.57 321h0M418.35 331.14h0M425.51 319.01h0M423.57 309.71h0M409.15 329.16h0M422.38 309.95h0M420.1 329.04h0M424.83 309.86h0M408.87 321.28h0M417.05 329.3h0M418.79 329.66h0M417.35 321.91h0M423.78 302.14h0M418.23 331.79h0M426.12 314.39h0M421.4 321.25h0M414.45 327.31h0M418.71 330.78h0M423.41 315.69h0M420.68 322.44h0M416.11 331.56h0M419.36 322.04h0M420.9 321.13h0M407.56 335.43h0M421.75 315.96h0M426.27 308h0M434.73 303.12h0M437.71 305.08h0M428.61 335.85h0M423.41 325.47h0M423.26 302.11h0M415.06 333.03h0M432.07 304.75h0M433.52 303.89h0M420.16 328.17h0M437.49 304.87h0M421.8 328.38h0M412.44 334.27h0M421.84 325.17h0M423.23 325.44h0M427.36 306.87h0M429.07 306.23h0M423.79 314.68h0M435.55 303.79h0M417.65 331.59h0M422.18 303.46h0M412.01 319.94h0M430.43 302.48h0M434.11 299.45h0M415.79 335.9h0M429.77 335.94h0M423.89 321.73h0M420.5 324.85h0M431.15 302.53h0M426.65 313.86h0M415.34 320.37h0M415.46 332.64h0M413.29 335.5h0M429.85 306.79h0M429.72 302.36h0M419.22 315.02h0M419.22 321.37h0M422.94 335.76h0M428.51 302.79h0M411.34 320.72h0M422.46 322.21h0M413.41 321.69h0M418.74 319.94h0M425.43 313.7h0M422.93 326.17h0M420.61 326.05h0M421.15 317.17h0M418.7 314.02h0M413.13 335.83h0M423.52 318.81h0M429.6 335.7h0M436.79 304.67h0M437.09 306.37h0M425.56 318.68h0M406.68 328.52h0M424 322.53h0M423.51 335.53h0M437.1 305.09h0M435.81 303.82h0M421.81 327.17h0M426.19 315.12h0M427.99 335.91h0M426.54 314.45h0M427.68 299.48h0M415.65 326.5h0M429.32 335.53h0M419.34 324.67h0M425.72 307.95h0M423.31 319.53h0M436.82 301.3h0M418.06 330.17h0M420.4 329.49h0M423.69 310.08h0M415.58 333.19h0M413.78 334.23h0M434.69 304.92h0M422.44 327.36h0M424.37 322.01h0M427.79 308.63h0M424.58 320.6h0M420.44 323.69h0M434.65 304.85h0M413.8 335.85h0M422.72 312.65h0M417.34 331.53h0M407.77 331.04h0M430.74 306.48h0M411.74 334.12h0M438.96 300.45h0M421.18 311.17h0M416.48 318.77h0M414.95 324.21h0M427.47 309h0M435.62 300.68h0M424.54 320.88h0M424.84 320.91h0M414.49 333.64h0M415.58 324.81h0M424.73 312.23h0M431.59 304.45h0M426.13 300.56h0M423.36 311.47h0M412.38 324.71h0M436.16 305.38h0M437.51 303.15h0M409.73 335.51h0M418.51 330.68h0M421.89 319.24h0M423.12 325.57h0M419.81 306.72h0M419.35 324.58h0M415.13 335.79h0M417.53 329.12h0M412.24 335.66h0M421.75 317.52h0M407.65 326.19h0M424.38 301.97h0M419.98 327.21h0M420.95 325.67h0M409.39 330.45h0M420.46 328.29h0M420.5 327.2h0M426.83 307.25h0M434.81 335.94h0M424.68 320.86h0M414.9 330.03h0M425.82 316.78h0M420.01 330.71h0M408.94 331.02h0M418.23 331.97h0M424.69 320.6h0M429.93 302.86h0M413.73 322.11h0M411.47 321.54h0M419.83 324.71h0M412.6 332.96h0M415.73 329.76h0M420.75 315.97h0M421.42 324.56h0M418.35 316.82h0M407.76 325.74h0M428.39 306.24h0M425.24 302.05h0M431.19 303.57h0M427.04 302.13h0M425.68 314.72h0M430.17 303.02h0M420.97 326.19h0M427.19 305.43h0M417.06 327.83h0M426.24 314.6h0M423.93 324.13h0M424.58 302.8h0M428.36 308.43h0M424.89 303.1h0M426.27 307.58h0M426.94 312.05h0M418.15 320.59h0M427.36 310.2h0M424.42 317.01h0M413.37 332.31h0M428.32 299.51h0M414.26 327.51h0M407.29 334.7h0M432.66 304.4h0M423.3 305.5h0M422.5 325h0M439.14 307.8h0M412.04 335.79h0M427.09 309.59h0M425.27 304.39h0M427.1 309.9h0M430.49 306.67h0M430.63 302.68h0M408.68 335.61h0M434.84 301.22h0M431.5 302.42h0M420.81 323.38h0M413.19 331.11h0M427.64 310.4h0M419.01 330.68h0M433.09 304.31h0M412.08 334.86h0M418.12 335.6h0M408.33 335.91h0M425.51 319.06h0M420.48 317.78h0M428.87 300.19h0M420.58 328.67h0M422.58 320.49h0M431.83 301.43h0M428.62 306.57h0M418.17 332.06h0M428.45 300.57h0M437.01 306.35h0M426.1 312.49h0M420.99 328.35h0M425.6 301.61h0M417.81 331.76h0M420.97 321.99h0M427.73 309h0M434.7 303.64h0M420.86 324.42h0M437.84 299.68h0M418.06 328.52h0M409.65 333.54h0M435.29 335.52h0M424.73 315.81h0M408.75 335.11h0M421.62 304.04h0M422.52 315.84h0M436.47 305.53h0M430.03 306.75h0M430.99 304.32h0M435.34 307.87h0M439.25 307.23h0M432.96 305.15h0M437.33 302.45h0M435.31 308.34h0M433.31 306.96h0M429.91 307.78h0M436.4 303.18h0M423.97 306.23h0M433.17 305.34h0M432.09 303.44h0M430.51 308.71h0M434.89 306.75h0M435.72 308.32h0M436.13 307.78h0M435.35 302.44h0M429.81 301.87h0M432.61 304.34h0M433.09 307.25h0M436.06 308.36h0M433.87 303.93h0M426.84 306.35h0M428.91 307.11h0M432.27 306.64h0M434.64 305.73h0M432.37 307.94h0M435.5 307.62h0M436.32 307.23h0M433.15 307.24h0M435.42 308.62h0M430.53 304.39h0M429.23 305.76h0M433.68 300.03h0M434.29 308.31h0M434.44 305.36h0M431.94 305.36h0M430.37 308.61h0M426.09 304.53h0M433.52 302.32h0M428.08 308.41h0M433.1 303.52h0M427.99 303.69h0M429.99 308.91h0M431.95 302.85h0M432.71 304.43h0M434.14 300.86h0M434.4 304.4h0M432.21 302.41h0M434.62 307.99h0M430.57 301.79h0M428.92 299.77h0M433.22 308.67h0M437.63 303.35h0M435.61 302h0M430.05 308.26h0M434.27 306.66h0M430.31 308.22h0M430.25 300.9h0M429.22 308.94h0M430.87 308.35h0M434.7 306.71h0M433.52 308.65h0M430.57 303.09h0M432.8 307.09h0M429.38 306.91h0M436.95 306.79h0M436.95 306.17h0M436.47 304.08h0M429.32 303.63h0M435.21 301.94h0M434.26 308.97h0M429.6 305.2h0M431.25 304.5h0M431.43 303.2h0M431.05 303.2h0M436.46 308.2h0M425.78 307.83h0M431.7 306.19h0M432.9 307.99h0M431.37 299.09h0M434.99 306.64h0M431.46 302.33h0M434.57 307.46h0M437.3 300.2h0M432.87 305h0M436.63 302.55h0M435.03 306.19h0M436.56 303.33h0M433.33 299.61h0M430.29 308.56h0M431.84 306.06h0M432.5 300.84h0M435.85 302.13h0M431.24 302.46h0M431.63 308.59h0M431.91 308.45h0M438.16 305.45h0M435.2 300.81h0M431.11 306.46h0M431.28 300.33h0M433.95 308.59h0M436.59 296.31h0M432 308.57h0M433.22 300.38h0M434.96 295.3h0M433.75 304.65h0M436.68 305.36h0M428.48 298.61h0M427.87 308.76h0M433.6 305.78h0M433.99 301.3h0M432.42 306.79h0M429.87 305.71h0M433.16 308h0M429.85 308.88h0M401 331h0M402 327.5h0M403 325h0M405 323h0M407 326h0M404 319.5h0M409 318.5h0M412 315h0M415 313h0M418 309h0M420 306h0M408 312.5h0M413 321h0M416 307.5h0M423 301h0M426 298h0" stroke="#174a84" stroke-width="1.45" stroke-linecap="round"/>
<path d="M440.6 335.6 L440.6 329 L448 329.5 L456 331.5 L463 335.6 Z" fill="#d0112b"/>
<path d="M448.31 328.37h0M452 335h0M448.88 323.26h0M446.02 333.37h0M455.18 328.05h0M459.16 330.88h0M445.03 323.97h0M445.78 325.89h0M453.6 334.13h0M458.59 331.33h0M460.55 335.13h0M445.32 323.43h0M442.85 330.86h0M455.75 329.91h0M454.7 335.41h0M450.81 324.9h0M461.49 333.68h0M441.7 328.9h0M454.44 327.31h0M460.97 333.23h0M453.06 332.11h0M457.31 330.98h0M453.19 331.46h0M444.77 324.62h0M453.19 328.72h0M461.28 332.81h0M458.94 332.37h0M456.5 331.67h0M460.51 333.43h0M460.85 335.32h0M444.42 324.33h0M441.58 333.48h0M442.16 328.09h0M441.84 333.57h0M452.31 325.58h0M447.6 323.98h0M448.83 329.24h0M446.35 332.41h0M455.2 334.55h0M452.69 325.89h0M447.63 332.55h0M453.75 325.71h0M458.7 333.66h0M452.71 324.87h0M443.9 330.02h0M448.34 329.86h0M450.77 334.73h0M460.6 332.89h0M443.6 327.34h0M452.11 330.06h0M459.93 331.55h0M462.71 335.58h0M454.56 330.62h0M454.65 329.19h0M458.22 333.77h0M460.05 331.66h0M445.06 327.24h0M444.01 333.9h0M461.59 333.61h0M456.26 333.5h0M450.62 331.72h0M462.2 335.28h0M445.61 327.89h0M451.43 323.72h0M447.12 334.4h0M448.55 334.53h0M454.67 333.5h0M441.63 325.36h0" stroke="#c80f2c" stroke-width="1.5" stroke-linecap="round"/>
<path d="M453.18 318.21h0M465.99 335.84h0M448.21 317.39h0M464.93 333.11h0M460.99 327.11h0M463.08 333.57h0M464.25 326.79h0M467.57 332.16h0M454.76 318.17h0M463.38 334.82h0M444.89 320.56h0M460.09 329.03h0M450.64 335.97h0M453.61 335.71h0M446.38 320.55h0M454.51 310.77h0M463.91 334.77h0M455.39 325.09h0M458.74 325.81h0M451.64 321.25h0M446.79 320.73h0M452.65 319.52h0M451.44 314.4h0M460.24 329.98h0M446.49 311.83h0M462.55 322.23h0M453.13 315.41h0M454.75 324.02h0M450.16 321.36h0M457.65 317.24h0M464.7 334.22h0M460.02 315.09h0M449.4 310.73h0M455.88 335.79h0M451.97 309.91h0M465.08 323.84h0M460.86 335.76h0M444.62 319.5h0M448.68 321.81h0M446.3 322.23h0M450.73 322.4h0M463.85 326.36h0M459.39 324.62h0M443.26 320.4h0M452.97 319.13h0M468.64 333.71h0M460.46 323.66h0M453.89 335.84h0M463.34 334.03h0M451 319.35h0M457.12 335.94h0M458.45 320.5h0M458.83 321.78h0M453.61 324.39h0M458.88 327.98h0M468.71 331.49h0M445.6 335.67h0M460.6 328.38h0M465.74 334.45h0M462.22 330.62h0M458.53 327.28h0M452.01 320.86h0M453.55 313.41h0M450.02 312.24h0M454.28 315.96h0M442.48 310.07h0M446.11 319.72h0M463.97 335.75h0M461.76 324.25h0M458.43 319.15h0M464.05 330.79h0M467.54 331.26h0M442.05 321.92h0M454.84 323.7h0M458.85 335.67h0M462.93 334.72h0M442.81 316.09h0M445.4 321.89h0M452.51 321.97h0M455.24 320.1h0M457.47 321.47h0M441.34 308.97h0M447.48 319.81h0M441.97 308.53h0M442.25 308.34h0M441.37 317.84h0M463.34 327.74h0M462.65 327.9h0M456.65 319.23h0M459.3 328.63h0M445.7 322.72h0M463.03 329.72h0M467.84 333.26h0M465.08 325.69h0M454.87 320.54h0M442.85 317.65h0M448.63 311.76h0M469.27 333.4h0M469.05 331.76h0M451.46 320.41h0M449.12 310.39h0M452.06 335.62h0M463.53 320.54h0M457.21 318.49h0M455.98 323.32h0M456.53 319.9h0M466.98 333.46h0M465.13 325.52h0M460.68 329.51h0M441.62 321.98h0M458.37 335.72h0M454.69 322.45h0M470.95 333.65h0M460.67 330.22h0M448.86 316.74h0M442.17 314.83h0M452.58 321.76h0M455.4 324.8h0M442.5 335.64h0M462.98 331.71h0M459.78 328.58h0M453.84 309.22h0M453.61 321.85h0M447.72 335.61h0M444.3 312.73h0M446.26 312.37h0M461.16 323.13h0M447.33 307h0M464.09 329.06h0M442.66 321.84h0M461.36 328.13h0M461.71 330.65h0M461.71 330.42h0M461.2 321.42h0M460.54 327.64h0M445.82 320.51h0M449.17 317.12h0M441.18 320.87h0M459.03 324.17h0M464.81 332.58h0M461.69 327.21h0M451.37 335.88h0M453.72 320.66h0M460.23 328.52h0M448.37 335.97h0M441.3 335.92h0M443.44 316.67h0M451.75 318.16h0M446.76 310.54h0M463.91 328.71h0M443 300h0M449.5 300h0M476 326h0M468 329.5h0M481.5 307.5h0M455 305h0M452 310h0M446 314h0M462 311h0" stroke="#c80f2c" stroke-width="1.45" stroke-linecap="round"/>
<circle cx="471.5" cy="222" r="0.9" fill="#c01030"/>
<circle cx="460.5" cy="236" r="0.9" fill="#c01030"/>
<circle cx="468" cy="267" r="0.9" fill="#c01030"/>
<circle cx="474" cy="266.5" r="0.9" fill="#c01030"/>
<circle cx="480" cy="271" r="0.9" fill="#1c2c4c"/>
<circle cx="445" cy="282.5" r="0.9" fill="#c01030"/>
<circle cx="459" cy="295" r="0.9" fill="#c01030"/>
<circle cx="478.5" cy="289" r="0.9" fill="#c01030"/>
<circle cx="456.5" cy="299.5" r="0.9" fill="#c01030"/>
<circle cx="503" cy="296" r="0.9" fill="#c01030"/>
<circle cx="463.5" cy="301" r="0.9" fill="#c01030"/>
<circle cx="500" cy="299.5" r="0.9" fill="#c01030"/>
<circle cx="406" cy="236" r="0.9" fill="#1c2c4c"/>
<circle cx="403" cy="237.5" r="0.9" fill="#1c2c4c"/>
<circle cx="428" cy="258" r="0.9" fill="#1c2c4c"/>
<circle cx="430" cy="260" r="0.9" fill="#1c2c4c"/>
<circle cx="425" cy="274" r="0.9" fill="#1c2c4c"/>
<circle cx="422.5" cy="280.5" r="0.9" fill="#1c2c4c"/>
<circle cx="394" cy="298" r="0.9" fill="#1c2c4c"/>
<circle cx="389" cy="300" r="0.9" fill="#1c2c4c"/>
<circle cx="393.5" cy="300.5" r="0.9" fill="#1c2c4c"/>
<circle cx="394" cy="314" r="0.9" fill="#1c2c4c"/>
<circle cx="406.8" cy="307.5" r="0.9" fill="#1c2c4c"/>
<circle cx="378.5" cy="320" r="0.9" fill="#1c2c4c"/>
<circle cx="430" cy="289" r="0.9" fill="#1c2c4c"/>
<circle cx="432" cy="291" r="0.9" fill="#1c2c4c"/>
<circle cx="434" cy="294" r="0.9" fill="#1c2c4c"/>
<text x="474.8" y="220.9" font-size="4.5" text-anchor="middle" fill="#3a3a3a" textLength="12.55" lengthAdjust="spacingAndGlyphs">FKBP5</text>
<text x="463.6" y="234.4" font-size="4.5" text-anchor="middle" fill="#3a3a3a" textLength="11.66" lengthAdjust="spacingAndGlyphs">TXNIP</text>
<text x="461" y="267.6" font-size="4.5" text-anchor="middle" fill="#3a3a3a" textLength="11.44" lengthAdjust="spacingAndGlyphs">DDIT4</text>
<text x="478.2" y="265.2" font-size="4.5" text-anchor="middle" fill="#3a3a3a" textLength="11.23" lengthAdjust="spacingAndGlyphs">ISG20</text>
<text x="483.6" y="276.1" font-size="4.5" text-anchor="middle" fill="#3a3a3a" textLength="17.39" lengthAdjust="spacingAndGlyphs">TSC22D3</text>
<text x="448.1" y="281.2" font-size="4.5" text-anchor="middle" fill="#3a3a3a" textLength="9.68" lengthAdjust="spacingAndGlyphs">TPT1</text>
<text x="455.1" y="293" font-size="4.5" text-anchor="middle" fill="#3a3a3a" textLength="13.42" lengthAdjust="spacingAndGlyphs">CXCR4</text>
<text x="477.9" y="293.8" font-size="4.5" text-anchor="middle" fill="#3a3a3a" textLength="13.64" lengthAdjust="spacingAndGlyphs">CEBPD</text>
<text x="462.8" y="300" font-size="4.5" text-anchor="middle" fill="#3a3a3a" textLength="7.92" lengthAdjust="spacingAndGlyphs">CD7</text>
<text x="505.3" y="294.6" font-size="4.5" text-anchor="middle" fill="#3a3a3a" textLength="8.36" lengthAdjust="spacingAndGlyphs">IL7R</text>
<text x="472" y="304.6" font-size="4.5" text-anchor="middle" fill="#3a3a3a" textLength="12.11" lengthAdjust="spacingAndGlyphs">SYTL3</text>
<text x="496.8" y="304.6" font-size="4.5" text-anchor="middle" fill="#3a3a3a" textLength="9.46" lengthAdjust="spacingAndGlyphs">TLE1</text>
<text x="409.8" y="234.5" font-size="4.5" text-anchor="middle" fill="#3a3a3a" textLength="17.82" lengthAdjust="spacingAndGlyphs">TNFRSF9</text>
<text x="400.8" y="242.2" font-size="4.5" text-anchor="middle" fill="#3a3a3a" textLength="13.71" lengthAdjust="spacingAndGlyphs">CRTAM</text>
<text x="423.7" y="256.9" font-size="4.5" text-anchor="middle" fill="#3a3a3a" textLength="10.12" lengthAdjust="spacingAndGlyphs">RBPJ</text>
<text x="433.5" y="264.3" font-size="4.5" text-anchor="middle" fill="#3a3a3a" textLength="8.58" lengthAdjust="spacingAndGlyphs">PKM</text>
<text x="429.4" y="272.8" font-size="4.5" text-anchor="middle" fill="#3a3a3a" textLength="20.02" lengthAdjust="spacingAndGlyphs">TNFRSF18</text>
<text x="415.5" y="278.2" font-size="4.5" text-anchor="middle" fill="#3a3a3a" textLength="8.8" lengthAdjust="spacingAndGlyphs">AHI1</text>
<text x="426.9" y="285.5" font-size="4.5" text-anchor="middle" fill="#3a3a3a" textLength="13.64" lengthAdjust="spacingAndGlyphs">RAMP3</text>
<text x="441.6" y="288" font-size="4.5" text-anchor="middle" fill="#3a3a3a" textLength="11" lengthAdjust="spacingAndGlyphs">TXOC</text>
<text x="426.1" y="291.7" font-size="4.5" text-anchor="middle" fill="#3a3a3a" textLength="12.98" lengthAdjust="spacingAndGlyphs">NR3C1</text>
<text x="390.2" y="297" font-size="4.5" text-anchor="middle" fill="#3a3a3a" textLength="16.07" lengthAdjust="spacingAndGlyphs">SEMA4A</text>
<text x="412.2" y="297.8" font-size="4.5" text-anchor="middle" fill="#3a3a3a" textLength="18.05" lengthAdjust="spacingAndGlyphs">CCDC167</text>
<text x="429.4" y="298.3" font-size="4.5" text-anchor="middle" fill="#3a3a3a" textLength="10.56" lengthAdjust="spacingAndGlyphs">JUND</text>
<text x="383.6" y="305.1" font-size="4.5" text-anchor="middle" fill="#3a3a3a" textLength="12.99" lengthAdjust="spacingAndGlyphs">RGS16</text>
<text x="399.1" y="305.5" font-size="4.5" text-anchor="middle" fill="#3a3a3a" textLength="10.78" lengthAdjust="spacingAndGlyphs">EGR2</text>
<text x="457.8" y="308.6" font-size="4.5" text-anchor="middle" fill="#3a3a3a" textLength="16.29" lengthAdjust="spacingAndGlyphs">ZFP36L1</text>
<text x="66.8" y="397.6" font-size="11.5" fill="#111" font-weight="bold" stroke="#111" stroke-width="0.3">F</text>
<text x="228.6" y="395.4" font-size="8.3" text-anchor="middle" fill="#333">IFNG</text>
<line x1="98" y1="400.2" x2="98" y2="497.2" stroke="#222" stroke-width="1.1"/>
<line x1="97.5" y1="496.7" x2="359.2" y2="496.7" stroke="#222" stroke-width="1.1"/>
<line x1="94.8" y1="492.3" x2="98" y2="492.3" stroke="#333" stroke-width="0.8"/>
<text x="92.4" y="494.6" font-size="6.4" text-anchor="end" fill="#333">0</text>
<line x1="94.8" y1="463.05" x2="98" y2="463.05" stroke="#333" stroke-width="0.8"/>
<text x="92.4" y="465.35" font-size="6.4" text-anchor="end" fill="#333">1</text>
<line x1="94.8" y1="433.8" x2="98" y2="433.8" stroke="#333" stroke-width="0.8"/>
<text x="92.4" y="436.1" font-size="6.4" text-anchor="end" fill="#333">2</text>
<line x1="94.8" y1="404.55" x2="98" y2="404.55" stroke="#333" stroke-width="0.8"/>
<text x="92.4" y="406.85" font-size="6.4" text-anchor="end" fill="#333">3</text>
<text font-size="6.5" fill="#333" text-anchor="middle" transform="translate(83.2 448.7) rotate(-90)" textLength="47.3" lengthAdjust="spacingAndGlyphs">Expression level</text>
<text x="229" y="573.3" font-size="7.8" text-anchor="middle" fill="#333" textLength="22.2" lengthAdjust="spacingAndGlyphs">Identity</text>
<line x1="120.1" y1="496.7" x2="120.1" y2="499.6" stroke="#333" stroke-width="0.8"/>
<text font-size="6.45" fill="#333" text-anchor="end" transform="translate(123.4 507.2) rotate(-45)">NK−K562−DMSO</text>
<line x1="156.1" y1="496.7" x2="156.1" y2="499.6" stroke="#333" stroke-width="0.8"/>
<text font-size="6.45" fill="#333" text-anchor="end" transform="translate(159.4 507.2) rotate(-45)">Imatinib−NK−K562</text>
<line x1="192.5" y1="496.7" x2="192.5" y2="499.6" stroke="#333" stroke-width="0.8"/>
<text font-size="6.45" fill="#333" text-anchor="end" transform="translate(195.8 507.2) rotate(-45)">Paclitaxel−NK−K562</text>
<line x1="228.7" y1="496.7" x2="228.7" y2="499.6" stroke="#333" stroke-width="0.8"/>
<text font-size="6.45" fill="#333" text-anchor="end" transform="translate(232 507.2) rotate(-45)">Birinapant−NK−K562</text>
<line x1="265.4" y1="496.7" x2="265.4" y2="499.6" stroke="#333" stroke-width="0.8"/>
<text font-size="6.45" fill="#333" text-anchor="end" transform="translate(268.7 507.2) rotate(-45)">Sotrastaurin−NK−K562</text>
<line x1="301.8" y1="496.7" x2="301.8" y2="499.6" stroke="#333" stroke-width="0.8"/>
<text font-size="6.45" fill="#333" text-anchor="end" transform="translate(305.1 507.2) rotate(-45)">Dexamethasone−NK−K562</text>
<line x1="338.2" y1="496.7" x2="338.2" y2="499.6" stroke="#333" stroke-width="0.8"/>
<text font-size="6.45" fill="#333" text-anchor="end" transform="translate(341.5 507.2) rotate(-45)">Dasatinib−NK−K562</text>
<path d="M123.73 458.26h0M126.65 460.82h0M127.35 472.78h0M105.74 481.8h0M127.75 465.26h0M109.85 445.66h0M111.69 449.99h0M124.66 459.92h0M135.04 435.09h0M107.41 443.82h0M118.22 467.51h0M128.13 470.62h0M111.77 479.25h0M111.67 419.09h0M125.44 442.07h0M119.42 438.31h0M111.88 426.18h0M133.18 451.79h0M124.47 447.83h0M120.82 446.94h0M110.82 465.11h0M117.73 422.04h0M108.51 431.88h0M118.88 437.22h0M110.53 464.96h0M119.69 471.38h0M122 428.74h0M134.05 443.71h0M107.59 449.82h0M122.08 451.97h0M116.25 462.09h0M112.58 479.22h0M133.21 455.73h0M109.5 476.4h0M115.34 451.6h0M117.98 470.14h0M117.97 448.2h0M125.1 459.87h0M111.36 442.13h0M112.74 418.64h0M123.28 438.89h0M107.09 454.52h0M106.11 479.32h0M120.76 470.21h0M124.86 447.89h0M120.74 423.81h0M128.72 417.27h0M128.72 456.38h0M133.07 458.11h0M129.41 435.86h0M108.81 436.93h0M119.37 432.23h0M117.21 460.11h0M127.3 430.65h0M124.3 470.09h0M127.83 444.78h0M122.6 447.93h0M121.5 462h0M119.66 458.08h0M114.63 454.96h0M131.59 443.13h0M124.4 472.03h0M135.24 451.5h0M115.86 437.2h0M122.95 466.27h0M106.82 470.76h0M116.58 440.19h0M123.57 428.33h0M104.98 461.19h0M106.66 434.91h0M129.76 441.68h0M108.88 427.02h0M119.44 456.09h0M125.7 476.93h0M116.77 424.68h0M152.15 446.94h0M160.27 444.65h0M161.74 477.18h0M142.93 480.51h0M170.65 422.64h0M150.89 435.82h0M154.03 473.82h0M141.8 455.09h0M170.96 476.42h0M156.99 445.51h0M150.96 413.29h0M169.24 425.94h0M168.25 464.51h0M149.79 419.05h0M159.54 465.61h0M148.54 470.29h0M164.27 452.22h0M142.26 480.02h0M141.56 446.75h0M163.38 417.19h0M161.39 460.43h0M168.63 471.93h0M158.01 467h0M153.2 470.27h0M142.48 417.6h0M166.63 469.55h0M152.55 449.24h0M159.43 413.9h0M156.19 446.17h0M144.87 448.64h0M145.66 458.9h0M169.54 445.82h0M152.73 434.69h0M158.41 424.64h0M170.42 474.56h0M159.07 437.5h0M148.44 431.83h0M169.75 445.6h0M155.13 411.63h0M163.68 453.06h0M154.61 460.93h0M161.82 439.31h0M159.73 470.63h0M166.06 464.84h0M165.35 446h0M163.95 471.33h0M161.27 434.91h0M142.14 454.02h0M169.27 447.64h0M170.91 444.9h0M153.04 453.47h0M157.57 475.3h0M169.12 417.57h0M151.74 475.84h0M156.26 421.73h0M151 469.32h0M154.39 446.98h0M142.73 421.15h0M169.77 433.09h0M142.69 460.48h0M162.06 432.44h0M166.18 468.35h0M140.91 460.87h0M167.28 444.74h0M141.55 422.89h0M162.54 452.65h0M169.87 456.36h0M148.32 481.58h0M143.04 478.96h0M166.23 461.44h0M188.05 410.28h0M197.89 428.06h0M183.51 469.58h0M189.38 479.6h0M182.04 412.9h0M182.98 424.22h0M204.39 467.38h0M192.06 468.7h0M204.75 468.02h0M180.68 441.25h0M206.82 473.5h0M179.14 476.73h0M204.68 433.15h0M194 440.02h0M193.61 477.93h0M191.92 467.32h0M193.77 428.7h0M199.63 411.52h0M199.36 455.36h0M193.12 414.37h0M206.33 422.15h0M207.38 463.63h0M188.86 424.82h0M189.39 445.71h0M179.5 431.65h0M205.08 472.33h0M185.74 478.68h0M195.78 470.76h0M179.04 414.58h0M179.45 459.75h0M190.1 462.88h0M180.58 475.42h0M197.71 453.91h0M192.77 480.35h0M184.61 423.47h0M190.4 460.79h0M196.35 471.34h0M201.49 456.39h0M197.45 472.99h0M199.32 446.7h0M195.11 471.59h0M185.58 478.44h0M200.94 467.64h0M181.32 463.3h0M187.28 460.52h0M181.53 476.44h0M187.74 472.15h0M186.77 469.2h0M201.07 478.14h0M186.2 417.37h0M201.31 466.85h0M180.99 433.74h0M196.24 415.43h0M206.53 476.2h0M204.78 439.8h0M207.19 453.2h0M197.56 477.17h0M178.38 447.25h0M192.44 451.12h0M206.96 451.4h0M180.31 461.07h0M192.66 446.14h0M204.11 414.84h0M178.08 416.03h0M189.44 475.25h0M203.22 423.75h0M201.65 431.95h0M193.84 443.23h0M184.16 439.82h0M197.86 462.15h0M213.75 463.44h0M231.11 478.65h0M231.67 462.31h0M228.22 457.31h0M236.49 424.04h0M214.69 444.46h0M236.08 444.58h0M233.92 476.63h0M237.23 449.86h0M231.34 445.93h0M232.52 453.1h0M228.39 440.18h0M230.28 471.79h0M223.28 443.68h0M236.18 425.09h0M234.56 436.12h0M243.04 457.32h0M242.9 445.04h0M228.63 466.24h0M222.39 445.37h0M218.45 427.8h0M236.57 423.58h0M232.66 448.96h0M234.26 453.47h0M215.13 474.58h0M228.11 429.34h0M243.38 454.97h0M231.4 428.21h0M231.02 430.71h0M240.53 442.74h0M243.06 451.78h0M237.57 457.86h0M228.1 455.85h0M222.56 472.39h0M219.68 426.24h0M239.29 422.12h0M230.73 471.07h0M221.78 426.76h0M229.32 429.59h0M241.02 464.35h0M236.76 444.17h0M223.23 475.64h0M232.58 477.97h0M227.94 444.58h0M242.34 477.83h0M230.07 450.03h0M233.39 476.66h0M243.34 466.47h0M222.11 452.09h0M220.66 475.93h0M257.91 473.98h0M272.72 473.36h0M252.17 469.9h0M268.31 472.47h0M260.99 462.44h0M264.5 476.62h0M251.95 472.95h0M274.04 475.63h0M257.15 441.23h0M264.8 461.53h0M272.05 458.12h0M253.38 469.69h0M267.33 461.18h0M269.65 481.89h0M252.17 454.91h0M279.8 460.05h0M265.28 439.84h0M270.11 434.23h0M267.73 457.12h0M249.92 469.28h0M252.83 474.63h0M273.81 454.19h0M272.4 441.06h0M267.84 457.63h0M261.99 479.7h0M263.7 438.28h0M253.18 460.85h0M256.61 433.24h0M262.99 452.68h0M269.74 460.84h0M253.07 481.27h0M258.6 460.97h0M302.24 467.09h0M288.52 424.06h0M305.44 477.29h0M297.79 466.82h0M300.74 462.82h0M287.34 457.55h0M307.66 448.94h0M294.27 433.32h0M309.82 455.37h0M286.95 420.88h0M299.27 451.14h0M315.85 459.08h0M286.89 465.64h0M315.82 451.37h0M292.42 414.31h0M296.31 458.61h0M304.76 475.19h0M301.15 436.34h0M301.46 441.91h0M311.64 431.31h0M299.96 469.06h0M295.77 473.6h0M289.22 462.65h0M293.61 441.34h0M297.13 467.53h0M301.01 459.69h0M311.44 452.56h0M295.92 433.16h0M297.09 452.51h0M307.88 412.72h0M288.13 415.8h0M295.17 443.71h0M295.9 471.44h0M288.45 431.79h0M324.9 463.26h0M333.71 446.78h0M344.34 445.5h0M328.9 442.43h0M353.37 426.12h0M346.69 452.83h0M332.36 466.88h0M334.31 478.56h0M347.81 480.68h0M347.47 460.11h0M352.3 472.68h0M339.86 427.7h0M344 452.87h0M353.47 464.69h0M344.74 471.85h0M346.67 477.4h0M334.42 465.96h0M341.07 456.15h0M342.94 461.26h0M341.33 453.04h0M329.28 426.48h0M329.92 470.39h0M352.3 461.94h0M343.27 452.84h0M322.73 447.59h0M352.48 429.14h0M341.28 465.93h0M338.69 459.98h0M337.21 458.62h0M337.93 463.66h0M324.09 473.42h0M334.2 472.05h0M324.11 456.77h0M342.61 466.48h0" stroke="#777" stroke-width="1" stroke-linecap="round"/>
<path d="M120.1 413.7 L120.4 413.7 L120.44 414.01 L120.5 414.41 L120.57 414.88 L120.64 415.41 L120.73 416 L120.81 416.63 L120.91 417.3 L121 418 L121.1 418.73 L121.2 419.51 L121.3 420.34 L121.41 421.21 L121.53 422.11 L121.65 423.05 L121.77 424.01 L121.9 425 L122.03 426.02 L122.16 427.06 L122.29 428.14 L122.43 429.25 L122.58 430.39 L122.74 431.56 L122.91 432.77 L123.1 434 L123.32 435.31 L123.56 436.7 L123.83 438.15 L124.11 439.62 L124.38 441.08 L124.64 442.48 L124.89 443.8 L125.1 445 L125.29 446.08 L125.46 447.09 L125.61 448.02 L125.76 448.9 L125.89 449.73 L126 450.51 L126.11 451.27 L126.2 452 L126.28 452.69 L126.35 453.32 L126.4 453.91 L126.44 454.46 L126.47 455 L126.49 455.52 L126.5 456.05 L126.5 456.6 L126.49 457.16 L126.47 457.7 L126.45 458.24 L126.41 458.78 L126.35 459.31 L126.29 459.86 L126.2 460.42 L126.1 461 L125.97 461.6 L125.82 462.21 L125.64 462.83 L125.46 463.46 L125.26 464.1 L125.07 464.74 L124.88 465.37 L124.7 466 L124.53 466.64 L124.34 467.3 L124.16 467.97 L123.98 468.64 L123.81 469.29 L123.65 469.9 L123.51 470.48 L123.4 471 L123.31 471.44 L123.23 471.8 L123.17 472.11 L123.13 472.39 L123.1 472.67 L123.09 472.98 L123.09 473.35 L123.1 473.8 L123.13 474.35 L123.16 474.98 L123.22 475.67 L123.28 476.39 L123.36 477.11 L123.46 477.8 L123.57 478.44 L123.7 479 L123.84 479.48 L124 479.9 L124.17 480.29 L124.36 480.64 L124.57 480.97 L124.79 481.3 L125.04 481.64 L125.3 482 L125.59 482.38 L125.91 482.76 L126.24 483.15 L126.6 483.53 L126.97 483.91 L127.34 484.29 L127.72 484.65 L128.1 485 L128.48 485.34 L128.88 485.66 L129.28 485.98 L129.69 486.29 L130.1 486.6 L130.5 486.9 L130.91 487.2 L131.3 487.5 L131.69 487.8 L132.1 488.11 L132.5 488.41 L132.9 488.71 L133.29 489 L133.65 489.28 L133.99 489.55 L134.3 489.8 L134.57 490.04 L134.82 490.26 L135.05 490.48 L135.26 490.68 L135.44 490.87 L135.61 491.06 L135.76 491.23 L135.9 491.4 L136.02 491.56 L136.11 491.72 L136.19 491.86 L136.25 492 L136.3 492.12 L136.34 492.23 L136.37 492.33 L136.4 492.4 L103.8 492.4 L103.83 492.33 L103.86 492.23 L103.9 492.12 L103.95 492 L104.01 491.86 L104.09 491.72 L104.18 491.56 L104.3 491.4 L104.44 491.23 L104.59 491.06 L104.76 490.87 L104.94 490.68 L105.15 490.48 L105.38 490.26 L105.63 490.04 L105.9 489.8 L106.21 489.55 L106.55 489.28 L106.91 489 L107.3 488.71 L107.7 488.41 L108.1 488.11 L108.51 487.8 L108.9 487.5 L109.29 487.2 L109.7 486.9 L110.1 486.6 L110.51 486.29 L110.92 485.98 L111.32 485.66 L111.72 485.34 L112.1 485 L112.48 484.65 L112.86 484.29 L113.23 483.91 L113.6 483.53 L113.96 483.15 L114.29 482.76 L114.61 482.38 L114.9 482 L115.16 481.64 L115.41 481.3 L115.63 480.97 L115.84 480.64 L116.03 480.29 L116.2 479.9 L116.36 479.48 L116.5 479 L116.63 478.44 L116.74 477.8 L116.84 477.11 L116.92 476.39 L116.98 475.67 L117.04 474.98 L117.07 474.35 L117.1 473.8 L117.11 473.35 L117.11 472.98 L117.1 472.67 L117.07 472.39 L117.03 472.11 L116.97 471.8 L116.89 471.44 L116.8 471 L116.69 470.48 L116.55 469.9 L116.39 469.29 L116.22 468.64 L116.04 467.97 L115.86 467.3 L115.67 466.64 L115.5 466 L115.32 465.37 L115.13 464.74 L114.94 464.1 L114.74 463.46 L114.56 462.83 L114.38 462.21 L114.23 461.6 L114.1 461 L114 460.42 L113.91 459.86 L113.85 459.31 L113.79 458.78 L113.75 458.24 L113.73 457.7 L113.71 457.16 L113.7 456.6 L113.7 456.05 L113.71 455.52 L113.73 455 L113.76 454.46 L113.8 453.91 L113.85 453.32 L113.92 452.69 L114 452 L114.09 451.27 L114.2 450.51 L114.31 449.73 L114.44 448.9 L114.59 448.02 L114.74 447.09 L114.91 446.08 L115.1 445 L115.31 443.8 L115.56 442.48 L115.82 441.08 L116.09 439.62 L116.37 438.15 L116.64 436.7 L116.88 435.31 L117.1 434 L117.29 432.77 L117.46 431.56 L117.62 430.39 L117.77 429.25 L117.91 428.14 L118.04 427.06 L118.17 426.02 L118.3 425 L118.43 424.01 L118.55 423.05 L118.67 422.11 L118.79 421.21 L118.9 420.34 L119 419.51 L119.1 418.73 L119.2 418 L119.29 417.3 L119.39 416.63 L119.47 416 L119.56 415.41 L119.63 414.88 L119.7 414.41 L119.76 414.01 L119.8 413.7 Z" fill="#c8102e" stroke="#2a2a2a" stroke-width="0.55" stroke-linejoin="round"/>
<path d="M156.1 406.9 L156.4 406.9 L156.44 407.23 L156.49 407.61 L156.55 408.06 L156.61 408.59 L156.69 409.23 L156.78 410 L156.88 410.92 L157 412 L157.14 413.34 L157.29 414.95 L157.46 416.74 L157.64 418.65 L157.83 420.58 L158.02 422.45 L158.21 424.19 L158.4 425.7 L158.58 426.99 L158.77 428.14 L158.96 429.18 L159.14 430.15 L159.33 431.08 L159.52 432.01 L159.71 432.97 L159.9 434 L160.09 435.1 L160.28 436.25 L160.48 437.42 L160.67 438.59 L160.87 439.74 L161.05 440.86 L161.23 441.92 L161.4 442.9 L161.56 443.8 L161.72 444.63 L161.88 445.4 L162.03 446.14 L162.16 446.85 L162.29 447.55 L162.4 448.27 L162.5 449 L162.58 449.75 L162.66 450.51 L162.72 451.26 L162.78 452.01 L162.81 452.75 L162.83 453.49 L162.83 454.2 L162.8 454.9 L162.75 455.58 L162.67 456.23 L162.58 456.87 L162.46 457.49 L162.33 458.12 L162.2 458.74 L162.05 459.36 L161.9 460 L161.74 460.65 L161.55 461.3 L161.36 461.96 L161.15 462.62 L160.94 463.27 L160.75 463.93 L160.56 464.57 L160.4 465.2 L160.25 465.83 L160.12 466.47 L159.99 467.11 L159.87 467.74 L159.76 468.35 L159.66 468.94 L159.57 469.49 L159.5 470 L159.44 470.44 L159.39 470.81 L159.35 471.12 L159.32 471.43 L159.3 471.73 L159.29 472.08 L159.29 472.49 L159.3 473 L159.31 473.63 L159.33 474.36 L159.35 475.16 L159.39 476 L159.44 476.84 L159.5 477.64 L159.59 478.37 L159.7 479 L159.83 479.52 L159.99 479.96 L160.16 480.34 L160.35 480.69 L160.56 481.01 L160.79 481.32 L161.03 481.65 L161.3 482 L161.59 482.38 L161.91 482.76 L162.24 483.15 L162.6 483.53 L162.97 483.91 L163.34 484.29 L163.72 484.65 L164.1 485 L164.48 485.34 L164.88 485.66 L165.28 485.98 L165.69 486.29 L166.1 486.6 L166.5 486.9 L166.91 487.2 L167.3 487.5 L167.69 487.8 L168.1 488.11 L168.5 488.41 L168.9 488.71 L169.29 489 L169.65 489.28 L169.99 489.55 L170.3 489.8 L170.57 490.04 L170.82 490.26 L171.05 490.48 L171.26 490.68 L171.44 490.87 L171.61 491.06 L171.76 491.23 L171.9 491.4 L172.02 491.56 L172.11 491.72 L172.19 491.86 L172.25 492 L172.3 492.12 L172.34 492.23 L172.37 492.33 L172.4 492.4 L139.8 492.4 L139.83 492.33 L139.86 492.23 L139.9 492.12 L139.95 492 L140.01 491.86 L140.09 491.72 L140.18 491.56 L140.3 491.4 L140.44 491.23 L140.59 491.06 L140.76 490.87 L140.94 490.68 L141.15 490.48 L141.38 490.26 L141.63 490.04 L141.9 489.8 L142.21 489.55 L142.55 489.28 L142.91 489 L143.3 488.71 L143.7 488.41 L144.1 488.11 L144.51 487.8 L144.9 487.5 L145.29 487.2 L145.7 486.9 L146.1 486.6 L146.51 486.29 L146.92 485.98 L147.32 485.66 L147.72 485.34 L148.1 485 L148.48 484.65 L148.86 484.29 L149.23 483.91 L149.6 483.53 L149.96 483.15 L150.29 482.76 L150.61 482.38 L150.9 482 L151.17 481.65 L151.41 481.32 L151.64 481.01 L151.85 480.69 L152.04 480.34 L152.21 479.96 L152.37 479.52 L152.5 479 L152.61 478.37 L152.7 477.64 L152.76 476.84 L152.81 476 L152.85 475.16 L152.87 474.36 L152.89 473.63 L152.9 473 L152.91 472.49 L152.91 472.08 L152.9 471.73 L152.88 471.43 L152.85 471.12 L152.81 470.81 L152.76 470.44 L152.7 470 L152.63 469.49 L152.54 468.94 L152.44 468.35 L152.33 467.74 L152.21 467.11 L152.08 466.47 L151.95 465.83 L151.8 465.2 L151.64 464.57 L151.45 463.93 L151.26 463.27 L151.05 462.62 L150.84 461.96 L150.65 461.3 L150.46 460.65 L150.3 460 L150.15 459.36 L150 458.74 L149.87 458.12 L149.74 457.49 L149.62 456.87 L149.53 456.23 L149.45 455.58 L149.4 454.9 L149.37 454.2 L149.37 453.49 L149.39 452.75 L149.42 452.01 L149.48 451.26 L149.54 450.51 L149.62 449.75 L149.7 449 L149.8 448.27 L149.91 447.55 L150.04 446.85 L150.17 446.14 L150.32 445.4 L150.48 444.63 L150.64 443.8 L150.8 442.9 L150.97 441.92 L151.15 440.86 L151.33 439.74 L151.53 438.59 L151.72 437.42 L151.92 436.25 L152.11 435.1 L152.3 434 L152.49 432.97 L152.68 432.01 L152.87 431.08 L153.06 430.15 L153.24 429.18 L153.43 428.14 L153.62 426.99 L153.8 425.7 L153.99 424.19 L154.18 422.45 L154.37 420.58 L154.56 418.65 L154.74 416.74 L154.91 414.95 L155.06 413.34 L155.2 412 L155.32 410.92 L155.42 410 L155.51 409.23 L155.59 408.59 L155.65 408.06 L155.71 407.61 L155.76 407.23 L155.8 406.9 Z" fill="#d07a1c" stroke="#2a2a2a" stroke-width="0.55" stroke-linejoin="round"/>
<path d="M192.5 404.9 L192.8 404.9 L192.82 405.23 L192.84 405.61 L192.86 406.06 L192.88 406.59 L192.92 407.23 L192.96 408 L193.02 408.92 L193.1 410 L193.2 411.34 L193.31 412.95 L193.45 414.74 L193.59 416.65 L193.74 418.58 L193.89 420.45 L194.05 422.19 L194.2 423.7 L194.35 424.99 L194.51 426.14 L194.66 427.18 L194.82 428.15 L194.99 429.08 L195.16 430.01 L195.33 430.97 L195.5 432 L195.68 433.1 L195.87 434.22 L196.06 435.37 L196.25 436.53 L196.44 437.67 L196.63 438.79 L196.82 439.87 L197 440.9 L197.18 441.88 L197.36 442.81 L197.54 443.72 L197.71 444.59 L197.88 445.45 L198.04 446.3 L198.18 447.15 L198.3 448 L198.41 448.86 L198.5 449.74 L198.59 450.61 L198.66 451.47 L198.72 452.31 L198.76 453.12 L198.79 453.88 L198.8 454.6 L198.79 455.26 L198.76 455.86 L198.71 456.42 L198.65 456.95 L198.58 457.46 L198.49 457.97 L198.4 458.47 L198.3 459 L198.19 459.52 L198.07 460.03 L197.93 460.52 L197.79 461.01 L197.64 461.52 L197.49 462.04 L197.34 462.6 L197.2 463.2 L197.06 463.86 L196.91 464.57 L196.75 465.31 L196.6 466.08 L196.45 466.85 L196.32 467.6 L196.2 468.33 L196.1 469 L196.02 469.62 L195.95 470.19 L195.9 470.74 L195.86 471.27 L195.83 471.8 L195.81 472.34 L195.8 472.9 L195.8 473.5 L195.8 474.16 L195.8 474.86 L195.81 475.6 L195.83 476.34 L195.87 477.08 L195.92 477.78 L196 478.43 L196.1 479 L196.23 479.49 L196.38 479.93 L196.55 480.31 L196.74 480.66 L196.95 480.98 L197.19 481.31 L197.43 481.64 L197.7 482 L197.99 482.38 L198.31 482.76 L198.64 483.15 L199 483.53 L199.37 483.91 L199.74 484.29 L200.12 484.65 L200.5 485 L200.88 485.34 L201.28 485.66 L201.68 485.98 L202.09 486.29 L202.5 486.6 L202.9 486.9 L203.31 487.2 L203.7 487.5 L204.09 487.8 L204.5 488.11 L204.9 488.41 L205.3 488.71 L205.69 489 L206.05 489.28 L206.39 489.55 L206.7 489.8 L206.97 490.04 L207.22 490.26 L207.45 490.48 L207.66 490.68 L207.84 490.87 L208.01 491.06 L208.16 491.23 L208.3 491.4 L208.42 491.56 L208.51 491.72 L208.59 491.86 L208.65 492 L208.7 492.12 L208.74 492.23 L208.77 492.33 L208.8 492.4 L176.2 492.4 L176.23 492.33 L176.26 492.23 L176.3 492.12 L176.35 492 L176.41 491.86 L176.49 491.72 L176.58 491.56 L176.7 491.4 L176.84 491.23 L176.99 491.06 L177.16 490.87 L177.34 490.68 L177.55 490.48 L177.78 490.26 L178.03 490.04 L178.3 489.8 L178.61 489.55 L178.95 489.28 L179.31 489 L179.7 488.71 L180.1 488.41 L180.5 488.11 L180.91 487.8 L181.3 487.5 L181.69 487.2 L182.1 486.9 L182.5 486.6 L182.91 486.29 L183.32 485.98 L183.72 485.66 L184.12 485.34 L184.5 485 L184.88 484.65 L185.26 484.29 L185.63 483.91 L186 483.53 L186.36 483.15 L186.69 482.76 L187.01 482.38 L187.3 482 L187.57 481.64 L187.81 481.31 L188.05 480.98 L188.26 480.66 L188.45 480.31 L188.62 479.93 L188.77 479.49 L188.9 479 L189 478.43 L189.08 477.78 L189.13 477.08 L189.17 476.34 L189.19 475.6 L189.2 474.86 L189.2 474.16 L189.2 473.5 L189.2 472.9 L189.19 472.34 L189.17 471.8 L189.14 471.27 L189.1 470.74 L189.05 470.19 L188.98 469.62 L188.9 469 L188.8 468.33 L188.68 467.6 L188.55 466.85 L188.4 466.08 L188.25 465.31 L188.09 464.57 L187.94 463.86 L187.8 463.2 L187.66 462.6 L187.51 462.04 L187.36 461.52 L187.21 461.01 L187.07 460.52 L186.93 460.03 L186.81 459.52 L186.7 459 L186.6 458.47 L186.51 457.97 L186.42 457.46 L186.35 456.95 L186.29 456.42 L186.24 455.86 L186.21 455.26 L186.2 454.6 L186.21 453.88 L186.24 453.12 L186.28 452.31 L186.34 451.47 L186.41 450.61 L186.5 449.74 L186.59 448.86 L186.7 448 L186.82 447.15 L186.96 446.3 L187.12 445.45 L187.29 444.59 L187.46 443.72 L187.64 442.81 L187.82 441.88 L188 440.9 L188.18 439.87 L188.37 438.79 L188.56 437.67 L188.75 436.53 L188.94 435.37 L189.13 434.22 L189.32 433.1 L189.5 432 L189.67 430.97 L189.84 430.01 L190.01 429.08 L190.18 428.15 L190.34 427.18 L190.49 426.14 L190.65 424.99 L190.8 423.7 L190.95 422.19 L191.11 420.45 L191.26 418.58 L191.41 416.65 L191.55 414.74 L191.69 412.95 L191.8 411.34 L191.9 410 L191.98 408.92 L192.04 408 L192.08 407.23 L192.12 406.59 L192.14 406.06 L192.16 405.61 L192.18 405.23 L192.2 404.9 Z" fill="#3cb034" stroke="#2a2a2a" stroke-width="0.55" stroke-linejoin="round"/>
<path d="M228.7 433.6 L229.2 433.6 L229.27 433.95 L229.37 434.42 L229.48 434.99 L229.61 435.61 L229.74 436.26 L229.87 436.9 L229.99 437.49 L230.1 438 L230.19 438.43 L230.27 438.8 L230.35 439.14 L230.42 439.46 L230.5 439.79 L230.58 440.14 L230.68 440.54 L230.8 441 L230.94 441.53 L231.11 442.11 L231.29 442.73 L231.47 443.38 L231.67 444.04 L231.85 444.7 L232.03 445.36 L232.2 446 L232.36 446.62 L232.51 447.24 L232.66 447.85 L232.81 448.46 L232.94 449.08 L233.07 449.71 L233.19 450.35 L233.3 451 L233.4 451.68 L233.48 452.39 L233.56 453.11 L233.63 453.84 L233.69 454.56 L233.74 455.27 L233.78 455.95 L233.8 456.6 L233.81 457.21 L233.81 457.79 L233.8 458.35 L233.77 458.89 L233.74 459.42 L233.7 459.94 L233.65 460.47 L233.6 461 L233.54 461.53 L233.47 462.05 L233.39 462.56 L233.3 463.07 L233.21 463.59 L233.11 464.11 L233.01 464.65 L232.9 465.2 L232.79 465.77 L232.66 466.34 L232.52 466.93 L232.39 467.52 L232.25 468.12 L232.12 468.74 L232 469.36 L231.9 470 L231.81 470.67 L231.71 471.38 L231.62 472.12 L231.54 472.86 L231.48 473.59 L231.43 474.28 L231.4 474.93 L231.4 475.5 L231.42 475.99 L231.46 476.43 L231.53 476.81 L231.61 477.16 L231.7 477.48 L231.82 477.81 L231.95 478.14 L232.1 478.5 L232.27 478.88 L232.45 479.25 L232.65 479.62 L232.87 480 L233.1 480.38 L233.35 480.75 L233.62 481.12 L233.9 481.5 L234.2 481.88 L234.52 482.25 L234.85 482.63 L235.21 483.01 L235.57 483.39 L235.94 483.76 L236.32 484.13 L236.7 484.5 L237.09 484.86 L237.5 485.22 L237.92 485.58 L238.34 485.93 L238.77 486.28 L239.19 486.63 L239.6 486.97 L240 487.3 L240.39 487.63 L240.78 487.97 L241.17 488.3 L241.56 488.62 L241.93 488.94 L242.28 489.25 L242.6 489.53 L242.9 489.8 L243.17 490.05 L243.42 490.28 L243.64 490.49 L243.85 490.69 L244.04 490.88 L244.21 491.06 L244.36 491.23 L244.5 491.4 L244.62 491.56 L244.71 491.72 L244.79 491.86 L244.85 492 L244.9 492.12 L244.94 492.23 L244.97 492.33 L245 492.4 L212.4 492.4 L212.43 492.33 L212.46 492.23 L212.5 492.12 L212.55 492 L212.61 491.86 L212.69 491.72 L212.78 491.56 L212.9 491.4 L213.04 491.23 L213.19 491.06 L213.36 490.88 L213.55 490.69 L213.76 490.49 L213.98 490.28 L214.23 490.05 L214.5 489.8 L214.8 489.53 L215.12 489.25 L215.47 488.94 L215.84 488.62 L216.23 488.3 L216.62 487.97 L217.01 487.63 L217.4 487.3 L217.8 486.97 L218.21 486.63 L218.63 486.28 L219.06 485.93 L219.48 485.58 L219.9 485.22 L220.31 484.86 L220.7 484.5 L221.08 484.13 L221.46 483.76 L221.83 483.39 L222.19 483.01 L222.55 482.63 L222.88 482.25 L223.2 481.88 L223.5 481.5 L223.78 481.12 L224.05 480.75 L224.3 480.38 L224.53 480 L224.75 479.62 L224.95 479.25 L225.13 478.88 L225.3 478.5 L225.45 478.14 L225.58 477.81 L225.7 477.48 L225.79 477.16 L225.87 476.81 L225.94 476.43 L225.98 475.99 L226 475.5 L226 474.93 L225.97 474.28 L225.92 473.59 L225.86 472.86 L225.78 472.12 L225.69 471.38 L225.59 470.67 L225.5 470 L225.4 469.36 L225.28 468.74 L225.15 468.12 L225.01 467.52 L224.88 466.93 L224.74 466.34 L224.61 465.77 L224.5 465.2 L224.39 464.65 L224.29 464.11 L224.19 463.59 L224.1 463.07 L224.01 462.56 L223.93 462.05 L223.86 461.53 L223.8 461 L223.75 460.47 L223.7 459.94 L223.66 459.42 L223.62 458.89 L223.6 458.35 L223.59 457.79 L223.59 457.21 L223.6 456.6 L223.62 455.95 L223.66 455.27 L223.71 454.56 L223.77 453.84 L223.84 453.11 L223.92 452.39 L224 451.68 L224.1 451 L224.21 450.35 L224.33 449.71 L224.46 449.08 L224.59 448.46 L224.74 447.85 L224.89 447.24 L225.04 446.62 L225.2 446 L225.37 445.36 L225.55 444.7 L225.73 444.04 L225.92 443.38 L226.11 442.73 L226.29 442.11 L226.46 441.53 L226.6 441 L226.72 440.54 L226.82 440.14 L226.9 439.79 L226.98 439.46 L227.05 439.14 L227.13 438.8 L227.21 438.43 L227.3 438 L227.41 437.49 L227.53 436.9 L227.66 436.26 L227.79 435.61 L227.92 434.99 L228.03 434.42 L228.13 433.95 L228.2 433.6 Z" fill="#0b6a4e" stroke="#2a2a2a" stroke-width="0.55" stroke-linejoin="round"/>
<line x1="228.7" y1="417.2" x2="228.7" y2="434.5" stroke="#444" stroke-width="1.1"/>
<line x1="265.4" y1="425.7" x2="265.4" y2="492.6" stroke="#4a4a4a" stroke-width="0.8"/>
<line x1="249.4" y1="492.6" x2="281.4" y2="492.6" stroke="#4a4a4a" stroke-width="0.9"/>
<line x1="301.8" y1="406.6" x2="301.8" y2="492.6" stroke="#4a4a4a" stroke-width="0.8"/>
<line x1="285.8" y1="492.6" x2="317.8" y2="492.6" stroke="#4a4a4a" stroke-width="0.9"/>
<line x1="338.2" y1="414.6" x2="338.2" y2="492.6" stroke="#4a4a4a" stroke-width="0.8"/>
<line x1="322.2" y1="492.6" x2="354.2" y2="492.6" stroke="#4a4a4a" stroke-width="0.9"/>
<path d="M121.71 450.44h0M117.37 459.1h0M118.43 466.64h0M122.8 463.31h0M122.52 464.99h0M118.75 466.34h0M123.4 450.4h0M118.75 449.45h0M122.91 461.34h0M121.37 465.85h0M119.5 451.88h0M123.59 442.57h0M120.29 464.91h0M121.97 460.99h0M122.65 464.6h0M119.7 450.18h0M117.54 464.78h0M121.2 461.52h0M120.94 469.66h0M121.52 444.44h0M119.38 457.26h0M121.64 440.46h0M118.61 441.59h0M116.94 446.45h0M118.31 459.57h0M154.18 466.96h0M154.98 469.17h0M159.17 446.9h0M155.03 457.57h0M157.2 452.27h0M153.23 453.63h0M153.45 466.23h0M153.38 451.74h0M157.91 449.31h0M154.62 460.97h0M158.61 469.24h0M154.57 469.5h0M159.28 441.57h0M152.88 469.15h0M156 446.18h0M153.22 443.99h0M153.28 449.55h0M159.3 459.03h0M154.46 445.41h0M154.49 451.32h0M153.64 448.19h0M156.05 453.29h0M158.78 466.16h0M159.09 461.74h0M154.68 443.11h0M192.55 451.61h0M189.08 468.75h0M189.25 461h0M195.54 460.34h0M189.28 454.97h0M189.67 457.21h0M194.35 451.98h0M194.42 441.14h0M190.89 462.22h0M193.51 441.26h0M194.86 444.32h0M195.88 454.38h0M190.89 443.86h0M193.1 445.91h0M192.15 452.81h0M189.89 441.13h0M192.32 467.48h0M194.12 444.76h0M192.23 463.69h0M189.68 469.3h0M194.57 457.59h0M191.73 462.34h0M194.04 453.62h0M194.05 461.56h0M195.48 460.2h0M229.63 450.62h0M230.69 459.84h0M229.86 445.37h0M231.69 446.5h0M226.52 446.18h0M226.68 446.92h0M231.83 455.48h0M231.12 464.11h0M227.23 458.45h0M230.94 464.69h0M228.54 441.81h0M227.41 450.22h0M226.29 459.48h0M228.19 454.75h0M227.09 465.16h0M226.43 445.46h0M227.53 459.33h0M229.39 441.29h0M229.33 469.16h0M228.7 465.68h0M228.99 455.89h0M230.06 449.53h0M230.2 462.16h0M231.61 440.58h0M231.36 453.79h0" stroke="#5a1a1a" stroke-width="0.7" stroke-linecap="round" opacity="0.35"/>
<rect x="366.3" y="415.6" width="6.2" height="6.2" fill="#c8102e" stroke="#555" stroke-width="0.5"/>
<text x="375" y="421" font-size="6.5" fill="#333">NK−K562−DMSO</text>
<rect x="366.3" y="425.43" width="6.2" height="6.2" fill="#d07a1c" stroke="#555" stroke-width="0.5"/>
<text x="375" y="430.83" font-size="6.5" fill="#333">Imatinib−NK−K562</text>
<rect x="366.3" y="435.26" width="6.2" height="6.2" fill="#3cb034" stroke="#555" stroke-width="0.5"/>
<text x="375" y="440.66" font-size="6.5" fill="#333">Paclitaxel−NK−K562</text>
<rect x="366.3" y="445.09" width="6.2" height="6.2" fill="#0b6a4e" stroke="#555" stroke-width="0.5"/>
<text x="375" y="450.49" font-size="6.5" fill="#333">Birinapant−NK−K562</text>
<rect x="366.3" y="454.92" width="6.2" height="6.2" fill="#45aee8" stroke="#555" stroke-width="0.5"/>
<text x="375" y="460.32" font-size="6.5" fill="#333">Sotrastaurin−NK−K562</text>
<rect x="366.3" y="464.75" width="6.2" height="6.2" fill="#9b8fce" stroke="#555" stroke-width="0.5"/>
<text x="375" y="470.15" font-size="6.5" fill="#333">Dexamethasone−NK−K562</text>
<rect x="366.3" y="474.58" width="6.2" height="6.2" fill="#d4197a" stroke="#555" stroke-width="0.5"/>
<text x="375" y="479.98" font-size="6.5" fill="#333">Dasatinib−NK−K562</text>
<rect x="0.5" y="0.5" width="519" height="582" fill="none" stroke="#4a4a4a" stroke-width="1"/>
</svg>
</body></html>
